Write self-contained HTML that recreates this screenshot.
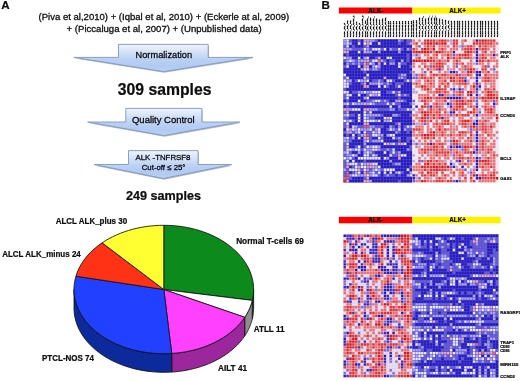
<!DOCTYPE html><html><head><meta charset="utf-8"><title>Figure</title>
<style>html,body{margin:0;padding:0;background:#fff}svg{display:block}text{font-family:"Liberation Sans",Arial,sans-serif;fill:#0a0a0a;stroke:#0a0a0a;stroke-width:0.28px;stroke-linejoin:round}.b{font-weight:bold;stroke-width:0.2px}</style></head><body>
<svg width="520" height="381" viewBox="0 0 520 381">
<defs>
<linearGradient id="ag" x1="0" y1="0" x2="0" y2="1"><stop offset="0" stop-color="#eef4fc"/><stop offset="0.3" stop-color="#d3e1f7"/><stop offset="0.55" stop-color="#bbd1f4"/><stop offset="0.8" stop-color="#b1caf2"/><stop offset="1" stop-color="#bcd2f4"/></linearGradient>
<filter id="bl" x="-2%" y="-2%" width="104%" height="104%"><feGaussianBlur stdDeviation="0.5"/></filter>
<filter id="bl2" x="-5%" y="-5%" width="110%" height="110%"><feGaussianBlur stdDeviation="0.3"/></filter>
<filter id="soft" x="0" y="0" width="100%" height="100%" filterUnits="objectBoundingBox"><feGaussianBlur stdDeviation="0.32"/></filter>
</defs>
<rect width="520" height="381" fill="#fff"/>
<g filter="url(#soft)">
<text class="b" x="1.3" y="8.5" font-size="11.6">A</text>
<text class="b" x="321.5" y="8.5" font-size="11.6">B</text>
<text x="38.6" y="20.2" font-size="9.45" text-anchor="start" textLength="250.6" lengthAdjust="spacingAndGlyphs">(Piva et al,2010) + (Iqbal et al, 2010) + (Eckerle at al, 2009)</text>
<text x="66.6" y="31.6" font-size="9.45" text-anchor="start" textLength="195" lengthAdjust="spacingAndGlyphs">+ (Piccaluga et al, 2007) + (Unpublished data)</text>
<path d="M118.5 44.4H208.2V57.4L253.0 57.4L163.5 71.6L73.8 57.4L118.5 57.4Z" transform="translate(0.7 1.2)" fill="#7d879b" opacity="0.6" filter="url(#bl2)"/>
<path d="M118.5 44.4H208.2V57.4L253.0 57.4L163.5 71.6L73.8 57.4L118.5 57.4Z" fill="url(#ag)" stroke="#7f97c3" stroke-width="0.9" stroke-linejoin="miter"/>
<text x="163.8" y="58.2" font-size="9.6" text-anchor="middle" textLength="56.5" lengthAdjust="spacingAndGlyphs">Normalization</text>
<text class="b" x="164.6" y="95.0" font-size="15.6" text-anchor="middle" textLength="93.8" lengthAdjust="spacingAndGlyphs">309 samples</text>
<path d="M125.8 108.4H201.9V122.0L239.8 122.0L163.8 135.6L87.7 122.0L125.8 122.0Z" transform="translate(0.7 1.2)" fill="#7d879b" opacity="0.6" filter="url(#bl2)"/>
<path d="M125.8 108.4H201.9V122.0L239.8 122.0L163.8 135.6L87.7 122.0L125.8 122.0Z" fill="url(#ag)" stroke="#7f97c3" stroke-width="0.9" stroke-linejoin="miter"/>
<text x="163.3" y="122.6" font-size="9.6" text-anchor="middle" textLength="62.6" lengthAdjust="spacingAndGlyphs">Quality Control</text>
<path d="M128.5 150.6H198.1V164.5L231.7 164.5L163.3 178.5L94.2 164.5L128.5 164.5Z" transform="translate(0.7 1.2)" fill="#7d879b" opacity="0.6" filter="url(#bl2)"/>
<path d="M128.5 150.6H198.1V164.5L231.7 164.5L163.3 178.5L94.2 164.5L128.5 164.5Z" fill="url(#ag)" stroke="#7f97c3" stroke-width="0.9" stroke-linejoin="miter"/>
<text x="163.0" y="159.6" font-size="8.1" text-anchor="middle" textLength="55" lengthAdjust="spacingAndGlyphs">ALK -TNFRSF8</text>
<text x="163.6" y="169.8" font-size="8.1" text-anchor="middle" textLength="43.75" lengthAdjust="spacingAndGlyphs">Cut-off ≤ 25°</text>
<text class="b" x="163.5" y="199.8" font-size="12.6" text-anchor="middle" textLength="75" lengthAdjust="spacingAndGlyphs">249 samples</text>
<g stroke="#111" stroke-width="0.85" stroke-linejoin="round">
<path d="M253.60 289.50 L253.60 289.96 L253.59 290.41 L253.58 290.87 L253.56 291.32 L253.54 291.78 L253.52 292.23 L253.49 292.69 L253.46 293.14 L253.42 293.60 L253.37 294.05 L253.33 294.51 L253.27 294.96 L253.22 295.41 L253.16 295.87 L253.09 296.32 L253.02 296.77 L252.95 297.23 L252.87 297.68 L252.78 298.13 L252.70 298.58 L252.60 299.03 L252.51 299.48 L252.41 299.93 L252.30 300.38 L252.30 318.98 L252.41 318.53 L252.51 318.08 L252.60 317.63 L252.70 317.18 L252.78 316.73 L252.87 316.28 L252.95 315.83 L253.02 315.37 L253.09 314.92 L253.16 314.47 L253.22 314.01 L253.27 313.56 L253.33 313.11 L253.37 312.65 L253.42 312.20 L253.46 311.74 L253.49 311.29 L253.52 310.83 L253.54 310.38 L253.56 309.92 L253.58 309.47 L253.59 309.01 L253.60 308.56 L253.60 308.10Z" fill="#0a5c12"/>
<path d="M252.30 300.38 L252.12 301.11 L251.92 301.84 L251.72 302.57 L251.50 303.30 L251.27 304.02 L251.03 304.74 L250.78 305.46 L250.52 306.18 L250.24 306.90 L249.95 307.61 L249.65 308.32 L249.34 309.03 L249.02 309.74 L248.69 310.44 L248.34 311.14 L247.99 311.84 L247.62 312.53 L247.24 313.22 L246.85 313.91 L246.45 314.60 L246.04 315.28 L245.62 315.96 L245.19 316.63 L244.74 317.30 L244.74 335.90 L245.19 335.23 L245.62 334.56 L246.04 333.88 L246.45 333.20 L246.85 332.51 L247.24 331.82 L247.62 331.13 L247.99 330.44 L248.34 329.74 L248.69 329.04 L249.02 328.34 L249.34 327.63 L249.65 326.92 L249.95 326.21 L250.24 325.50 L250.52 324.78 L250.78 324.06 L251.03 323.34 L251.27 322.62 L251.50 321.90 L251.72 321.17 L251.92 320.44 L252.12 319.71 L252.30 318.98Z" fill="#8e8e8e"/>
<path d="M244.74 317.30 L242.99 319.77 L241.09 322.18 L239.05 324.53 L236.87 326.82 L234.55 329.04 L232.10 331.18 L229.53 333.24 L226.83 335.23 L224.01 337.13 L221.09 338.94 L218.05 340.66 L214.92 342.28 L211.69 343.81 L208.37 345.23 L204.97 346.55 L201.49 347.77 L197.95 348.88 L194.34 349.87 L190.67 350.76 L186.95 351.53 L183.19 352.19 L179.39 352.72 L175.57 353.15 L171.72 353.45 L171.72 372.05 L175.57 371.75 L179.39 371.32 L183.19 370.79 L186.95 370.13 L190.67 369.36 L194.34 368.47 L197.95 367.48 L201.49 366.37 L204.97 365.15 L208.37 363.83 L211.69 362.41 L214.92 360.88 L218.05 359.26 L221.09 357.54 L224.01 355.73 L226.83 353.83 L229.53 351.84 L232.10 349.78 L234.55 347.64 L236.87 345.42 L239.05 343.13 L241.09 340.78 L242.99 338.37 L244.74 335.90Z" fill="#9c289c"/>
<path d="M171.72 353.45 L165.52 353.69 L159.32 353.62 L153.13 353.25 L147.00 352.57 L140.95 351.59 L135.00 350.31 L129.20 348.74 L123.55 346.89 L118.11 344.77 L112.87 342.38 L107.89 339.74 L103.17 336.86 L98.74 333.75 L94.62 330.43 L90.83 326.92 L87.39 323.22 L84.31 319.37 L81.61 315.37 L79.31 311.25 L77.41 307.03 L75.92 302.72 L74.86 298.35 L74.21 293.93 L74.00 289.50 L74.00 308.10 L74.21 312.53 L74.86 316.95 L75.92 321.32 L77.41 325.63 L79.31 329.85 L81.61 333.97 L84.31 337.97 L87.39 341.82 L90.83 345.52 L94.62 349.03 L98.74 352.35 L103.17 355.46 L107.89 358.34 L112.87 360.98 L118.11 363.37 L123.55 365.49 L129.20 367.34 L135.00 368.91 L140.95 370.19 L147.00 371.17 L153.13 371.85 L159.32 372.22 L165.52 372.29 L171.72 372.05Z" fill="#0c2a9c"/>
<path d="M163.8 289.5 L163.80 225.30 L168.40 225.38 L172.98 225.64 L177.54 226.06 L182.07 226.64 L186.54 227.39 L190.96 228.31 L195.31 229.38 L199.57 230.61 L203.74 232.00 L207.80 233.54 L211.75 235.22 L215.58 237.05 L219.26 239.01 L222.81 241.10 L226.19 243.33 L229.42 245.67 L232.47 248.13 L235.34 250.70 L238.03 253.37 L240.52 256.13 L242.80 258.98 L244.89 261.91 L246.75 264.92 L248.41 267.98 L249.84 271.11 L251.04 274.28 L252.02 277.49 L252.76 280.74 L253.27 284.00 L253.55 287.28 L253.59 290.57 L253.39 293.86 L252.96 297.13 L252.30 300.38Z" fill="#0f8a1e"/>
<path d="M163.8 289.5 L252.30 300.38 L251.32 303.88 L250.07 307.33 L248.55 310.72 L246.78 314.05 L244.74 317.30Z" fill="#ffffff"/>
<path d="M163.8 289.5 L244.74 317.30 L242.62 320.26 L240.29 323.13 L237.76 325.91 L235.03 328.60 L232.10 331.18 L229.00 333.65 L225.72 336.00 L222.27 338.23 L218.67 340.32 L214.92 342.28 L211.03 344.10 L207.02 345.77 L202.89 347.30 L198.66 348.66 L194.34 349.87 L189.93 350.92 L185.45 351.81 L180.92 352.52 L176.34 353.07 L171.72 353.45Z" fill="#ff40ff"/>
<path d="M163.8 289.5 L171.72 353.45 L167.20 353.65 L162.67 353.69 L158.14 353.57 L153.62 353.29 L149.14 352.84 L144.69 352.23 L140.28 351.46 L135.94 350.53 L131.67 349.45 L127.48 348.22 L123.39 346.83 L119.39 345.30 L115.51 343.63 L111.75 341.82 L108.13 339.87 L104.64 337.80 L101.31 335.61 L98.14 333.29 L95.13 330.87 L92.30 328.34 L89.65 325.71 L87.19 322.99 L84.92 320.19 L82.86 317.30 L81.00 314.35 L79.35 311.33 L77.92 308.26 L76.70 305.14 L75.71 301.98 L74.94 298.78 L74.40 295.57 L74.09 292.33 L74.00 289.10 L74.14 285.86 L74.52 282.63 L75.11 279.42 L75.94 276.23Z" fill="#2040ff"/>
<path d="M163.8 289.5 L75.94 276.23 L76.99 273.08 L78.26 269.97 L79.74 266.91 L81.44 263.91 L83.36 260.97 L85.47 258.10 L87.79 255.32 L90.29 252.62 L92.99 250.02 L95.87 247.51 L98.92 245.12 L102.13 242.83Z" fill="#ff3018"/>
<path d="M163.8 289.5 L102.13 242.83 L105.50 240.67 L109.02 238.63 L112.68 236.72 L116.47 234.94 L120.38 233.30 L124.40 231.81 L128.52 230.46 L132.73 229.26 L137.02 228.22 L141.38 227.33 L145.79 226.60 L150.26 226.03 L154.75 225.63 L159.27 225.38 L163.80 225.30Z" fill="#ffff30"/>
</g>
<text class="b" x="55.7" y="224.4" font-size="8.7" textLength="71.4" lengthAdjust="spacingAndGlyphs">ALCL ALK_plus 30</text>
<text class="b" x="2.2" y="257.2" font-size="8.7" textLength="78.6" lengthAdjust="spacingAndGlyphs">ALCL ALK_minus 24</text>
<text class="b" x="236.2" y="243.7" font-size="8.7" textLength="67.6" lengthAdjust="spacingAndGlyphs">Normal T-cells 69</text>
<text class="b" x="253.7" y="332" font-size="8.7" textLength="30.8" lengthAdjust="spacingAndGlyphs">ATLL 11</text>
<text class="b" x="218" y="371" font-size="8.7" textLength="29.0" lengthAdjust="spacingAndGlyphs">AILT 41</text>
<text class="b" x="42" y="360.7" font-size="8.7" textLength="52.0" lengthAdjust="spacingAndGlyphs">PTCL-NOS 74</text>
<g filter="url(#bl)">
<rect x="343.3" y="39.2" width="68.98" height="143.40" fill="#564bd0"/>
<rect x="412.28" y="39.2" width="86.22" height="143.40" fill="#f7d6dc"/>
<path d="M352.17 39.45h2.37v2.37h-2.37zM355.05 39.45h2.37v2.37h-2.37zM360.79 39.45h2.37v2.37h-2.37zM378.04 39.45h2.37v2.37h-2.37zM380.91 39.45h2.37v2.37h-2.37zM383.79 39.45h2.37v2.37h-2.37zM386.66 39.45h2.37v2.37h-2.37zM389.54 39.45h2.37v2.37h-2.37zM392.41 39.45h2.37v2.37h-2.37zM395.28 39.45h2.37v2.37h-2.37zM403.91 39.45h2.37v2.37h-2.37zM475.76 39.45h2.37v2.37h-2.37zM352.17 42.32h2.37v2.37h-2.37zM355.05 42.32h2.37v2.37h-2.37zM360.79 42.32h2.37v2.37h-2.37zM372.29 42.32h2.37v2.37h-2.37zM375.16 42.32h2.37v2.37h-2.37zM380.91 42.32h2.37v2.37h-2.37zM383.79 42.32h2.37v2.37h-2.37zM386.66 42.32h2.37v2.37h-2.37zM389.54 42.32h2.37v2.37h-2.37zM392.41 42.32h2.37v2.37h-2.37zM395.28 42.32h2.37v2.37h-2.37zM401.03 42.32h2.37v2.37h-2.37zM403.91 42.32h2.37v2.37h-2.37zM349.30 45.19h2.37v2.37h-2.37zM355.05 45.19h2.37v2.37h-2.37zM357.92 45.19h2.37v2.37h-2.37zM360.79 45.19h2.37v2.37h-2.37zM369.42 45.19h2.37v2.37h-2.37zM372.29 45.19h2.37v2.37h-2.37zM375.16 45.19h2.37v2.37h-2.37zM378.04 45.19h2.37v2.37h-2.37zM380.91 45.19h2.37v2.37h-2.37zM383.79 45.19h2.37v2.37h-2.37zM386.66 45.19h2.37v2.37h-2.37zM389.54 45.19h2.37v2.37h-2.37zM392.41 45.19h2.37v2.37h-2.37zM395.28 45.19h2.37v2.37h-2.37zM398.16 45.19h2.37v2.37h-2.37zM401.03 45.19h2.37v2.37h-2.37zM403.91 45.19h2.37v2.37h-2.37zM406.78 45.19h2.37v2.37h-2.37zM409.65 45.19h2.37v2.37h-2.37zM386.66 48.05h2.37v2.37h-2.37zM403.91 48.05h2.37v2.37h-2.37zM475.76 48.05h2.37v2.37h-2.37zM349.30 50.92h2.37v2.37h-2.37zM352.17 50.92h2.37v2.37h-2.37zM355.05 50.92h2.37v2.37h-2.37zM360.79 50.92h2.37v2.37h-2.37zM372.29 50.92h2.37v2.37h-2.37zM375.16 50.92h2.37v2.37h-2.37zM380.91 50.92h2.37v2.37h-2.37zM383.79 50.92h2.37v2.37h-2.37zM386.66 50.92h2.37v2.37h-2.37zM389.54 50.92h2.37v2.37h-2.37zM392.41 50.92h2.37v2.37h-2.37zM395.28 50.92h2.37v2.37h-2.37zM401.03 50.92h2.37v2.37h-2.37zM403.91 50.92h2.37v2.37h-2.37zM406.78 50.92h2.37v2.37h-2.37zM409.65 50.92h2.37v2.37h-2.37zM452.76 50.92h2.37v2.37h-2.37zM475.76 50.92h2.37v2.37h-2.37zM343.55 53.79h2.37v2.37h-2.37zM349.30 53.79h2.37v2.37h-2.37zM352.17 53.79h2.37v2.37h-2.37zM355.05 53.79h2.37v2.37h-2.37zM357.92 53.79h2.37v2.37h-2.37zM360.79 53.79h2.37v2.37h-2.37zM363.67 53.79h2.37v2.37h-2.37zM366.54 53.79h2.37v2.37h-2.37zM369.42 53.79h2.37v2.37h-2.37zM372.29 53.79h2.37v2.37h-2.37zM375.16 53.79h2.37v2.37h-2.37zM378.04 53.79h2.37v2.37h-2.37zM380.91 53.79h2.37v2.37h-2.37zM383.79 53.79h2.37v2.37h-2.37zM386.66 53.79h2.37v2.37h-2.37zM389.54 53.79h2.37v2.37h-2.37zM392.41 53.79h2.37v2.37h-2.37zM395.28 53.79h2.37v2.37h-2.37zM398.16 53.79h2.37v2.37h-2.37zM401.03 53.79h2.37v2.37h-2.37zM403.91 53.79h2.37v2.37h-2.37zM409.65 53.79h2.37v2.37h-2.37zM475.76 53.79h2.37v2.37h-2.37zM493.00 53.79h2.37v2.37h-2.37zM352.17 56.66h2.37v2.37h-2.37zM355.05 56.66h2.37v2.37h-2.37zM360.79 56.66h2.37v2.37h-2.37zM369.42 56.66h2.37v2.37h-2.37zM372.29 56.66h2.37v2.37h-2.37zM380.91 56.66h2.37v2.37h-2.37zM383.79 56.66h2.37v2.37h-2.37zM392.41 56.66h2.37v2.37h-2.37zM395.28 56.66h2.37v2.37h-2.37zM398.16 56.66h2.37v2.37h-2.37zM401.03 56.66h2.37v2.37h-2.37zM403.91 56.66h2.37v2.37h-2.37zM409.65 56.66h2.37v2.37h-2.37zM475.76 56.66h2.37v2.37h-2.37zM386.66 59.53h2.37v2.37h-2.37zM395.28 59.53h2.37v2.37h-2.37zM398.16 59.53h2.37v2.37h-2.37zM403.91 59.53h2.37v2.37h-2.37zM409.65 59.53h2.37v2.37h-2.37zM475.76 59.53h2.37v2.37h-2.37zM343.55 62.39h2.37v2.37h-2.37zM375.16 62.39h2.37v2.37h-2.37zM380.91 62.39h2.37v2.37h-2.37zM386.66 62.39h2.37v2.37h-2.37zM395.28 62.39h2.37v2.37h-2.37zM406.78 62.39h2.37v2.37h-2.37zM409.65 62.39h2.37v2.37h-2.37zM349.30 65.26h2.37v2.37h-2.37zM352.17 65.26h2.37v2.37h-2.37zM355.05 65.26h2.37v2.37h-2.37zM360.79 65.26h2.37v2.37h-2.37zM369.42 65.26h2.37v2.37h-2.37zM380.91 65.26h2.37v2.37h-2.37zM383.79 65.26h2.37v2.37h-2.37zM386.66 65.26h2.37v2.37h-2.37zM389.54 65.26h2.37v2.37h-2.37zM392.41 65.26h2.37v2.37h-2.37zM395.28 65.26h2.37v2.37h-2.37zM401.03 65.26h2.37v2.37h-2.37zM403.91 65.26h2.37v2.37h-2.37zM406.78 65.26h2.37v2.37h-2.37zM343.55 68.13h2.37v2.37h-2.37zM346.42 68.13h2.37v2.37h-2.37zM349.30 68.13h2.37v2.37h-2.37zM352.17 68.13h2.37v2.37h-2.37zM355.05 68.13h2.37v2.37h-2.37zM357.92 68.13h2.37v2.37h-2.37zM380.91 68.13h2.37v2.37h-2.37zM383.79 68.13h2.37v2.37h-2.37zM386.66 68.13h2.37v2.37h-2.37zM389.54 68.13h2.37v2.37h-2.37zM392.41 68.13h2.37v2.37h-2.37zM395.28 68.13h2.37v2.37h-2.37zM398.16 68.13h2.37v2.37h-2.37zM401.03 68.13h2.37v2.37h-2.37zM403.91 68.13h2.37v2.37h-2.37zM406.78 68.13h2.37v2.37h-2.37zM409.65 68.13h2.37v2.37h-2.37zM438.39 68.13h2.37v2.37h-2.37zM343.55 71.00h2.37v2.37h-2.37zM346.42 71.00h2.37v2.37h-2.37zM349.30 71.00h2.37v2.37h-2.37zM352.17 71.00h2.37v2.37h-2.37zM355.05 71.00h2.37v2.37h-2.37zM357.92 71.00h2.37v2.37h-2.37zM360.79 71.00h2.37v2.37h-2.37zM366.54 71.00h2.37v2.37h-2.37zM369.42 71.00h2.37v2.37h-2.37zM372.29 71.00h2.37v2.37h-2.37zM375.16 71.00h2.37v2.37h-2.37zM378.04 71.00h2.37v2.37h-2.37zM380.91 71.00h2.37v2.37h-2.37zM383.79 71.00h2.37v2.37h-2.37zM386.66 71.00h2.37v2.37h-2.37zM389.54 71.00h2.37v2.37h-2.37zM392.41 71.00h2.37v2.37h-2.37zM395.28 71.00h2.37v2.37h-2.37zM398.16 71.00h2.37v2.37h-2.37zM401.03 71.00h2.37v2.37h-2.37zM403.91 71.00h2.37v2.37h-2.37zM406.78 71.00h2.37v2.37h-2.37zM449.89 71.00h2.37v2.37h-2.37zM452.76 71.00h2.37v2.37h-2.37zM475.76 71.00h2.37v2.37h-2.37zM478.63 71.00h2.37v2.37h-2.37zM346.42 73.87h2.37v2.37h-2.37zM349.30 73.87h2.37v2.37h-2.37zM352.17 73.87h2.37v2.37h-2.37zM355.05 73.87h2.37v2.37h-2.37zM357.92 73.87h2.37v2.37h-2.37zM360.79 73.87h2.37v2.37h-2.37zM363.67 73.87h2.37v2.37h-2.37zM369.42 73.87h2.37v2.37h-2.37zM372.29 73.87h2.37v2.37h-2.37zM375.16 73.87h2.37v2.37h-2.37zM378.04 73.87h2.37v2.37h-2.37zM380.91 73.87h2.37v2.37h-2.37zM383.79 73.87h2.37v2.37h-2.37zM386.66 73.87h2.37v2.37h-2.37zM389.54 73.87h2.37v2.37h-2.37zM392.41 73.87h2.37v2.37h-2.37zM395.28 73.87h2.37v2.37h-2.37zM406.78 73.87h2.37v2.37h-2.37zM409.65 73.87h2.37v2.37h-2.37zM475.76 73.87h2.37v2.37h-2.37zM478.63 73.87h2.37v2.37h-2.37zM349.30 76.73h2.37v2.37h-2.37zM352.17 76.73h2.37v2.37h-2.37zM355.05 76.73h2.37v2.37h-2.37zM357.92 76.73h2.37v2.37h-2.37zM360.79 76.73h2.37v2.37h-2.37zM369.42 76.73h2.37v2.37h-2.37zM372.29 76.73h2.37v2.37h-2.37zM375.16 76.73h2.37v2.37h-2.37zM378.04 76.73h2.37v2.37h-2.37zM380.91 76.73h2.37v2.37h-2.37zM386.66 76.73h2.37v2.37h-2.37zM389.54 76.73h2.37v2.37h-2.37zM392.41 76.73h2.37v2.37h-2.37zM395.28 76.73h2.37v2.37h-2.37zM406.78 76.73h2.37v2.37h-2.37zM409.65 76.73h2.37v2.37h-2.37zM475.76 76.73h2.37v2.37h-2.37zM352.17 79.60h2.37v2.37h-2.37zM369.42 79.60h2.37v2.37h-2.37zM383.79 79.60h2.37v2.37h-2.37zM395.28 79.60h2.37v2.37h-2.37zM398.16 79.60h2.37v2.37h-2.37zM401.03 79.60h2.37v2.37h-2.37zM464.26 79.60h2.37v2.37h-2.37zM475.76 79.60h2.37v2.37h-2.37zM352.17 82.47h2.37v2.37h-2.37zM355.05 82.47h2.37v2.37h-2.37zM357.92 82.47h2.37v2.37h-2.37zM366.54 82.47h2.37v2.37h-2.37zM392.41 82.47h2.37v2.37h-2.37zM403.91 82.47h2.37v2.37h-2.37zM406.78 82.47h2.37v2.37h-2.37zM409.65 82.47h2.37v2.37h-2.37zM475.76 82.47h2.37v2.37h-2.37zM349.30 85.34h2.37v2.37h-2.37zM352.17 85.34h2.37v2.37h-2.37zM355.05 85.34h2.37v2.37h-2.37zM357.92 85.34h2.37v2.37h-2.37zM360.79 85.34h2.37v2.37h-2.37zM369.42 85.34h2.37v2.37h-2.37zM372.29 85.34h2.37v2.37h-2.37zM375.16 85.34h2.37v2.37h-2.37zM380.91 85.34h2.37v2.37h-2.37zM389.54 85.34h2.37v2.37h-2.37zM392.41 85.34h2.37v2.37h-2.37zM401.03 85.34h2.37v2.37h-2.37zM403.91 85.34h2.37v2.37h-2.37zM406.78 85.34h2.37v2.37h-2.37zM409.65 85.34h2.37v2.37h-2.37zM478.63 85.34h2.37v2.37h-2.37zM346.42 88.21h2.37v2.37h-2.37zM349.30 88.21h2.37v2.37h-2.37zM352.17 88.21h2.37v2.37h-2.37zM355.05 88.21h2.37v2.37h-2.37zM357.92 88.21h2.37v2.37h-2.37zM360.79 88.21h2.37v2.37h-2.37zM363.67 88.21h2.37v2.37h-2.37zM366.54 88.21h2.37v2.37h-2.37zM369.42 88.21h2.37v2.37h-2.37zM372.29 88.21h2.37v2.37h-2.37zM375.16 88.21h2.37v2.37h-2.37zM378.04 88.21h2.37v2.37h-2.37zM380.91 88.21h2.37v2.37h-2.37zM383.79 88.21h2.37v2.37h-2.37zM386.66 88.21h2.37v2.37h-2.37zM389.54 88.21h2.37v2.37h-2.37zM392.41 88.21h2.37v2.37h-2.37zM395.28 88.21h2.37v2.37h-2.37zM398.16 88.21h2.37v2.37h-2.37zM401.03 88.21h2.37v2.37h-2.37zM403.91 88.21h2.37v2.37h-2.37zM406.78 88.21h2.37v2.37h-2.37zM409.65 88.21h2.37v2.37h-2.37zM452.76 88.21h2.37v2.37h-2.37zM458.51 88.21h2.37v2.37h-2.37zM475.76 88.21h2.37v2.37h-2.37zM349.30 91.07h2.37v2.37h-2.37zM380.91 91.07h2.37v2.37h-2.37zM383.79 91.07h2.37v2.37h-2.37zM401.03 91.07h2.37v2.37h-2.37zM403.91 91.07h2.37v2.37h-2.37zM406.78 91.07h2.37v2.37h-2.37zM409.65 91.07h2.37v2.37h-2.37zM352.17 93.94h2.37v2.37h-2.37zM355.05 93.94h2.37v2.37h-2.37zM360.79 93.94h2.37v2.37h-2.37zM363.67 93.94h2.37v2.37h-2.37zM380.91 93.94h2.37v2.37h-2.37zM383.79 93.94h2.37v2.37h-2.37zM386.66 93.94h2.37v2.37h-2.37zM389.54 93.94h2.37v2.37h-2.37zM392.41 93.94h2.37v2.37h-2.37zM409.65 93.94h2.37v2.37h-2.37zM438.39 93.94h2.37v2.37h-2.37zM441.27 93.94h2.37v2.37h-2.37zM470.01 93.94h2.37v2.37h-2.37zM475.76 93.94h2.37v2.37h-2.37zM349.30 96.81h2.37v2.37h-2.37zM352.17 96.81h2.37v2.37h-2.37zM355.05 96.81h2.37v2.37h-2.37zM357.92 96.81h2.37v2.37h-2.37zM360.79 96.81h2.37v2.37h-2.37zM369.42 96.81h2.37v2.37h-2.37zM372.29 96.81h2.37v2.37h-2.37zM375.16 96.81h2.37v2.37h-2.37zM378.04 96.81h2.37v2.37h-2.37zM380.91 96.81h2.37v2.37h-2.37zM383.79 96.81h2.37v2.37h-2.37zM386.66 96.81h2.37v2.37h-2.37zM389.54 96.81h2.37v2.37h-2.37zM392.41 96.81h2.37v2.37h-2.37zM395.28 96.81h2.37v2.37h-2.37zM401.03 96.81h2.37v2.37h-2.37zM403.91 96.81h2.37v2.37h-2.37zM406.78 96.81h2.37v2.37h-2.37zM409.65 96.81h2.37v2.37h-2.37zM447.02 96.81h2.37v2.37h-2.37zM449.89 96.81h2.37v2.37h-2.37zM452.76 96.81h2.37v2.37h-2.37zM455.64 96.81h2.37v2.37h-2.37zM458.51 96.81h2.37v2.37h-2.37zM343.55 99.68h2.37v2.37h-2.37zM349.30 99.68h2.37v2.37h-2.37zM352.17 99.68h2.37v2.37h-2.37zM355.05 99.68h2.37v2.37h-2.37zM360.79 99.68h2.37v2.37h-2.37zM363.67 99.68h2.37v2.37h-2.37zM389.54 99.68h2.37v2.37h-2.37zM392.41 99.68h2.37v2.37h-2.37zM406.78 99.68h2.37v2.37h-2.37zM409.65 99.68h2.37v2.37h-2.37zM401.03 102.55h2.37v2.37h-2.37zM403.91 102.55h2.37v2.37h-2.37zM406.78 102.55h2.37v2.37h-2.37zM447.02 102.55h2.37v2.37h-2.37zM493.00 102.55h2.37v2.37h-2.37zM343.55 105.41h2.37v2.37h-2.37zM349.30 105.41h2.37v2.37h-2.37zM352.17 105.41h2.37v2.37h-2.37zM355.05 105.41h2.37v2.37h-2.37zM357.92 105.41h2.37v2.37h-2.37zM360.79 105.41h2.37v2.37h-2.37zM363.67 105.41h2.37v2.37h-2.37zM366.54 105.41h2.37v2.37h-2.37zM369.42 105.41h2.37v2.37h-2.37zM372.29 105.41h2.37v2.37h-2.37zM375.16 105.41h2.37v2.37h-2.37zM378.04 105.41h2.37v2.37h-2.37zM380.91 105.41h2.37v2.37h-2.37zM383.79 105.41h2.37v2.37h-2.37zM386.66 105.41h2.37v2.37h-2.37zM392.41 105.41h2.37v2.37h-2.37zM395.28 105.41h2.37v2.37h-2.37zM401.03 105.41h2.37v2.37h-2.37zM403.91 105.41h2.37v2.37h-2.37zM406.78 105.41h2.37v2.37h-2.37zM409.65 105.41h2.37v2.37h-2.37zM415.40 105.41h2.37v2.37h-2.37zM429.77 105.41h2.37v2.37h-2.37zM449.89 105.41h2.37v2.37h-2.37zM475.76 105.41h2.37v2.37h-2.37zM360.79 108.28h2.37v2.37h-2.37zM395.28 108.28h2.37v2.37h-2.37zM349.30 111.15h2.37v2.37h-2.37zM352.17 111.15h2.37v2.37h-2.37zM355.05 111.15h2.37v2.37h-2.37zM357.92 111.15h2.37v2.37h-2.37zM360.79 111.15h2.37v2.37h-2.37zM372.29 111.15h2.37v2.37h-2.37zM375.16 111.15h2.37v2.37h-2.37zM378.04 111.15h2.37v2.37h-2.37zM380.91 111.15h2.37v2.37h-2.37zM383.79 111.15h2.37v2.37h-2.37zM386.66 111.15h2.37v2.37h-2.37zM389.54 111.15h2.37v2.37h-2.37zM392.41 111.15h2.37v2.37h-2.37zM395.28 111.15h2.37v2.37h-2.37zM398.16 111.15h2.37v2.37h-2.37zM401.03 111.15h2.37v2.37h-2.37zM403.91 111.15h2.37v2.37h-2.37zM406.78 111.15h2.37v2.37h-2.37zM409.65 111.15h2.37v2.37h-2.37zM449.89 111.15h2.37v2.37h-2.37zM452.76 111.15h2.37v2.37h-2.37zM355.05 114.02h2.37v2.37h-2.37zM360.79 114.02h2.37v2.37h-2.37zM383.79 114.02h2.37v2.37h-2.37zM386.66 114.02h2.37v2.37h-2.37zM389.54 114.02h2.37v2.37h-2.37zM401.03 114.02h2.37v2.37h-2.37zM403.91 114.02h2.37v2.37h-2.37zM406.78 114.02h2.37v2.37h-2.37zM475.76 114.02h2.37v2.37h-2.37zM349.30 116.89h2.37v2.37h-2.37zM352.17 116.89h2.37v2.37h-2.37zM355.05 116.89h2.37v2.37h-2.37zM360.79 116.89h2.37v2.37h-2.37zM375.16 116.89h2.37v2.37h-2.37zM378.04 116.89h2.37v2.37h-2.37zM380.91 116.89h2.37v2.37h-2.37zM392.41 116.89h2.37v2.37h-2.37zM395.28 116.89h2.37v2.37h-2.37zM398.16 116.89h2.37v2.37h-2.37zM401.03 116.89h2.37v2.37h-2.37zM403.91 116.89h2.37v2.37h-2.37zM406.78 116.89h2.37v2.37h-2.37zM409.65 116.89h2.37v2.37h-2.37zM441.27 116.89h2.37v2.37h-2.37zM355.05 119.75h2.37v2.37h-2.37zM360.79 119.75h2.37v2.37h-2.37zM380.91 119.75h2.37v2.37h-2.37zM392.41 119.75h2.37v2.37h-2.37zM395.28 119.75h2.37v2.37h-2.37zM398.16 119.75h2.37v2.37h-2.37zM401.03 119.75h2.37v2.37h-2.37zM403.91 119.75h2.37v2.37h-2.37zM406.78 119.75h2.37v2.37h-2.37zM409.65 119.75h2.37v2.37h-2.37zM475.76 119.75h2.37v2.37h-2.37zM349.30 122.62h2.37v2.37h-2.37zM352.17 122.62h2.37v2.37h-2.37zM355.05 122.62h2.37v2.37h-2.37zM357.92 122.62h2.37v2.37h-2.37zM360.79 122.62h2.37v2.37h-2.37zM369.42 122.62h2.37v2.37h-2.37zM372.29 122.62h2.37v2.37h-2.37zM375.16 122.62h2.37v2.37h-2.37zM378.04 122.62h2.37v2.37h-2.37zM380.91 122.62h2.37v2.37h-2.37zM383.79 122.62h2.37v2.37h-2.37zM386.66 122.62h2.37v2.37h-2.37zM389.54 122.62h2.37v2.37h-2.37zM392.41 122.62h2.37v2.37h-2.37zM401.03 122.62h2.37v2.37h-2.37zM403.91 122.62h2.37v2.37h-2.37zM406.78 122.62h2.37v2.37h-2.37zM409.65 122.62h2.37v2.37h-2.37zM472.88 122.62h2.37v2.37h-2.37zM475.76 122.62h2.37v2.37h-2.37zM349.30 125.49h2.37v2.37h-2.37zM383.79 125.49h2.37v2.37h-2.37zM386.66 125.49h2.37v2.37h-2.37zM395.28 125.49h2.37v2.37h-2.37zM401.03 125.49h2.37v2.37h-2.37zM343.55 128.36h2.37v2.37h-2.37zM380.91 128.36h2.37v2.37h-2.37zM383.79 128.36h2.37v2.37h-2.37zM401.03 128.36h2.37v2.37h-2.37zM360.79 131.23h2.37v2.37h-2.37zM380.91 131.23h2.37v2.37h-2.37zM383.79 131.23h2.37v2.37h-2.37zM386.66 131.23h2.37v2.37h-2.37zM389.54 131.23h2.37v2.37h-2.37zM392.41 131.23h2.37v2.37h-2.37zM401.03 131.23h2.37v2.37h-2.37zM403.91 131.23h2.37v2.37h-2.37zM409.65 131.23h2.37v2.37h-2.37zM475.76 131.23h2.37v2.37h-2.37zM343.55 134.09h2.37v2.37h-2.37zM349.30 134.09h2.37v2.37h-2.37zM355.05 134.09h2.37v2.37h-2.37zM383.79 134.09h2.37v2.37h-2.37zM395.28 134.09h2.37v2.37h-2.37zM398.16 134.09h2.37v2.37h-2.37zM401.03 134.09h2.37v2.37h-2.37zM403.91 134.09h2.37v2.37h-2.37zM406.78 134.09h2.37v2.37h-2.37zM409.65 134.09h2.37v2.37h-2.37zM475.76 134.09h2.37v2.37h-2.37zM355.05 136.96h2.37v2.37h-2.37zM360.79 136.96h2.37v2.37h-2.37zM372.29 136.96h2.37v2.37h-2.37zM375.16 136.96h2.37v2.37h-2.37zM383.79 136.96h2.37v2.37h-2.37zM386.66 136.96h2.37v2.37h-2.37zM389.54 136.96h2.37v2.37h-2.37zM401.03 136.96h2.37v2.37h-2.37zM403.91 136.96h2.37v2.37h-2.37zM475.76 136.96h2.37v2.37h-2.37zM352.17 139.83h2.37v2.37h-2.37zM355.05 139.83h2.37v2.37h-2.37zM357.92 139.83h2.37v2.37h-2.37zM360.79 139.83h2.37v2.37h-2.37zM383.79 139.83h2.37v2.37h-2.37zM386.66 139.83h2.37v2.37h-2.37zM389.54 139.83h2.37v2.37h-2.37zM392.41 139.83h2.37v2.37h-2.37zM395.28 139.83h2.37v2.37h-2.37zM401.03 139.83h2.37v2.37h-2.37zM403.91 139.83h2.37v2.37h-2.37zM409.65 139.83h2.37v2.37h-2.37zM475.76 139.83h2.37v2.37h-2.37zM349.30 142.70h2.37v2.37h-2.37zM352.17 142.70h2.37v2.37h-2.37zM355.05 142.70h2.37v2.37h-2.37zM357.92 142.70h2.37v2.37h-2.37zM360.79 142.70h2.37v2.37h-2.37zM366.54 142.70h2.37v2.37h-2.37zM369.42 142.70h2.37v2.37h-2.37zM372.29 142.70h2.37v2.37h-2.37zM375.16 142.70h2.37v2.37h-2.37zM378.04 142.70h2.37v2.37h-2.37zM380.91 142.70h2.37v2.37h-2.37zM406.78 142.70h2.37v2.37h-2.37zM409.65 142.70h2.37v2.37h-2.37zM429.77 142.70h2.37v2.37h-2.37zM349.30 145.57h2.37v2.37h-2.37zM352.17 145.57h2.37v2.37h-2.37zM360.79 145.57h2.37v2.37h-2.37zM380.91 145.57h2.37v2.37h-2.37zM383.79 145.57h2.37v2.37h-2.37zM386.66 145.57h2.37v2.37h-2.37zM389.54 145.57h2.37v2.37h-2.37zM392.41 145.57h2.37v2.37h-2.37zM395.28 145.57h2.37v2.37h-2.37zM398.16 145.57h2.37v2.37h-2.37zM401.03 145.57h2.37v2.37h-2.37zM403.91 145.57h2.37v2.37h-2.37zM406.78 145.57h2.37v2.37h-2.37zM449.89 145.57h2.37v2.37h-2.37zM455.64 145.57h2.37v2.37h-2.37zM458.51 145.57h2.37v2.37h-2.37zM475.76 145.57h2.37v2.37h-2.37zM395.28 148.43h2.37v2.37h-2.37zM398.16 148.43h2.37v2.37h-2.37zM401.03 148.43h2.37v2.37h-2.37zM403.91 148.43h2.37v2.37h-2.37zM475.76 148.43h2.37v2.37h-2.37zM352.17 151.30h2.37v2.37h-2.37zM355.05 151.30h2.37v2.37h-2.37zM360.79 151.30h2.37v2.37h-2.37zM375.16 151.30h2.37v2.37h-2.37zM378.04 151.30h2.37v2.37h-2.37zM380.91 151.30h2.37v2.37h-2.37zM386.66 151.30h2.37v2.37h-2.37zM401.03 151.30h2.37v2.37h-2.37zM403.91 151.30h2.37v2.37h-2.37zM406.78 151.30h2.37v2.37h-2.37zM409.65 151.30h2.37v2.37h-2.37zM472.88 151.30h2.37v2.37h-2.37zM357.92 154.17h2.37v2.37h-2.37zM360.79 154.17h2.37v2.37h-2.37zM378.04 154.17h2.37v2.37h-2.37zM380.91 154.17h2.37v2.37h-2.37zM383.79 154.17h2.37v2.37h-2.37zM386.66 154.17h2.37v2.37h-2.37zM406.78 154.17h2.37v2.37h-2.37zM409.65 154.17h2.37v2.37h-2.37zM355.05 157.04h2.37v2.37h-2.37zM380.91 157.04h2.37v2.37h-2.37zM389.54 157.04h2.37v2.37h-2.37zM392.41 157.04h2.37v2.37h-2.37zM395.28 157.04h2.37v2.37h-2.37zM401.03 157.04h2.37v2.37h-2.37zM403.91 157.04h2.37v2.37h-2.37zM406.78 157.04h2.37v2.37h-2.37zM409.65 157.04h2.37v2.37h-2.37zM475.76 157.04h2.37v2.37h-2.37zM349.30 159.91h2.37v2.37h-2.37zM355.05 159.91h2.37v2.37h-2.37zM357.92 159.91h2.37v2.37h-2.37zM360.79 159.91h2.37v2.37h-2.37zM366.54 159.91h2.37v2.37h-2.37zM369.42 159.91h2.37v2.37h-2.37zM372.29 159.91h2.37v2.37h-2.37zM375.16 159.91h2.37v2.37h-2.37zM378.04 159.91h2.37v2.37h-2.37zM380.91 159.91h2.37v2.37h-2.37zM383.79 159.91h2.37v2.37h-2.37zM386.66 159.91h2.37v2.37h-2.37zM392.41 159.91h2.37v2.37h-2.37zM395.28 159.91h2.37v2.37h-2.37zM398.16 159.91h2.37v2.37h-2.37zM401.03 159.91h2.37v2.37h-2.37zM403.91 159.91h2.37v2.37h-2.37zM406.78 159.91h2.37v2.37h-2.37zM409.65 159.91h2.37v2.37h-2.37zM458.51 159.91h2.37v2.37h-2.37zM475.76 159.91h2.37v2.37h-2.37zM378.04 162.77h2.37v2.37h-2.37zM380.91 162.77h2.37v2.37h-2.37zM383.79 162.77h2.37v2.37h-2.37zM386.66 162.77h2.37v2.37h-2.37zM389.54 162.77h2.37v2.37h-2.37zM401.03 162.77h2.37v2.37h-2.37zM403.91 162.77h2.37v2.37h-2.37zM406.78 162.77h2.37v2.37h-2.37zM409.65 162.77h2.37v2.37h-2.37zM449.89 162.77h2.37v2.37h-2.37zM475.76 162.77h2.37v2.37h-2.37zM349.30 165.64h2.37v2.37h-2.37zM380.91 165.64h2.37v2.37h-2.37zM383.79 165.64h2.37v2.37h-2.37zM386.66 165.64h2.37v2.37h-2.37zM389.54 165.64h2.37v2.37h-2.37zM392.41 165.64h2.37v2.37h-2.37zM395.28 165.64h2.37v2.37h-2.37zM398.16 165.64h2.37v2.37h-2.37zM401.03 165.64h2.37v2.37h-2.37zM403.91 165.64h2.37v2.37h-2.37zM406.78 165.64h2.37v2.37h-2.37zM452.76 165.64h2.37v2.37h-2.37zM461.39 165.64h2.37v2.37h-2.37zM475.76 165.64h2.37v2.37h-2.37zM395.28 168.51h2.37v2.37h-2.37zM398.16 168.51h2.37v2.37h-2.37zM401.03 168.51h2.37v2.37h-2.37zM403.91 168.51h2.37v2.37h-2.37zM409.65 168.51h2.37v2.37h-2.37zM475.76 168.51h2.37v2.37h-2.37zM349.30 171.38h2.37v2.37h-2.37zM360.79 171.38h2.37v2.37h-2.37zM380.91 171.38h2.37v2.37h-2.37zM386.66 171.38h2.37v2.37h-2.37zM392.41 171.38h2.37v2.37h-2.37zM403.91 171.38h2.37v2.37h-2.37zM406.78 171.38h2.37v2.37h-2.37zM380.91 174.25h2.37v2.37h-2.37zM395.28 174.25h2.37v2.37h-2.37zM401.03 174.25h2.37v2.37h-2.37zM403.91 174.25h2.37v2.37h-2.37zM412.53 174.25h2.37v2.37h-2.37zM475.76 174.25h2.37v2.37h-2.37zM352.17 177.11h2.37v2.37h-2.37zM355.05 177.11h2.37v2.37h-2.37zM357.92 177.11h2.37v2.37h-2.37zM360.79 177.11h2.37v2.37h-2.37zM369.42 177.11h2.37v2.37h-2.37zM372.29 177.11h2.37v2.37h-2.37zM375.16 177.11h2.37v2.37h-2.37zM378.04 177.11h2.37v2.37h-2.37zM380.91 177.11h2.37v2.37h-2.37zM383.79 177.11h2.37v2.37h-2.37zM386.66 177.11h2.37v2.37h-2.37zM389.54 177.11h2.37v2.37h-2.37zM392.41 177.11h2.37v2.37h-2.37zM395.28 177.11h2.37v2.37h-2.37zM398.16 177.11h2.37v2.37h-2.37zM401.03 177.11h2.37v2.37h-2.37zM403.91 177.11h2.37v2.37h-2.37zM406.78 177.11h2.37v2.37h-2.37zM409.65 177.11h2.37v2.37h-2.37zM412.53 177.11h2.37v2.37h-2.37zM475.76 177.11h2.37v2.37h-2.37zM478.63 177.11h2.37v2.37h-2.37zM349.30 179.98h2.37v2.37h-2.37zM352.17 179.98h2.37v2.37h-2.37zM355.05 179.98h2.37v2.37h-2.37zM357.92 179.98h2.37v2.37h-2.37zM360.79 179.98h2.37v2.37h-2.37zM372.29 179.98h2.37v2.37h-2.37zM375.16 179.98h2.37v2.37h-2.37zM378.04 179.98h2.37v2.37h-2.37zM380.91 179.98h2.37v2.37h-2.37zM383.79 179.98h2.37v2.37h-2.37zM386.66 179.98h2.37v2.37h-2.37zM389.54 179.98h2.37v2.37h-2.37zM392.41 179.98h2.37v2.37h-2.37zM395.28 179.98h2.37v2.37h-2.37zM401.03 179.98h2.37v2.37h-2.37zM403.91 179.98h2.37v2.37h-2.37zM406.78 179.98h2.37v2.37h-2.37zM409.65 179.98h2.37v2.37h-2.37zM455.64 179.98h2.37v2.37h-2.37z" fill="#261cbe"/>
<path d="M349.30 39.45h2.37v2.37h-2.37zM357.92 39.45h2.37v2.37h-2.37zM375.16 39.45h2.37v2.37h-2.37zM401.03 39.45h2.37v2.37h-2.37zM406.78 39.45h2.37v2.37h-2.37zM409.65 39.45h2.37v2.37h-2.37zM398.16 42.32h2.37v2.37h-2.37zM406.78 42.32h2.37v2.37h-2.37zM343.55 45.19h2.37v2.37h-2.37zM352.17 45.19h2.37v2.37h-2.37zM363.67 45.19h2.37v2.37h-2.37zM418.28 45.19h2.37v2.37h-2.37zM461.39 45.19h2.37v2.37h-2.37zM352.17 48.05h2.37v2.37h-2.37zM355.05 48.05h2.37v2.37h-2.37zM357.92 48.05h2.37v2.37h-2.37zM360.79 48.05h2.37v2.37h-2.37zM369.42 48.05h2.37v2.37h-2.37zM380.91 48.05h2.37v2.37h-2.37zM392.41 48.05h2.37v2.37h-2.37zM395.28 48.05h2.37v2.37h-2.37zM401.03 48.05h2.37v2.37h-2.37zM409.65 48.05h2.37v2.37h-2.37zM346.42 53.79h2.37v2.37h-2.37zM406.78 53.79h2.37v2.37h-2.37zM415.40 53.79h2.37v2.37h-2.37zM452.76 53.79h2.37v2.37h-2.37zM375.16 56.66h2.37v2.37h-2.37zM406.78 56.66h2.37v2.37h-2.37zM343.55 59.53h2.37v2.37h-2.37zM355.05 59.53h2.37v2.37h-2.37zM369.42 59.53h2.37v2.37h-2.37zM383.79 59.53h2.37v2.37h-2.37zM389.54 59.53h2.37v2.37h-2.37zM392.41 59.53h2.37v2.37h-2.37zM406.78 59.53h2.37v2.37h-2.37zM349.30 62.39h2.37v2.37h-2.37zM355.05 62.39h2.37v2.37h-2.37zM360.79 62.39h2.37v2.37h-2.37zM401.03 62.39h2.37v2.37h-2.37zM403.91 62.39h2.37v2.37h-2.37zM475.76 62.39h2.37v2.37h-2.37zM343.55 65.26h2.37v2.37h-2.37zM409.65 65.26h2.37v2.37h-2.37zM429.77 65.26h2.37v2.37h-2.37zM455.64 65.26h2.37v2.37h-2.37zM487.25 65.26h2.37v2.37h-2.37zM369.42 68.13h2.37v2.37h-2.37zM378.04 68.13h2.37v2.37h-2.37zM464.26 68.13h2.37v2.37h-2.37zM493.00 68.13h2.37v2.37h-2.37zM363.67 71.00h2.37v2.37h-2.37zM409.65 71.00h2.37v2.37h-2.37zM424.02 71.00h2.37v2.37h-2.37zM455.64 71.00h2.37v2.37h-2.37zM398.16 73.87h2.37v2.37h-2.37zM415.40 73.87h2.37v2.37h-2.37zM458.51 73.87h2.37v2.37h-2.37zM343.55 76.73h2.37v2.37h-2.37zM366.54 76.73h2.37v2.37h-2.37zM403.91 76.73h2.37v2.37h-2.37zM412.53 76.73h2.37v2.37h-2.37zM415.40 76.73h2.37v2.37h-2.37zM464.26 76.73h2.37v2.37h-2.37zM355.05 79.60h2.37v2.37h-2.37zM372.29 79.60h2.37v2.37h-2.37zM375.16 79.60h2.37v2.37h-2.37zM380.91 79.60h2.37v2.37h-2.37zM392.41 79.60h2.37v2.37h-2.37zM403.91 79.60h2.37v2.37h-2.37zM409.65 79.60h2.37v2.37h-2.37zM349.30 82.47h2.37v2.37h-2.37zM360.79 82.47h2.37v2.37h-2.37zM383.79 82.47h2.37v2.37h-2.37zM389.54 82.47h2.37v2.37h-2.37zM395.28 82.47h2.37v2.37h-2.37zM398.16 82.47h2.37v2.37h-2.37zM401.03 82.47h2.37v2.37h-2.37zM386.66 85.34h2.37v2.37h-2.37zM395.28 85.34h2.37v2.37h-2.37zM475.76 85.34h2.37v2.37h-2.37zM343.55 88.21h2.37v2.37h-2.37zM449.89 88.21h2.37v2.37h-2.37zM461.39 88.21h2.37v2.37h-2.37zM352.17 91.07h2.37v2.37h-2.37zM355.05 91.07h2.37v2.37h-2.37zM386.66 91.07h2.37v2.37h-2.37zM389.54 91.07h2.37v2.37h-2.37zM395.28 91.07h2.37v2.37h-2.37zM475.76 91.07h2.37v2.37h-2.37zM343.55 93.94h2.37v2.37h-2.37zM366.54 93.94h2.37v2.37h-2.37zM395.28 93.94h2.37v2.37h-2.37zM401.03 93.94h2.37v2.37h-2.37zM406.78 93.94h2.37v2.37h-2.37zM452.76 93.94h2.37v2.37h-2.37zM343.55 96.81h2.37v2.37h-2.37zM398.16 96.81h2.37v2.37h-2.37zM461.39 96.81h2.37v2.37h-2.37zM475.76 96.81h2.37v2.37h-2.37zM346.42 99.68h2.37v2.37h-2.37zM366.54 99.68h2.37v2.37h-2.37zM369.42 99.68h2.37v2.37h-2.37zM380.91 99.68h2.37v2.37h-2.37zM386.66 99.68h2.37v2.37h-2.37zM403.91 99.68h2.37v2.37h-2.37zM412.53 99.68h2.37v2.37h-2.37zM475.76 99.68h2.37v2.37h-2.37zM493.00 99.68h2.37v2.37h-2.37zM349.30 102.55h2.37v2.37h-2.37zM375.16 102.55h2.37v2.37h-2.37zM378.04 102.55h2.37v2.37h-2.37zM380.91 102.55h2.37v2.37h-2.37zM383.79 102.55h2.37v2.37h-2.37zM389.54 102.55h2.37v2.37h-2.37zM395.28 102.55h2.37v2.37h-2.37zM398.16 102.55h2.37v2.37h-2.37zM409.65 102.55h2.37v2.37h-2.37zM449.89 102.55h2.37v2.37h-2.37zM475.76 102.55h2.37v2.37h-2.37zM346.42 105.41h2.37v2.37h-2.37zM426.90 105.41h2.37v2.37h-2.37zM438.39 105.41h2.37v2.37h-2.37zM493.00 105.41h2.37v2.37h-2.37zM378.04 108.28h2.37v2.37h-2.37zM380.91 108.28h2.37v2.37h-2.37zM383.79 108.28h2.37v2.37h-2.37zM386.66 108.28h2.37v2.37h-2.37zM398.16 108.28h2.37v2.37h-2.37zM401.03 108.28h2.37v2.37h-2.37zM403.91 108.28h2.37v2.37h-2.37zM343.55 111.15h2.37v2.37h-2.37zM366.54 111.15h2.37v2.37h-2.37zM478.63 111.15h2.37v2.37h-2.37zM349.30 114.02h2.37v2.37h-2.37zM352.17 114.02h2.37v2.37h-2.37zM380.91 114.02h2.37v2.37h-2.37zM398.16 114.02h2.37v2.37h-2.37zM409.65 114.02h2.37v2.37h-2.37zM449.89 114.02h2.37v2.37h-2.37zM343.55 116.89h2.37v2.37h-2.37zM346.42 116.89h2.37v2.37h-2.37zM369.42 116.89h2.37v2.37h-2.37zM372.29 116.89h2.37v2.37h-2.37zM426.90 116.89h2.37v2.37h-2.37zM352.17 119.75h2.37v2.37h-2.37zM343.55 122.62h2.37v2.37h-2.37zM395.28 122.62h2.37v2.37h-2.37zM412.53 122.62h2.37v2.37h-2.37zM424.02 122.62h2.37v2.37h-2.37zM343.55 125.49h2.37v2.37h-2.37zM357.92 125.49h2.37v2.37h-2.37zM360.79 125.49h2.37v2.37h-2.37zM375.16 125.49h2.37v2.37h-2.37zM378.04 125.49h2.37v2.37h-2.37zM380.91 125.49h2.37v2.37h-2.37zM392.41 125.49h2.37v2.37h-2.37zM403.91 125.49h2.37v2.37h-2.37zM475.76 125.49h2.37v2.37h-2.37zM372.29 128.36h2.37v2.37h-2.37zM386.66 128.36h2.37v2.37h-2.37zM395.28 128.36h2.37v2.37h-2.37zM406.78 128.36h2.37v2.37h-2.37zM409.65 128.36h2.37v2.37h-2.37zM470.01 128.36h2.37v2.37h-2.37zM343.55 131.23h2.37v2.37h-2.37zM352.17 131.23h2.37v2.37h-2.37zM366.54 131.23h2.37v2.37h-2.37zM369.42 131.23h2.37v2.37h-2.37zM398.16 131.23h2.37v2.37h-2.37zM406.78 131.23h2.37v2.37h-2.37zM346.42 134.09h2.37v2.37h-2.37zM357.92 134.09h2.37v2.37h-2.37zM369.42 134.09h2.37v2.37h-2.37zM349.30 136.96h2.37v2.37h-2.37zM369.42 136.96h2.37v2.37h-2.37zM380.91 136.96h2.37v2.37h-2.37zM395.28 136.96h2.37v2.37h-2.37zM406.78 136.96h2.37v2.37h-2.37zM409.65 136.96h2.37v2.37h-2.37zM349.30 139.83h2.37v2.37h-2.37zM369.42 139.83h2.37v2.37h-2.37zM398.16 139.83h2.37v2.37h-2.37zM406.78 139.83h2.37v2.37h-2.37zM449.89 139.83h2.37v2.37h-2.37zM343.55 142.70h2.37v2.37h-2.37zM395.28 142.70h2.37v2.37h-2.37zM415.40 142.70h2.37v2.37h-2.37zM475.76 142.70h2.37v2.37h-2.37zM343.55 145.57h2.37v2.37h-2.37zM355.05 145.57h2.37v2.37h-2.37zM363.67 145.57h2.37v2.37h-2.37zM409.65 145.57h2.37v2.37h-2.37zM452.76 145.57h2.37v2.37h-2.37zM461.39 145.57h2.37v2.37h-2.37zM343.55 148.43h2.37v2.37h-2.37zM360.79 148.43h2.37v2.37h-2.37zM380.91 148.43h2.37v2.37h-2.37zM383.79 148.43h2.37v2.37h-2.37zM389.54 148.43h2.37v2.37h-2.37zM409.65 148.43h2.37v2.37h-2.37zM449.89 148.43h2.37v2.37h-2.37zM461.39 148.43h2.37v2.37h-2.37zM349.30 151.30h2.37v2.37h-2.37zM372.29 151.30h2.37v2.37h-2.37zM389.54 151.30h2.37v2.37h-2.37zM395.28 151.30h2.37v2.37h-2.37zM475.76 151.30h2.37v2.37h-2.37zM343.55 154.17h2.37v2.37h-2.37zM369.42 154.17h2.37v2.37h-2.37zM392.41 154.17h2.37v2.37h-2.37zM395.28 154.17h2.37v2.37h-2.37zM452.76 154.17h2.37v2.37h-2.37zM352.17 157.04h2.37v2.37h-2.37zM478.63 157.04h2.37v2.37h-2.37zM343.55 159.91h2.37v2.37h-2.37zM363.67 159.91h2.37v2.37h-2.37zM418.28 159.91h2.37v2.37h-2.37zM421.15 159.91h2.37v2.37h-2.37zM455.64 159.91h2.37v2.37h-2.37zM467.14 159.91h2.37v2.37h-2.37zM343.55 162.77h2.37v2.37h-2.37zM357.92 162.77h2.37v2.37h-2.37zM392.41 162.77h2.37v2.37h-2.37zM343.55 165.64h2.37v2.37h-2.37zM352.17 165.64h2.37v2.37h-2.37zM409.65 165.64h2.37v2.37h-2.37zM449.89 165.64h2.37v2.37h-2.37zM346.42 168.51h2.37v2.37h-2.37zM360.79 168.51h2.37v2.37h-2.37zM369.42 168.51h2.37v2.37h-2.37zM380.91 168.51h2.37v2.37h-2.37zM464.26 168.51h2.37v2.37h-2.37zM343.55 171.38h2.37v2.37h-2.37zM352.17 171.38h2.37v2.37h-2.37zM375.16 171.38h2.37v2.37h-2.37zM401.03 171.38h2.37v2.37h-2.37zM470.01 171.38h2.37v2.37h-2.37zM343.55 174.25h2.37v2.37h-2.37zM378.04 174.25h2.37v2.37h-2.37zM383.79 174.25h2.37v2.37h-2.37zM389.54 174.25h2.37v2.37h-2.37zM392.41 174.25h2.37v2.37h-2.37zM398.16 174.25h2.37v2.37h-2.37zM349.30 177.11h2.37v2.37h-2.37zM363.67 177.11h2.37v2.37h-2.37zM418.28 177.11h2.37v2.37h-2.37zM398.16 179.98h2.37v2.37h-2.37zM412.53 179.98h2.37v2.37h-2.37zM452.76 179.98h2.37v2.37h-2.37zM458.51 179.98h2.37v2.37h-2.37z" fill="#6760d2"/>
<path d="M343.55 39.45h2.37v2.37h-2.37zM369.42 39.45h2.37v2.37h-2.37zM372.29 39.45h2.37v2.37h-2.37zM398.16 39.45h2.37v2.37h-2.37zM449.89 39.45h2.37v2.37h-2.37zM343.55 42.32h2.37v2.37h-2.37zM349.30 42.32h2.37v2.37h-2.37zM409.65 42.32h2.37v2.37h-2.37zM449.89 42.32h2.37v2.37h-2.37zM366.54 45.19h2.37v2.37h-2.37zM458.51 45.19h2.37v2.37h-2.37zM343.55 48.05h2.37v2.37h-2.37zM346.42 48.05h2.37v2.37h-2.37zM349.30 48.05h2.37v2.37h-2.37zM366.54 48.05h2.37v2.37h-2.37zM389.54 48.05h2.37v2.37h-2.37zM406.78 48.05h2.37v2.37h-2.37zM366.54 50.92h2.37v2.37h-2.37zM369.42 50.92h2.37v2.37h-2.37zM378.04 50.92h2.37v2.37h-2.37zM398.16 50.92h2.37v2.37h-2.37zM412.53 53.79h2.37v2.37h-2.37zM418.28 53.79h2.37v2.37h-2.37zM346.42 56.66h2.37v2.37h-2.37zM349.30 56.66h2.37v2.37h-2.37zM363.67 56.66h2.37v2.37h-2.37zM472.88 56.66h2.37v2.37h-2.37zM346.42 59.53h2.37v2.37h-2.37zM352.17 59.53h2.37v2.37h-2.37zM357.92 59.53h2.37v2.37h-2.37zM360.79 59.53h2.37v2.37h-2.37zM363.67 59.53h2.37v2.37h-2.37zM380.91 59.53h2.37v2.37h-2.37zM401.03 59.53h2.37v2.37h-2.37zM346.42 62.39h2.37v2.37h-2.37zM352.17 62.39h2.37v2.37h-2.37zM357.92 62.39h2.37v2.37h-2.37zM372.29 62.39h2.37v2.37h-2.37zM389.54 62.39h2.37v2.37h-2.37zM392.41 62.39h2.37v2.37h-2.37zM472.88 62.39h2.37v2.37h-2.37zM372.29 65.26h2.37v2.37h-2.37zM378.04 65.26h2.37v2.37h-2.37zM447.02 65.26h2.37v2.37h-2.37zM360.79 68.13h2.37v2.37h-2.37zM372.29 68.13h2.37v2.37h-2.37zM375.16 68.13h2.37v2.37h-2.37zM449.89 68.13h2.37v2.37h-2.37zM475.76 68.13h2.37v2.37h-2.37zM421.15 71.00h2.37v2.37h-2.37zM447.02 71.00h2.37v2.37h-2.37zM464.26 71.00h2.37v2.37h-2.37zM493.00 71.00h2.37v2.37h-2.37zM401.03 73.87h2.37v2.37h-2.37zM403.91 73.87h2.37v2.37h-2.37zM412.53 73.87h2.37v2.37h-2.37zM398.16 76.73h2.37v2.37h-2.37zM401.03 76.73h2.37v2.37h-2.37zM472.88 76.73h2.37v2.37h-2.37zM478.63 76.73h2.37v2.37h-2.37zM346.42 79.60h2.37v2.37h-2.37zM349.30 79.60h2.37v2.37h-2.37zM360.79 79.60h2.37v2.37h-2.37zM363.67 79.60h2.37v2.37h-2.37zM378.04 79.60h2.37v2.37h-2.37zM415.40 79.60h2.37v2.37h-2.37zM467.14 79.60h2.37v2.37h-2.37zM369.42 82.47h2.37v2.37h-2.37zM372.29 82.47h2.37v2.37h-2.37zM375.16 82.47h2.37v2.37h-2.37zM380.91 82.47h2.37v2.37h-2.37zM386.66 82.47h2.37v2.37h-2.37zM487.25 82.47h2.37v2.37h-2.37zM452.76 85.34h2.37v2.37h-2.37zM412.53 88.21h2.37v2.37h-2.37zM455.64 88.21h2.37v2.37h-2.37zM464.26 88.21h2.37v2.37h-2.37zM478.63 88.21h2.37v2.37h-2.37zM357.92 91.07h2.37v2.37h-2.37zM360.79 91.07h2.37v2.37h-2.37zM366.54 91.07h2.37v2.37h-2.37zM369.42 91.07h2.37v2.37h-2.37zM412.53 91.07h2.37v2.37h-2.37zM415.40 91.07h2.37v2.37h-2.37zM375.16 93.94h2.37v2.37h-2.37zM403.91 93.94h2.37v2.37h-2.37zM449.89 93.94h2.37v2.37h-2.37zM478.63 93.94h2.37v2.37h-2.37zM363.67 96.81h2.37v2.37h-2.37zM372.29 99.68h2.37v2.37h-2.37zM383.79 99.68h2.37v2.37h-2.37zM395.28 99.68h2.37v2.37h-2.37zM401.03 99.68h2.37v2.37h-2.37zM418.28 99.68h2.37v2.37h-2.37zM343.55 102.55h2.37v2.37h-2.37zM355.05 102.55h2.37v2.37h-2.37zM357.92 102.55h2.37v2.37h-2.37zM360.79 102.55h2.37v2.37h-2.37zM366.54 102.55h2.37v2.37h-2.37zM372.29 102.55h2.37v2.37h-2.37zM412.53 102.55h2.37v2.37h-2.37zM444.14 102.55h2.37v2.37h-2.37zM398.16 105.41h2.37v2.37h-2.37zM447.02 105.41h2.37v2.37h-2.37zM349.30 108.28h2.37v2.37h-2.37zM369.42 108.28h2.37v2.37h-2.37zM372.29 108.28h2.37v2.37h-2.37zM375.16 108.28h2.37v2.37h-2.37zM389.54 108.28h2.37v2.37h-2.37zM392.41 108.28h2.37v2.37h-2.37zM409.65 108.28h2.37v2.37h-2.37zM412.53 108.28h2.37v2.37h-2.37zM478.63 108.28h2.37v2.37h-2.37zM415.40 111.15h2.37v2.37h-2.37zM447.02 111.15h2.37v2.37h-2.37zM343.55 114.02h2.37v2.37h-2.37zM366.54 114.02h2.37v2.37h-2.37zM369.42 114.02h2.37v2.37h-2.37zM372.29 114.02h2.37v2.37h-2.37zM375.16 114.02h2.37v2.37h-2.37zM378.04 114.02h2.37v2.37h-2.37zM392.41 114.02h2.37v2.37h-2.37zM395.28 114.02h2.37v2.37h-2.37zM478.63 114.02h2.37v2.37h-2.37zM366.54 116.89h2.37v2.37h-2.37zM452.76 116.89h2.37v2.37h-2.37zM475.76 116.89h2.37v2.37h-2.37zM484.38 116.89h2.37v2.37h-2.37zM346.42 119.75h2.37v2.37h-2.37zM375.16 119.75h2.37v2.37h-2.37zM383.79 119.75h2.37v2.37h-2.37zM386.66 119.75h2.37v2.37h-2.37zM472.88 119.75h2.37v2.37h-2.37zM415.40 122.62h2.37v2.37h-2.37zM418.28 122.62h2.37v2.37h-2.37zM487.25 122.62h2.37v2.37h-2.37zM355.05 125.49h2.37v2.37h-2.37zM369.42 125.49h2.37v2.37h-2.37zM372.29 125.49h2.37v2.37h-2.37zM389.54 125.49h2.37v2.37h-2.37zM398.16 125.49h2.37v2.37h-2.37zM409.65 125.49h2.37v2.37h-2.37zM452.76 125.49h2.37v2.37h-2.37zM349.30 128.36h2.37v2.37h-2.37zM355.05 128.36h2.37v2.37h-2.37zM360.79 128.36h2.37v2.37h-2.37zM363.67 128.36h2.37v2.37h-2.37zM366.54 128.36h2.37v2.37h-2.37zM392.41 128.36h2.37v2.37h-2.37zM403.91 128.36h2.37v2.37h-2.37zM467.14 128.36h2.37v2.37h-2.37zM355.05 131.23h2.37v2.37h-2.37zM375.16 131.23h2.37v2.37h-2.37zM395.28 131.23h2.37v2.37h-2.37zM360.79 134.09h2.37v2.37h-2.37zM378.04 134.09h2.37v2.37h-2.37zM380.91 134.09h2.37v2.37h-2.37zM386.66 134.09h2.37v2.37h-2.37zM472.88 134.09h2.37v2.37h-2.37zM343.55 136.96h2.37v2.37h-2.37zM352.17 136.96h2.37v2.37h-2.37zM398.16 136.96h2.37v2.37h-2.37zM449.89 136.96h2.37v2.37h-2.37zM472.88 136.96h2.37v2.37h-2.37zM478.63 136.96h2.37v2.37h-2.37zM495.88 136.96h2.37v2.37h-2.37zM343.55 139.83h2.37v2.37h-2.37zM346.42 139.83h2.37v2.37h-2.37zM363.67 139.83h2.37v2.37h-2.37zM372.29 139.83h2.37v2.37h-2.37zM375.16 139.83h2.37v2.37h-2.37zM378.04 139.83h2.37v2.37h-2.37zM412.53 139.83h2.37v2.37h-2.37zM447.02 139.83h2.37v2.37h-2.37zM472.88 139.83h2.37v2.37h-2.37zM363.67 142.70h2.37v2.37h-2.37zM389.54 142.70h2.37v2.37h-2.37zM412.53 142.70h2.37v2.37h-2.37zM418.28 142.70h2.37v2.37h-2.37zM369.42 145.57h2.37v2.37h-2.37zM378.04 145.57h2.37v2.37h-2.37zM418.28 145.57h2.37v2.37h-2.37zM447.02 145.57h2.37v2.37h-2.37zM352.17 148.43h2.37v2.37h-2.37zM366.54 148.43h2.37v2.37h-2.37zM369.42 148.43h2.37v2.37h-2.37zM378.04 148.43h2.37v2.37h-2.37zM386.66 148.43h2.37v2.37h-2.37zM406.78 148.43h2.37v2.37h-2.37zM458.51 148.43h2.37v2.37h-2.37zM343.55 151.30h2.37v2.37h-2.37zM357.92 151.30h2.37v2.37h-2.37zM363.67 151.30h2.37v2.37h-2.37zM369.42 151.30h2.37v2.37h-2.37zM398.16 151.30h2.37v2.37h-2.37zM429.77 151.30h2.37v2.37h-2.37zM481.51 151.30h2.37v2.37h-2.37zM346.42 154.17h2.37v2.37h-2.37zM349.30 154.17h2.37v2.37h-2.37zM355.05 154.17h2.37v2.37h-2.37zM375.16 154.17h2.37v2.37h-2.37zM412.53 154.17h2.37v2.37h-2.37zM449.89 154.17h2.37v2.37h-2.37zM475.76 154.17h2.37v2.37h-2.37zM346.42 157.04h2.37v2.37h-2.37zM386.66 157.04h2.37v2.37h-2.37zM424.02 157.04h2.37v2.37h-2.37zM481.51 157.04h2.37v2.37h-2.37zM389.54 159.91h2.37v2.37h-2.37zM412.53 159.91h2.37v2.37h-2.37zM444.14 159.91h2.37v2.37h-2.37zM449.89 159.91h2.37v2.37h-2.37zM363.67 162.77h2.37v2.37h-2.37zM395.28 162.77h2.37v2.37h-2.37zM398.16 162.77h2.37v2.37h-2.37zM452.76 162.77h2.37v2.37h-2.37zM357.92 165.64h2.37v2.37h-2.37zM366.54 165.64h2.37v2.37h-2.37zM375.16 165.64h2.37v2.37h-2.37zM455.64 165.64h2.37v2.37h-2.37zM472.88 165.64h2.37v2.37h-2.37zM343.55 168.51h2.37v2.37h-2.37zM366.54 168.51h2.37v2.37h-2.37zM372.29 168.51h2.37v2.37h-2.37zM378.04 168.51h2.37v2.37h-2.37zM470.01 168.51h2.37v2.37h-2.37zM355.05 171.38h2.37v2.37h-2.37zM369.42 171.38h2.37v2.37h-2.37zM395.28 171.38h2.37v2.37h-2.37zM409.65 171.38h2.37v2.37h-2.37zM467.14 171.38h2.37v2.37h-2.37zM349.30 174.25h2.37v2.37h-2.37zM357.92 174.25h2.37v2.37h-2.37zM360.79 174.25h2.37v2.37h-2.37zM369.42 174.25h2.37v2.37h-2.37zM386.66 174.25h2.37v2.37h-2.37zM406.78 174.25h2.37v2.37h-2.37zM415.40 177.11h2.37v2.37h-2.37zM429.77 177.11h2.37v2.37h-2.37zM369.42 179.98h2.37v2.37h-2.37z" fill="#aca8e6"/>
<path d="M346.42 39.45h2.37v2.37h-2.37zM415.40 39.45h2.37v2.37h-2.37zM421.15 39.45h2.37v2.37h-2.37zM458.51 39.45h2.37v2.37h-2.37zM467.14 39.45h2.37v2.37h-2.37zM470.01 39.45h2.37v2.37h-2.37zM495.88 39.45h2.37v2.37h-2.37zM346.42 42.32h2.37v2.37h-2.37zM357.92 42.32h2.37v2.37h-2.37zM363.67 42.32h2.37v2.37h-2.37zM369.42 42.32h2.37v2.37h-2.37zM378.04 42.32h2.37v2.37h-2.37zM418.28 42.32h2.37v2.37h-2.37zM447.02 42.32h2.37v2.37h-2.37zM458.51 42.32h2.37v2.37h-2.37zM464.26 42.32h2.37v2.37h-2.37zM467.14 42.32h2.37v2.37h-2.37zM470.01 42.32h2.37v2.37h-2.37zM346.42 45.19h2.37v2.37h-2.37zM412.53 45.19h2.37v2.37h-2.37zM421.15 45.19h2.37v2.37h-2.37zM435.52 45.19h2.37v2.37h-2.37zM449.89 45.19h2.37v2.37h-2.37zM475.76 45.19h2.37v2.37h-2.37zM495.88 45.19h2.37v2.37h-2.37zM363.67 48.05h2.37v2.37h-2.37zM372.29 48.05h2.37v2.37h-2.37zM375.16 48.05h2.37v2.37h-2.37zM378.04 48.05h2.37v2.37h-2.37zM383.79 48.05h2.37v2.37h-2.37zM398.16 48.05h2.37v2.37h-2.37zM418.28 48.05h2.37v2.37h-2.37zM435.52 48.05h2.37v2.37h-2.37zM447.02 48.05h2.37v2.37h-2.37zM458.51 48.05h2.37v2.37h-2.37zM490.13 48.05h2.37v2.37h-2.37zM495.88 48.05h2.37v2.37h-2.37zM357.92 50.92h2.37v2.37h-2.37zM455.64 50.92h2.37v2.37h-2.37zM458.51 50.92h2.37v2.37h-2.37zM461.39 50.92h2.37v2.37h-2.37zM478.63 50.92h2.37v2.37h-2.37zM487.25 50.92h2.37v2.37h-2.37zM495.88 50.92h2.37v2.37h-2.37zM421.15 53.79h2.37v2.37h-2.37zM429.77 53.79h2.37v2.37h-2.37zM438.39 53.79h2.37v2.37h-2.37zM472.88 53.79h2.37v2.37h-2.37zM343.55 56.66h2.37v2.37h-2.37zM357.92 56.66h2.37v2.37h-2.37zM366.54 56.66h2.37v2.37h-2.37zM386.66 56.66h2.37v2.37h-2.37zM389.54 56.66h2.37v2.37h-2.37zM412.53 56.66h2.37v2.37h-2.37zM421.15 56.66h2.37v2.37h-2.37zM424.02 56.66h2.37v2.37h-2.37zM438.39 56.66h2.37v2.37h-2.37zM444.14 56.66h2.37v2.37h-2.37zM487.25 56.66h2.37v2.37h-2.37zM495.88 56.66h2.37v2.37h-2.37zM349.30 59.53h2.37v2.37h-2.37zM372.29 59.53h2.37v2.37h-2.37zM375.16 59.53h2.37v2.37h-2.37zM449.89 59.53h2.37v2.37h-2.37zM461.39 59.53h2.37v2.37h-2.37zM464.26 59.53h2.37v2.37h-2.37zM467.14 59.53h2.37v2.37h-2.37zM472.88 59.53h2.37v2.37h-2.37zM369.42 62.39h2.37v2.37h-2.37zM383.79 62.39h2.37v2.37h-2.37zM398.16 62.39h2.37v2.37h-2.37zM415.40 62.39h2.37v2.37h-2.37zM418.28 62.39h2.37v2.37h-2.37zM426.90 62.39h2.37v2.37h-2.37zM447.02 62.39h2.37v2.37h-2.37zM449.89 62.39h2.37v2.37h-2.37zM464.26 62.39h2.37v2.37h-2.37zM484.38 62.39h2.37v2.37h-2.37zM490.13 62.39h2.37v2.37h-2.37zM493.00 62.39h2.37v2.37h-2.37zM346.42 65.26h2.37v2.37h-2.37zM357.92 65.26h2.37v2.37h-2.37zM375.16 65.26h2.37v2.37h-2.37zM398.16 65.26h2.37v2.37h-2.37zM415.40 65.26h2.37v2.37h-2.37zM421.15 65.26h2.37v2.37h-2.37zM444.14 65.26h2.37v2.37h-2.37zM449.89 65.26h2.37v2.37h-2.37zM458.51 65.26h2.37v2.37h-2.37zM472.88 65.26h2.37v2.37h-2.37zM475.76 65.26h2.37v2.37h-2.37zM478.63 65.26h2.37v2.37h-2.37zM490.13 65.26h2.37v2.37h-2.37zM363.67 68.13h2.37v2.37h-2.37zM366.54 68.13h2.37v2.37h-2.37zM412.53 68.13h2.37v2.37h-2.37zM415.40 68.13h2.37v2.37h-2.37zM418.28 68.13h2.37v2.37h-2.37zM424.02 68.13h2.37v2.37h-2.37zM444.14 68.13h2.37v2.37h-2.37zM455.64 68.13h2.37v2.37h-2.37zM478.63 68.13h2.37v2.37h-2.37zM487.25 68.13h2.37v2.37h-2.37zM495.88 68.13h2.37v2.37h-2.37zM415.40 71.00h2.37v2.37h-2.37zM418.28 71.00h2.37v2.37h-2.37zM426.90 71.00h2.37v2.37h-2.37zM432.65 71.00h2.37v2.37h-2.37zM435.52 71.00h2.37v2.37h-2.37zM441.27 71.00h2.37v2.37h-2.37zM458.51 71.00h2.37v2.37h-2.37zM490.13 71.00h2.37v2.37h-2.37zM343.55 73.87h2.37v2.37h-2.37zM366.54 73.87h2.37v2.37h-2.37zM426.90 73.87h2.37v2.37h-2.37zM472.88 73.87h2.37v2.37h-2.37zM481.51 73.87h2.37v2.37h-2.37zM346.42 76.73h2.37v2.37h-2.37zM435.52 76.73h2.37v2.37h-2.37zM467.14 76.73h2.37v2.37h-2.37zM343.55 79.60h2.37v2.37h-2.37zM357.92 79.60h2.37v2.37h-2.37zM366.54 79.60h2.37v2.37h-2.37zM386.66 79.60h2.37v2.37h-2.37zM389.54 79.60h2.37v2.37h-2.37zM406.78 79.60h2.37v2.37h-2.37zM412.53 79.60h2.37v2.37h-2.37zM421.15 79.60h2.37v2.37h-2.37zM435.52 79.60h2.37v2.37h-2.37zM447.02 79.60h2.37v2.37h-2.37zM470.01 79.60h2.37v2.37h-2.37zM472.88 79.60h2.37v2.37h-2.37zM478.63 79.60h2.37v2.37h-2.37zM495.88 79.60h2.37v2.37h-2.37zM343.55 82.47h2.37v2.37h-2.37zM346.42 82.47h2.37v2.37h-2.37zM378.04 82.47h2.37v2.37h-2.37zM421.15 82.47h2.37v2.37h-2.37zM435.52 82.47h2.37v2.37h-2.37zM449.89 82.47h2.37v2.37h-2.37zM470.01 82.47h2.37v2.37h-2.37zM481.51 82.47h2.37v2.37h-2.37zM495.88 82.47h2.37v2.37h-2.37zM343.55 85.34h2.37v2.37h-2.37zM346.42 85.34h2.37v2.37h-2.37zM378.04 85.34h2.37v2.37h-2.37zM383.79 85.34h2.37v2.37h-2.37zM398.16 85.34h2.37v2.37h-2.37zM412.53 85.34h2.37v2.37h-2.37zM435.52 85.34h2.37v2.37h-2.37zM441.27 85.34h2.37v2.37h-2.37zM449.89 85.34h2.37v2.37h-2.37zM455.64 85.34h2.37v2.37h-2.37zM461.39 85.34h2.37v2.37h-2.37zM467.14 85.34h2.37v2.37h-2.37zM481.51 85.34h2.37v2.37h-2.37zM487.25 85.34h2.37v2.37h-2.37zM495.88 85.34h2.37v2.37h-2.37zM415.40 88.21h2.37v2.37h-2.37zM418.28 88.21h2.37v2.37h-2.37zM432.65 88.21h2.37v2.37h-2.37zM447.02 88.21h2.37v2.37h-2.37zM467.14 88.21h2.37v2.37h-2.37zM481.51 88.21h2.37v2.37h-2.37zM495.88 88.21h2.37v2.37h-2.37zM343.55 91.07h2.37v2.37h-2.37zM346.42 91.07h2.37v2.37h-2.37zM363.67 91.07h2.37v2.37h-2.37zM372.29 91.07h2.37v2.37h-2.37zM375.16 91.07h2.37v2.37h-2.37zM378.04 91.07h2.37v2.37h-2.37zM392.41 91.07h2.37v2.37h-2.37zM418.28 91.07h2.37v2.37h-2.37zM421.15 91.07h2.37v2.37h-2.37zM424.02 91.07h2.37v2.37h-2.37zM449.89 91.07h2.37v2.37h-2.37zM464.26 91.07h2.37v2.37h-2.37zM478.63 91.07h2.37v2.37h-2.37zM346.42 93.94h2.37v2.37h-2.37zM349.30 93.94h2.37v2.37h-2.37zM357.92 93.94h2.37v2.37h-2.37zM369.42 93.94h2.37v2.37h-2.37zM378.04 93.94h2.37v2.37h-2.37zM398.16 93.94h2.37v2.37h-2.37zM412.53 93.94h2.37v2.37h-2.37zM415.40 93.94h2.37v2.37h-2.37zM429.77 93.94h2.37v2.37h-2.37zM435.52 93.94h2.37v2.37h-2.37zM464.26 93.94h2.37v2.37h-2.37zM472.88 93.94h2.37v2.37h-2.37zM481.51 93.94h2.37v2.37h-2.37zM346.42 96.81h2.37v2.37h-2.37zM366.54 96.81h2.37v2.37h-2.37zM412.53 96.81h2.37v2.37h-2.37zM415.40 96.81h2.37v2.37h-2.37zM467.14 96.81h2.37v2.37h-2.37zM357.92 99.68h2.37v2.37h-2.37zM375.16 99.68h2.37v2.37h-2.37zM378.04 99.68h2.37v2.37h-2.37zM415.40 99.68h2.37v2.37h-2.37zM432.65 99.68h2.37v2.37h-2.37zM447.02 99.68h2.37v2.37h-2.37zM478.63 99.68h2.37v2.37h-2.37zM346.42 102.55h2.37v2.37h-2.37zM352.17 102.55h2.37v2.37h-2.37zM369.42 102.55h2.37v2.37h-2.37zM386.66 102.55h2.37v2.37h-2.37zM392.41 102.55h2.37v2.37h-2.37zM415.40 102.55h2.37v2.37h-2.37zM418.28 102.55h2.37v2.37h-2.37zM421.15 102.55h2.37v2.37h-2.37zM429.77 102.55h2.37v2.37h-2.37zM472.88 102.55h2.37v2.37h-2.37zM478.63 102.55h2.37v2.37h-2.37zM481.51 102.55h2.37v2.37h-2.37zM490.13 102.55h2.37v2.37h-2.37zM389.54 105.41h2.37v2.37h-2.37zM412.53 105.41h2.37v2.37h-2.37zM418.28 105.41h2.37v2.37h-2.37zM444.14 105.41h2.37v2.37h-2.37zM464.26 105.41h2.37v2.37h-2.37zM478.63 105.41h2.37v2.37h-2.37zM495.88 105.41h2.37v2.37h-2.37zM352.17 108.28h2.37v2.37h-2.37zM355.05 108.28h2.37v2.37h-2.37zM357.92 108.28h2.37v2.37h-2.37zM406.78 108.28h2.37v2.37h-2.37zM415.40 108.28h2.37v2.37h-2.37zM424.02 108.28h2.37v2.37h-2.37zM447.02 108.28h2.37v2.37h-2.37zM467.14 108.28h2.37v2.37h-2.37zM470.01 108.28h2.37v2.37h-2.37zM481.51 108.28h2.37v2.37h-2.37zM495.88 108.28h2.37v2.37h-2.37zM363.67 111.15h2.37v2.37h-2.37zM369.42 111.15h2.37v2.37h-2.37zM412.53 111.15h2.37v2.37h-2.37zM441.27 111.15h2.37v2.37h-2.37zM455.64 111.15h2.37v2.37h-2.37zM461.39 111.15h2.37v2.37h-2.37zM464.26 111.15h2.37v2.37h-2.37zM481.51 111.15h2.37v2.37h-2.37zM495.88 111.15h2.37v2.37h-2.37zM346.42 114.02h2.37v2.37h-2.37zM357.92 114.02h2.37v2.37h-2.37zM363.67 114.02h2.37v2.37h-2.37zM418.28 114.02h2.37v2.37h-2.37zM470.01 114.02h2.37v2.37h-2.37zM357.92 116.89h2.37v2.37h-2.37zM363.67 116.89h2.37v2.37h-2.37zM383.79 116.89h2.37v2.37h-2.37zM389.54 116.89h2.37v2.37h-2.37zM412.53 116.89h2.37v2.37h-2.37zM449.89 116.89h2.37v2.37h-2.37zM455.64 116.89h2.37v2.37h-2.37zM464.26 116.89h2.37v2.37h-2.37zM467.14 116.89h2.37v2.37h-2.37zM472.88 116.89h2.37v2.37h-2.37zM478.63 116.89h2.37v2.37h-2.37zM493.00 116.89h2.37v2.37h-2.37zM343.55 119.75h2.37v2.37h-2.37zM349.30 119.75h2.37v2.37h-2.37zM357.92 119.75h2.37v2.37h-2.37zM363.67 119.75h2.37v2.37h-2.37zM366.54 119.75h2.37v2.37h-2.37zM369.42 119.75h2.37v2.37h-2.37zM372.29 119.75h2.37v2.37h-2.37zM378.04 119.75h2.37v2.37h-2.37zM389.54 119.75h2.37v2.37h-2.37zM415.40 119.75h2.37v2.37h-2.37zM432.65 119.75h2.37v2.37h-2.37zM438.39 119.75h2.37v2.37h-2.37zM449.89 119.75h2.37v2.37h-2.37zM455.64 119.75h2.37v2.37h-2.37zM490.13 119.75h2.37v2.37h-2.37zM493.00 119.75h2.37v2.37h-2.37zM346.42 122.62h2.37v2.37h-2.37zM429.77 122.62h2.37v2.37h-2.37zM455.64 122.62h2.37v2.37h-2.37zM495.88 122.62h2.37v2.37h-2.37zM352.17 125.49h2.37v2.37h-2.37zM406.78 125.49h2.37v2.37h-2.37zM412.53 125.49h2.37v2.37h-2.37zM424.02 125.49h2.37v2.37h-2.37zM429.77 125.49h2.37v2.37h-2.37zM444.14 125.49h2.37v2.37h-2.37zM447.02 125.49h2.37v2.37h-2.37zM458.51 125.49h2.37v2.37h-2.37zM495.88 125.49h2.37v2.37h-2.37zM346.42 128.36h2.37v2.37h-2.37zM352.17 128.36h2.37v2.37h-2.37zM357.92 128.36h2.37v2.37h-2.37zM369.42 128.36h2.37v2.37h-2.37zM378.04 128.36h2.37v2.37h-2.37zM389.54 128.36h2.37v2.37h-2.37zM398.16 128.36h2.37v2.37h-2.37zM424.02 128.36h2.37v2.37h-2.37zM432.65 128.36h2.37v2.37h-2.37zM458.51 128.36h2.37v2.37h-2.37zM461.39 128.36h2.37v2.37h-2.37zM464.26 128.36h2.37v2.37h-2.37zM493.00 128.36h2.37v2.37h-2.37zM495.88 128.36h2.37v2.37h-2.37zM357.92 131.23h2.37v2.37h-2.37zM363.67 131.23h2.37v2.37h-2.37zM372.29 131.23h2.37v2.37h-2.37zM378.04 131.23h2.37v2.37h-2.37zM415.40 131.23h2.37v2.37h-2.37zM424.02 131.23h2.37v2.37h-2.37zM447.02 131.23h2.37v2.37h-2.37zM455.64 131.23h2.37v2.37h-2.37zM472.88 131.23h2.37v2.37h-2.37zM478.63 131.23h2.37v2.37h-2.37zM493.00 131.23h2.37v2.37h-2.37zM352.17 134.09h2.37v2.37h-2.37zM372.29 134.09h2.37v2.37h-2.37zM375.16 134.09h2.37v2.37h-2.37zM389.54 134.09h2.37v2.37h-2.37zM392.41 134.09h2.37v2.37h-2.37zM467.14 134.09h2.37v2.37h-2.37zM484.38 134.09h2.37v2.37h-2.37zM495.88 134.09h2.37v2.37h-2.37zM346.42 136.96h2.37v2.37h-2.37zM357.92 136.96h2.37v2.37h-2.37zM378.04 136.96h2.37v2.37h-2.37zM392.41 136.96h2.37v2.37h-2.37zM412.53 136.96h2.37v2.37h-2.37zM418.28 136.96h2.37v2.37h-2.37zM435.52 136.96h2.37v2.37h-2.37zM441.27 136.96h2.37v2.37h-2.37zM447.02 136.96h2.37v2.37h-2.37zM455.64 136.96h2.37v2.37h-2.37zM464.26 136.96h2.37v2.37h-2.37zM487.25 136.96h2.37v2.37h-2.37zM493.00 136.96h2.37v2.37h-2.37zM366.54 139.83h2.37v2.37h-2.37zM380.91 139.83h2.37v2.37h-2.37zM415.40 139.83h2.37v2.37h-2.37zM421.15 139.83h2.37v2.37h-2.37zM426.90 139.83h2.37v2.37h-2.37zM432.65 139.83h2.37v2.37h-2.37zM441.27 139.83h2.37v2.37h-2.37zM461.39 139.83h2.37v2.37h-2.37zM490.13 139.83h2.37v2.37h-2.37zM495.88 139.83h2.37v2.37h-2.37zM346.42 142.70h2.37v2.37h-2.37zM383.79 142.70h2.37v2.37h-2.37zM392.41 142.70h2.37v2.37h-2.37zM403.91 142.70h2.37v2.37h-2.37zM447.02 142.70h2.37v2.37h-2.37zM472.88 142.70h2.37v2.37h-2.37zM487.25 142.70h2.37v2.37h-2.37zM495.88 142.70h2.37v2.37h-2.37zM357.92 145.57h2.37v2.37h-2.37zM366.54 145.57h2.37v2.37h-2.37zM372.29 145.57h2.37v2.37h-2.37zM375.16 145.57h2.37v2.37h-2.37zM412.53 145.57h2.37v2.37h-2.37zM421.15 145.57h2.37v2.37h-2.37zM444.14 145.57h2.37v2.37h-2.37zM495.88 145.57h2.37v2.37h-2.37zM346.42 148.43h2.37v2.37h-2.37zM349.30 148.43h2.37v2.37h-2.37zM355.05 148.43h2.37v2.37h-2.37zM357.92 148.43h2.37v2.37h-2.37zM363.67 148.43h2.37v2.37h-2.37zM372.29 148.43h2.37v2.37h-2.37zM375.16 148.43h2.37v2.37h-2.37zM392.41 148.43h2.37v2.37h-2.37zM412.53 148.43h2.37v2.37h-2.37zM415.40 148.43h2.37v2.37h-2.37zM470.01 148.43h2.37v2.37h-2.37zM493.00 148.43h2.37v2.37h-2.37zM495.88 148.43h2.37v2.37h-2.37zM346.42 151.30h2.37v2.37h-2.37zM366.54 151.30h2.37v2.37h-2.37zM383.79 151.30h2.37v2.37h-2.37zM392.41 151.30h2.37v2.37h-2.37zM412.53 151.30h2.37v2.37h-2.37zM415.40 151.30h2.37v2.37h-2.37zM495.88 151.30h2.37v2.37h-2.37zM352.17 154.17h2.37v2.37h-2.37zM363.67 154.17h2.37v2.37h-2.37zM366.54 154.17h2.37v2.37h-2.37zM372.29 154.17h2.37v2.37h-2.37zM389.54 154.17h2.37v2.37h-2.37zM401.03 154.17h2.37v2.37h-2.37zM403.91 154.17h2.37v2.37h-2.37zM415.40 154.17h2.37v2.37h-2.37zM418.28 154.17h2.37v2.37h-2.37zM424.02 154.17h2.37v2.37h-2.37zM464.26 154.17h2.37v2.37h-2.37zM467.14 154.17h2.37v2.37h-2.37zM472.88 154.17h2.37v2.37h-2.37zM478.63 154.17h2.37v2.37h-2.37zM487.25 154.17h2.37v2.37h-2.37zM343.55 157.04h2.37v2.37h-2.37zM349.30 157.04h2.37v2.37h-2.37zM357.92 157.04h2.37v2.37h-2.37zM360.79 157.04h2.37v2.37h-2.37zM363.67 157.04h2.37v2.37h-2.37zM366.54 157.04h2.37v2.37h-2.37zM369.42 157.04h2.37v2.37h-2.37zM372.29 157.04h2.37v2.37h-2.37zM375.16 157.04h2.37v2.37h-2.37zM378.04 157.04h2.37v2.37h-2.37zM383.79 157.04h2.37v2.37h-2.37zM412.53 157.04h2.37v2.37h-2.37zM415.40 157.04h2.37v2.37h-2.37zM421.15 157.04h2.37v2.37h-2.37zM426.90 157.04h2.37v2.37h-2.37zM435.52 157.04h2.37v2.37h-2.37zM441.27 157.04h2.37v2.37h-2.37zM449.89 157.04h2.37v2.37h-2.37zM495.88 157.04h2.37v2.37h-2.37zM346.42 159.91h2.37v2.37h-2.37zM352.17 159.91h2.37v2.37h-2.37zM415.40 159.91h2.37v2.37h-2.37zM447.02 159.91h2.37v2.37h-2.37zM452.76 159.91h2.37v2.37h-2.37zM464.26 159.91h2.37v2.37h-2.37zM495.88 159.91h2.37v2.37h-2.37zM349.30 162.77h2.37v2.37h-2.37zM352.17 162.77h2.37v2.37h-2.37zM355.05 162.77h2.37v2.37h-2.37zM360.79 162.77h2.37v2.37h-2.37zM372.29 162.77h2.37v2.37h-2.37zM375.16 162.77h2.37v2.37h-2.37zM412.53 162.77h2.37v2.37h-2.37zM421.15 162.77h2.37v2.37h-2.37zM447.02 162.77h2.37v2.37h-2.37zM455.64 162.77h2.37v2.37h-2.37zM472.88 162.77h2.37v2.37h-2.37zM495.88 162.77h2.37v2.37h-2.37zM355.05 165.64h2.37v2.37h-2.37zM360.79 165.64h2.37v2.37h-2.37zM363.67 165.64h2.37v2.37h-2.37zM378.04 165.64h2.37v2.37h-2.37zM458.51 165.64h2.37v2.37h-2.37zM464.26 165.64h2.37v2.37h-2.37zM470.01 165.64h2.37v2.37h-2.37zM495.88 165.64h2.37v2.37h-2.37zM349.30 168.51h2.37v2.37h-2.37zM352.17 168.51h2.37v2.37h-2.37zM355.05 168.51h2.37v2.37h-2.37zM363.67 168.51h2.37v2.37h-2.37zM375.16 168.51h2.37v2.37h-2.37zM383.79 168.51h2.37v2.37h-2.37zM386.66 168.51h2.37v2.37h-2.37zM389.54 168.51h2.37v2.37h-2.37zM392.41 168.51h2.37v2.37h-2.37zM406.78 168.51h2.37v2.37h-2.37zM452.76 168.51h2.37v2.37h-2.37zM467.14 168.51h2.37v2.37h-2.37zM478.63 168.51h2.37v2.37h-2.37zM490.13 168.51h2.37v2.37h-2.37zM495.88 168.51h2.37v2.37h-2.37zM357.92 171.38h2.37v2.37h-2.37zM372.29 171.38h2.37v2.37h-2.37zM378.04 171.38h2.37v2.37h-2.37zM383.79 171.38h2.37v2.37h-2.37zM389.54 171.38h2.37v2.37h-2.37zM398.16 171.38h2.37v2.37h-2.37zM412.53 171.38h2.37v2.37h-2.37zM415.40 171.38h2.37v2.37h-2.37zM424.02 171.38h2.37v2.37h-2.37zM438.39 171.38h2.37v2.37h-2.37zM444.14 171.38h2.37v2.37h-2.37zM447.02 171.38h2.37v2.37h-2.37zM455.64 171.38h2.37v2.37h-2.37zM464.26 171.38h2.37v2.37h-2.37zM475.76 171.38h2.37v2.37h-2.37zM478.63 171.38h2.37v2.37h-2.37zM484.38 171.38h2.37v2.37h-2.37zM352.17 174.25h2.37v2.37h-2.37zM355.05 174.25h2.37v2.37h-2.37zM366.54 174.25h2.37v2.37h-2.37zM372.29 174.25h2.37v2.37h-2.37zM375.16 174.25h2.37v2.37h-2.37zM409.65 174.25h2.37v2.37h-2.37zM418.28 174.25h2.37v2.37h-2.37zM438.39 174.25h2.37v2.37h-2.37zM449.89 174.25h2.37v2.37h-2.37zM455.64 174.25h2.37v2.37h-2.37zM467.14 174.25h2.37v2.37h-2.37zM495.88 174.25h2.37v2.37h-2.37zM421.15 177.11h2.37v2.37h-2.37zM432.65 177.11h2.37v2.37h-2.37zM447.02 177.11h2.37v2.37h-2.37zM452.76 177.11h2.37v2.37h-2.37zM455.64 177.11h2.37v2.37h-2.37zM461.39 177.11h2.37v2.37h-2.37zM467.14 177.11h2.37v2.37h-2.37zM472.88 177.11h2.37v2.37h-2.37zM467.14 179.98h2.37v2.37h-2.37zM475.76 179.98h2.37v2.37h-2.37zM495.88 179.98h2.37v2.37h-2.37z" fill="#eeeefa"/>
<path d="M363.67 39.45h2.37v2.37h-2.37zM366.54 39.45h2.37v2.37h-2.37zM366.54 42.32h2.37v2.37h-2.37zM343.55 50.92h2.37v2.37h-2.37zM346.42 50.92h2.37v2.37h-2.37zM363.67 50.92h2.37v2.37h-2.37zM378.04 56.66h2.37v2.37h-2.37zM366.54 59.53h2.37v2.37h-2.37zM363.67 62.39h2.37v2.37h-2.37zM378.04 62.39h2.37v2.37h-2.37zM363.67 65.26h2.37v2.37h-2.37zM366.54 65.26h2.37v2.37h-2.37zM363.67 76.73h2.37v2.37h-2.37zM383.79 76.73h2.37v2.37h-2.37zM363.67 82.47h2.37v2.37h-2.37zM363.67 85.34h2.37v2.37h-2.37zM366.54 85.34h2.37v2.37h-2.37zM398.16 91.07h2.37v2.37h-2.37zM372.29 93.94h2.37v2.37h-2.37zM398.16 99.68h2.37v2.37h-2.37zM363.67 102.55h2.37v2.37h-2.37zM343.55 108.28h2.37v2.37h-2.37zM346.42 108.28h2.37v2.37h-2.37zM363.67 108.28h2.37v2.37h-2.37zM366.54 108.28h2.37v2.37h-2.37zM346.42 111.15h2.37v2.37h-2.37zM386.66 116.89h2.37v2.37h-2.37zM363.67 122.62h2.37v2.37h-2.37zM366.54 122.62h2.37v2.37h-2.37zM398.16 122.62h2.37v2.37h-2.37zM346.42 125.49h2.37v2.37h-2.37zM375.16 128.36h2.37v2.37h-2.37zM346.42 131.23h2.37v2.37h-2.37zM349.30 131.23h2.37v2.37h-2.37zM363.67 134.09h2.37v2.37h-2.37zM363.67 136.96h2.37v2.37h-2.37zM366.54 136.96h2.37v2.37h-2.37zM386.66 142.70h2.37v2.37h-2.37zM398.16 142.70h2.37v2.37h-2.37zM401.03 142.70h2.37v2.37h-2.37zM346.42 145.57h2.37v2.37h-2.37zM398.16 154.17h2.37v2.37h-2.37zM398.16 157.04h2.37v2.37h-2.37zM346.42 162.77h2.37v2.37h-2.37zM366.54 162.77h2.37v2.37h-2.37zM369.42 162.77h2.37v2.37h-2.37zM346.42 165.64h2.37v2.37h-2.37zM369.42 165.64h2.37v2.37h-2.37zM372.29 165.64h2.37v2.37h-2.37zM357.92 168.51h2.37v2.37h-2.37zM363.67 171.38h2.37v2.37h-2.37zM363.67 174.25h2.37v2.37h-2.37zM366.54 177.11h2.37v2.37h-2.37zM346.42 179.98h2.37v2.37h-2.37zM363.67 179.98h2.37v2.37h-2.37zM366.54 179.98h2.37v2.37h-2.37z" fill="#f0a8aa"/>
<path d="M412.53 39.45h2.37v2.37h-2.37zM418.28 39.45h2.37v2.37h-2.37zM435.52 39.45h2.37v2.37h-2.37zM447.02 39.45h2.37v2.37h-2.37zM461.39 39.45h2.37v2.37h-2.37zM472.88 39.45h2.37v2.37h-2.37zM412.53 42.32h2.37v2.37h-2.37zM421.15 42.32h2.37v2.37h-2.37zM461.39 42.32h2.37v2.37h-2.37zM493.00 42.32h2.37v2.37h-2.37zM495.88 42.32h2.37v2.37h-2.37zM415.40 45.19h2.37v2.37h-2.37zM424.02 45.19h2.37v2.37h-2.37zM429.77 45.19h2.37v2.37h-2.37zM438.39 45.19h2.37v2.37h-2.37zM441.27 45.19h2.37v2.37h-2.37zM444.14 45.19h2.37v2.37h-2.37zM447.02 45.19h2.37v2.37h-2.37zM455.64 45.19h2.37v2.37h-2.37zM464.26 45.19h2.37v2.37h-2.37zM472.88 45.19h2.37v2.37h-2.37zM481.51 45.19h2.37v2.37h-2.37zM487.25 45.19h2.37v2.37h-2.37zM490.13 45.19h2.37v2.37h-2.37zM493.00 45.19h2.37v2.37h-2.37zM415.40 48.05h2.37v2.37h-2.37zM429.77 48.05h2.37v2.37h-2.37zM438.39 48.05h2.37v2.37h-2.37zM444.14 48.05h2.37v2.37h-2.37zM449.89 48.05h2.37v2.37h-2.37zM452.76 48.05h2.37v2.37h-2.37zM455.64 48.05h2.37v2.37h-2.37zM461.39 48.05h2.37v2.37h-2.37zM472.88 48.05h2.37v2.37h-2.37zM478.63 48.05h2.37v2.37h-2.37zM487.25 48.05h2.37v2.37h-2.37zM493.00 48.05h2.37v2.37h-2.37zM432.65 50.92h2.37v2.37h-2.37zM444.14 50.92h2.37v2.37h-2.37zM447.02 50.92h2.37v2.37h-2.37zM449.89 50.92h2.37v2.37h-2.37zM472.88 50.92h2.37v2.37h-2.37zM481.51 50.92h2.37v2.37h-2.37zM490.13 50.92h2.37v2.37h-2.37zM493.00 50.92h2.37v2.37h-2.37zM424.02 53.79h2.37v2.37h-2.37zM426.90 53.79h2.37v2.37h-2.37zM432.65 53.79h2.37v2.37h-2.37zM441.27 53.79h2.37v2.37h-2.37zM444.14 53.79h2.37v2.37h-2.37zM449.89 53.79h2.37v2.37h-2.37zM455.64 53.79h2.37v2.37h-2.37zM470.01 53.79h2.37v2.37h-2.37zM478.63 53.79h2.37v2.37h-2.37zM484.38 53.79h2.37v2.37h-2.37zM487.25 53.79h2.37v2.37h-2.37zM490.13 53.79h2.37v2.37h-2.37zM495.88 53.79h2.37v2.37h-2.37zM415.40 56.66h2.37v2.37h-2.37zM426.90 56.66h2.37v2.37h-2.37zM432.65 56.66h2.37v2.37h-2.37zM435.52 56.66h2.37v2.37h-2.37zM441.27 56.66h2.37v2.37h-2.37zM449.89 56.66h2.37v2.37h-2.37zM455.64 56.66h2.37v2.37h-2.37zM461.39 56.66h2.37v2.37h-2.37zM470.01 56.66h2.37v2.37h-2.37zM478.63 56.66h2.37v2.37h-2.37zM490.13 56.66h2.37v2.37h-2.37zM493.00 56.66h2.37v2.37h-2.37zM435.52 59.53h2.37v2.37h-2.37zM441.27 59.53h2.37v2.37h-2.37zM444.14 59.53h2.37v2.37h-2.37zM452.76 59.53h2.37v2.37h-2.37zM458.51 59.53h2.37v2.37h-2.37zM470.01 59.53h2.37v2.37h-2.37zM484.38 59.53h2.37v2.37h-2.37zM490.13 59.53h2.37v2.37h-2.37zM493.00 59.53h2.37v2.37h-2.37zM495.88 59.53h2.37v2.37h-2.37zM412.53 62.39h2.37v2.37h-2.37zM421.15 62.39h2.37v2.37h-2.37zM424.02 62.39h2.37v2.37h-2.37zM429.77 62.39h2.37v2.37h-2.37zM432.65 62.39h2.37v2.37h-2.37zM444.14 62.39h2.37v2.37h-2.37zM452.76 62.39h2.37v2.37h-2.37zM458.51 62.39h2.37v2.37h-2.37zM467.14 62.39h2.37v2.37h-2.37zM470.01 62.39h2.37v2.37h-2.37zM478.63 62.39h2.37v2.37h-2.37zM481.51 62.39h2.37v2.37h-2.37zM487.25 62.39h2.37v2.37h-2.37zM495.88 62.39h2.37v2.37h-2.37zM412.53 65.26h2.37v2.37h-2.37zM418.28 65.26h2.37v2.37h-2.37zM426.90 65.26h2.37v2.37h-2.37zM452.76 65.26h2.37v2.37h-2.37zM461.39 65.26h2.37v2.37h-2.37zM467.14 65.26h2.37v2.37h-2.37zM470.01 65.26h2.37v2.37h-2.37zM481.51 65.26h2.37v2.37h-2.37zM493.00 65.26h2.37v2.37h-2.37zM495.88 65.26h2.37v2.37h-2.37zM421.15 68.13h2.37v2.37h-2.37zM429.77 68.13h2.37v2.37h-2.37zM432.65 68.13h2.37v2.37h-2.37zM441.27 68.13h2.37v2.37h-2.37zM447.02 68.13h2.37v2.37h-2.37zM452.76 68.13h2.37v2.37h-2.37zM458.51 68.13h2.37v2.37h-2.37zM461.39 68.13h2.37v2.37h-2.37zM490.13 68.13h2.37v2.37h-2.37zM412.53 71.00h2.37v2.37h-2.37zM438.39 71.00h2.37v2.37h-2.37zM444.14 71.00h2.37v2.37h-2.37zM461.39 71.00h2.37v2.37h-2.37zM472.88 71.00h2.37v2.37h-2.37zM481.51 71.00h2.37v2.37h-2.37zM484.38 71.00h2.37v2.37h-2.37zM495.88 71.00h2.37v2.37h-2.37zM418.28 73.87h2.37v2.37h-2.37zM424.02 73.87h2.37v2.37h-2.37zM429.77 73.87h2.37v2.37h-2.37zM438.39 73.87h2.37v2.37h-2.37zM447.02 73.87h2.37v2.37h-2.37zM449.89 73.87h2.37v2.37h-2.37zM452.76 73.87h2.37v2.37h-2.37zM461.39 73.87h2.37v2.37h-2.37zM464.26 73.87h2.37v2.37h-2.37zM470.01 73.87h2.37v2.37h-2.37zM487.25 73.87h2.37v2.37h-2.37zM490.13 73.87h2.37v2.37h-2.37zM493.00 73.87h2.37v2.37h-2.37zM495.88 73.87h2.37v2.37h-2.37zM418.28 76.73h2.37v2.37h-2.37zM426.90 76.73h2.37v2.37h-2.37zM432.65 76.73h2.37v2.37h-2.37zM441.27 76.73h2.37v2.37h-2.37zM444.14 76.73h2.37v2.37h-2.37zM447.02 76.73h2.37v2.37h-2.37zM455.64 76.73h2.37v2.37h-2.37zM470.01 76.73h2.37v2.37h-2.37zM481.51 76.73h2.37v2.37h-2.37zM490.13 76.73h2.37v2.37h-2.37zM493.00 76.73h2.37v2.37h-2.37zM495.88 76.73h2.37v2.37h-2.37zM418.28 79.60h2.37v2.37h-2.37zM424.02 79.60h2.37v2.37h-2.37zM429.77 79.60h2.37v2.37h-2.37zM432.65 79.60h2.37v2.37h-2.37zM438.39 79.60h2.37v2.37h-2.37zM441.27 79.60h2.37v2.37h-2.37zM455.64 79.60h2.37v2.37h-2.37zM481.51 79.60h2.37v2.37h-2.37zM490.13 79.60h2.37v2.37h-2.37zM493.00 79.60h2.37v2.37h-2.37zM412.53 82.47h2.37v2.37h-2.37zM418.28 82.47h2.37v2.37h-2.37zM424.02 82.47h2.37v2.37h-2.37zM426.90 82.47h2.37v2.37h-2.37zM432.65 82.47h2.37v2.37h-2.37zM438.39 82.47h2.37v2.37h-2.37zM444.14 82.47h2.37v2.37h-2.37zM452.76 82.47h2.37v2.37h-2.37zM455.64 82.47h2.37v2.37h-2.37zM467.14 82.47h2.37v2.37h-2.37zM472.88 82.47h2.37v2.37h-2.37zM478.63 82.47h2.37v2.37h-2.37zM484.38 82.47h2.37v2.37h-2.37zM490.13 82.47h2.37v2.37h-2.37zM493.00 82.47h2.37v2.37h-2.37zM415.40 85.34h2.37v2.37h-2.37zM418.28 85.34h2.37v2.37h-2.37zM426.90 85.34h2.37v2.37h-2.37zM429.77 85.34h2.37v2.37h-2.37zM432.65 85.34h2.37v2.37h-2.37zM447.02 85.34h2.37v2.37h-2.37zM458.51 85.34h2.37v2.37h-2.37zM464.26 85.34h2.37v2.37h-2.37zM470.01 85.34h2.37v2.37h-2.37zM484.38 85.34h2.37v2.37h-2.37zM490.13 85.34h2.37v2.37h-2.37zM493.00 85.34h2.37v2.37h-2.37zM421.15 88.21h2.37v2.37h-2.37zM429.77 88.21h2.37v2.37h-2.37zM470.01 88.21h2.37v2.37h-2.37zM472.88 88.21h2.37v2.37h-2.37zM490.13 88.21h2.37v2.37h-2.37zM426.90 91.07h2.37v2.37h-2.37zM429.77 91.07h2.37v2.37h-2.37zM432.65 91.07h2.37v2.37h-2.37zM441.27 91.07h2.37v2.37h-2.37zM447.02 91.07h2.37v2.37h-2.37zM452.76 91.07h2.37v2.37h-2.37zM455.64 91.07h2.37v2.37h-2.37zM472.88 91.07h2.37v2.37h-2.37zM481.51 91.07h2.37v2.37h-2.37zM484.38 91.07h2.37v2.37h-2.37zM493.00 91.07h2.37v2.37h-2.37zM495.88 91.07h2.37v2.37h-2.37zM418.28 93.94h2.37v2.37h-2.37zM421.15 93.94h2.37v2.37h-2.37zM424.02 93.94h2.37v2.37h-2.37zM426.90 93.94h2.37v2.37h-2.37zM432.65 93.94h2.37v2.37h-2.37zM444.14 93.94h2.37v2.37h-2.37zM447.02 93.94h2.37v2.37h-2.37zM455.64 93.94h2.37v2.37h-2.37zM461.39 93.94h2.37v2.37h-2.37zM484.38 93.94h2.37v2.37h-2.37zM495.88 93.94h2.37v2.37h-2.37zM418.28 96.81h2.37v2.37h-2.37zM421.15 96.81h2.37v2.37h-2.37zM432.65 96.81h2.37v2.37h-2.37zM464.26 96.81h2.37v2.37h-2.37zM470.01 96.81h2.37v2.37h-2.37zM472.88 96.81h2.37v2.37h-2.37zM478.63 96.81h2.37v2.37h-2.37zM426.90 99.68h2.37v2.37h-2.37zM429.77 99.68h2.37v2.37h-2.37zM435.52 99.68h2.37v2.37h-2.37zM438.39 99.68h2.37v2.37h-2.37zM441.27 99.68h2.37v2.37h-2.37zM449.89 99.68h2.37v2.37h-2.37zM452.76 99.68h2.37v2.37h-2.37zM464.26 99.68h2.37v2.37h-2.37zM472.88 99.68h2.37v2.37h-2.37zM481.51 99.68h2.37v2.37h-2.37zM487.25 99.68h2.37v2.37h-2.37zM490.13 99.68h2.37v2.37h-2.37zM495.88 99.68h2.37v2.37h-2.37zM426.90 102.55h2.37v2.37h-2.37zM432.65 102.55h2.37v2.37h-2.37zM438.39 102.55h2.37v2.37h-2.37zM441.27 102.55h2.37v2.37h-2.37zM452.76 102.55h2.37v2.37h-2.37zM467.14 102.55h2.37v2.37h-2.37zM470.01 102.55h2.37v2.37h-2.37zM484.38 102.55h2.37v2.37h-2.37zM487.25 102.55h2.37v2.37h-2.37zM495.88 102.55h2.37v2.37h-2.37zM432.65 105.41h2.37v2.37h-2.37zM441.27 105.41h2.37v2.37h-2.37zM452.76 105.41h2.37v2.37h-2.37zM467.14 105.41h2.37v2.37h-2.37zM472.88 105.41h2.37v2.37h-2.37zM481.51 105.41h2.37v2.37h-2.37zM487.25 105.41h2.37v2.37h-2.37zM490.13 105.41h2.37v2.37h-2.37zM418.28 108.28h2.37v2.37h-2.37zM421.15 108.28h2.37v2.37h-2.37zM426.90 108.28h2.37v2.37h-2.37zM432.65 108.28h2.37v2.37h-2.37zM435.52 108.28h2.37v2.37h-2.37zM441.27 108.28h2.37v2.37h-2.37zM444.14 108.28h2.37v2.37h-2.37zM449.89 108.28h2.37v2.37h-2.37zM458.51 108.28h2.37v2.37h-2.37zM464.26 108.28h2.37v2.37h-2.37zM475.76 108.28h2.37v2.37h-2.37zM493.00 108.28h2.37v2.37h-2.37zM418.28 111.15h2.37v2.37h-2.37zM432.65 111.15h2.37v2.37h-2.37zM458.51 111.15h2.37v2.37h-2.37zM475.76 111.15h2.37v2.37h-2.37zM484.38 111.15h2.37v2.37h-2.37zM493.00 111.15h2.37v2.37h-2.37zM412.53 114.02h2.37v2.37h-2.37zM415.40 114.02h2.37v2.37h-2.37zM421.15 114.02h2.37v2.37h-2.37zM429.77 114.02h2.37v2.37h-2.37zM435.52 114.02h2.37v2.37h-2.37zM441.27 114.02h2.37v2.37h-2.37zM444.14 114.02h2.37v2.37h-2.37zM447.02 114.02h2.37v2.37h-2.37zM452.76 114.02h2.37v2.37h-2.37zM458.51 114.02h2.37v2.37h-2.37zM472.88 114.02h2.37v2.37h-2.37zM481.51 114.02h2.37v2.37h-2.37zM484.38 114.02h2.37v2.37h-2.37zM487.25 114.02h2.37v2.37h-2.37zM490.13 114.02h2.37v2.37h-2.37zM493.00 114.02h2.37v2.37h-2.37zM415.40 116.89h2.37v2.37h-2.37zM418.28 116.89h2.37v2.37h-2.37zM429.77 116.89h2.37v2.37h-2.37zM435.52 116.89h2.37v2.37h-2.37zM444.14 116.89h2.37v2.37h-2.37zM447.02 116.89h2.37v2.37h-2.37zM458.51 116.89h2.37v2.37h-2.37zM461.39 116.89h2.37v2.37h-2.37zM470.01 116.89h2.37v2.37h-2.37zM481.51 116.89h2.37v2.37h-2.37zM487.25 116.89h2.37v2.37h-2.37zM490.13 116.89h2.37v2.37h-2.37zM412.53 119.75h2.37v2.37h-2.37zM418.28 119.75h2.37v2.37h-2.37zM426.90 119.75h2.37v2.37h-2.37zM435.52 119.75h2.37v2.37h-2.37zM441.27 119.75h2.37v2.37h-2.37zM452.76 119.75h2.37v2.37h-2.37zM458.51 119.75h2.37v2.37h-2.37zM470.01 119.75h2.37v2.37h-2.37zM478.63 119.75h2.37v2.37h-2.37zM481.51 119.75h2.37v2.37h-2.37zM487.25 119.75h2.37v2.37h-2.37zM495.88 119.75h2.37v2.37h-2.37zM421.15 122.62h2.37v2.37h-2.37zM426.90 122.62h2.37v2.37h-2.37zM432.65 122.62h2.37v2.37h-2.37zM438.39 122.62h2.37v2.37h-2.37zM449.89 122.62h2.37v2.37h-2.37zM452.76 122.62h2.37v2.37h-2.37zM458.51 122.62h2.37v2.37h-2.37zM467.14 122.62h2.37v2.37h-2.37zM470.01 122.62h2.37v2.37h-2.37zM478.63 122.62h2.37v2.37h-2.37zM484.38 122.62h2.37v2.37h-2.37zM490.13 122.62h2.37v2.37h-2.37zM493.00 122.62h2.37v2.37h-2.37zM415.40 125.49h2.37v2.37h-2.37zM418.28 125.49h2.37v2.37h-2.37zM421.15 125.49h2.37v2.37h-2.37zM426.90 125.49h2.37v2.37h-2.37zM432.65 125.49h2.37v2.37h-2.37zM435.52 125.49h2.37v2.37h-2.37zM441.27 125.49h2.37v2.37h-2.37zM449.89 125.49h2.37v2.37h-2.37zM455.64 125.49h2.37v2.37h-2.37zM461.39 125.49h2.37v2.37h-2.37zM467.14 125.49h2.37v2.37h-2.37zM478.63 125.49h2.37v2.37h-2.37zM487.25 125.49h2.37v2.37h-2.37zM493.00 125.49h2.37v2.37h-2.37zM421.15 128.36h2.37v2.37h-2.37zM426.90 128.36h2.37v2.37h-2.37zM429.77 128.36h2.37v2.37h-2.37zM435.52 128.36h2.37v2.37h-2.37zM441.27 128.36h2.37v2.37h-2.37zM447.02 128.36h2.37v2.37h-2.37zM449.89 128.36h2.37v2.37h-2.37zM452.76 128.36h2.37v2.37h-2.37zM455.64 128.36h2.37v2.37h-2.37zM472.88 128.36h2.37v2.37h-2.37zM478.63 128.36h2.37v2.37h-2.37zM487.25 128.36h2.37v2.37h-2.37zM490.13 128.36h2.37v2.37h-2.37zM412.53 131.23h2.37v2.37h-2.37zM418.28 131.23h2.37v2.37h-2.37zM421.15 131.23h2.37v2.37h-2.37zM426.90 131.23h2.37v2.37h-2.37zM435.52 131.23h2.37v2.37h-2.37zM438.39 131.23h2.37v2.37h-2.37zM444.14 131.23h2.37v2.37h-2.37zM449.89 131.23h2.37v2.37h-2.37zM452.76 131.23h2.37v2.37h-2.37zM467.14 131.23h2.37v2.37h-2.37zM481.51 131.23h2.37v2.37h-2.37zM487.25 131.23h2.37v2.37h-2.37zM490.13 131.23h2.37v2.37h-2.37zM495.88 131.23h2.37v2.37h-2.37zM412.53 134.09h2.37v2.37h-2.37zM415.40 134.09h2.37v2.37h-2.37zM418.28 134.09h2.37v2.37h-2.37zM435.52 134.09h2.37v2.37h-2.37zM438.39 134.09h2.37v2.37h-2.37zM444.14 134.09h2.37v2.37h-2.37zM447.02 134.09h2.37v2.37h-2.37zM452.76 134.09h2.37v2.37h-2.37zM455.64 134.09h2.37v2.37h-2.37zM461.39 134.09h2.37v2.37h-2.37zM464.26 134.09h2.37v2.37h-2.37zM478.63 134.09h2.37v2.37h-2.37zM481.51 134.09h2.37v2.37h-2.37zM490.13 134.09h2.37v2.37h-2.37zM493.00 134.09h2.37v2.37h-2.37zM415.40 136.96h2.37v2.37h-2.37zM421.15 136.96h2.37v2.37h-2.37zM429.77 136.96h2.37v2.37h-2.37zM438.39 136.96h2.37v2.37h-2.37zM444.14 136.96h2.37v2.37h-2.37zM452.76 136.96h2.37v2.37h-2.37zM458.51 136.96h2.37v2.37h-2.37zM461.39 136.96h2.37v2.37h-2.37zM470.01 136.96h2.37v2.37h-2.37zM481.51 136.96h2.37v2.37h-2.37zM484.38 136.96h2.37v2.37h-2.37zM490.13 136.96h2.37v2.37h-2.37zM418.28 139.83h2.37v2.37h-2.37zM424.02 139.83h2.37v2.37h-2.37zM429.77 139.83h2.37v2.37h-2.37zM435.52 139.83h2.37v2.37h-2.37zM438.39 139.83h2.37v2.37h-2.37zM444.14 139.83h2.37v2.37h-2.37zM458.51 139.83h2.37v2.37h-2.37zM464.26 139.83h2.37v2.37h-2.37zM467.14 139.83h2.37v2.37h-2.37zM478.63 139.83h2.37v2.37h-2.37zM484.38 139.83h2.37v2.37h-2.37zM487.25 139.83h2.37v2.37h-2.37zM493.00 139.83h2.37v2.37h-2.37zM421.15 142.70h2.37v2.37h-2.37zM424.02 142.70h2.37v2.37h-2.37zM435.52 142.70h2.37v2.37h-2.37zM444.14 142.70h2.37v2.37h-2.37zM449.89 142.70h2.37v2.37h-2.37zM458.51 142.70h2.37v2.37h-2.37zM461.39 142.70h2.37v2.37h-2.37zM464.26 142.70h2.37v2.37h-2.37zM467.14 142.70h2.37v2.37h-2.37zM470.01 142.70h2.37v2.37h-2.37zM478.63 142.70h2.37v2.37h-2.37zM484.38 142.70h2.37v2.37h-2.37zM490.13 142.70h2.37v2.37h-2.37zM493.00 142.70h2.37v2.37h-2.37zM415.40 145.57h2.37v2.37h-2.37zM424.02 145.57h2.37v2.37h-2.37zM426.90 145.57h2.37v2.37h-2.37zM429.77 145.57h2.37v2.37h-2.37zM438.39 145.57h2.37v2.37h-2.37zM472.88 145.57h2.37v2.37h-2.37zM478.63 145.57h2.37v2.37h-2.37zM484.38 145.57h2.37v2.37h-2.37zM487.25 145.57h2.37v2.37h-2.37zM490.13 145.57h2.37v2.37h-2.37zM493.00 145.57h2.37v2.37h-2.37zM418.28 148.43h2.37v2.37h-2.37zM438.39 148.43h2.37v2.37h-2.37zM444.14 148.43h2.37v2.37h-2.37zM447.02 148.43h2.37v2.37h-2.37zM452.76 148.43h2.37v2.37h-2.37zM455.64 148.43h2.37v2.37h-2.37zM467.14 148.43h2.37v2.37h-2.37zM472.88 148.43h2.37v2.37h-2.37zM478.63 148.43h2.37v2.37h-2.37zM484.38 148.43h2.37v2.37h-2.37zM418.28 151.30h2.37v2.37h-2.37zM421.15 151.30h2.37v2.37h-2.37zM426.90 151.30h2.37v2.37h-2.37zM432.65 151.30h2.37v2.37h-2.37zM449.89 151.30h2.37v2.37h-2.37zM452.76 151.30h2.37v2.37h-2.37zM458.51 151.30h2.37v2.37h-2.37zM461.39 151.30h2.37v2.37h-2.37zM478.63 151.30h2.37v2.37h-2.37zM484.38 151.30h2.37v2.37h-2.37zM490.13 151.30h2.37v2.37h-2.37zM493.00 151.30h2.37v2.37h-2.37zM421.15 154.17h2.37v2.37h-2.37zM426.90 154.17h2.37v2.37h-2.37zM429.77 154.17h2.37v2.37h-2.37zM432.65 154.17h2.37v2.37h-2.37zM438.39 154.17h2.37v2.37h-2.37zM441.27 154.17h2.37v2.37h-2.37zM447.02 154.17h2.37v2.37h-2.37zM455.64 154.17h2.37v2.37h-2.37zM461.39 154.17h2.37v2.37h-2.37zM470.01 154.17h2.37v2.37h-2.37zM481.51 154.17h2.37v2.37h-2.37zM484.38 154.17h2.37v2.37h-2.37zM490.13 154.17h2.37v2.37h-2.37zM495.88 154.17h2.37v2.37h-2.37zM418.28 157.04h2.37v2.37h-2.37zM429.77 157.04h2.37v2.37h-2.37zM432.65 157.04h2.37v2.37h-2.37zM438.39 157.04h2.37v2.37h-2.37zM444.14 157.04h2.37v2.37h-2.37zM447.02 157.04h2.37v2.37h-2.37zM452.76 157.04h2.37v2.37h-2.37zM455.64 157.04h2.37v2.37h-2.37zM464.26 157.04h2.37v2.37h-2.37zM470.01 157.04h2.37v2.37h-2.37zM472.88 157.04h2.37v2.37h-2.37zM484.38 157.04h2.37v2.37h-2.37zM490.13 157.04h2.37v2.37h-2.37zM493.00 157.04h2.37v2.37h-2.37zM424.02 159.91h2.37v2.37h-2.37zM432.65 159.91h2.37v2.37h-2.37zM438.39 159.91h2.37v2.37h-2.37zM441.27 159.91h2.37v2.37h-2.37zM461.39 159.91h2.37v2.37h-2.37zM470.01 159.91h2.37v2.37h-2.37zM472.88 159.91h2.37v2.37h-2.37zM490.13 159.91h2.37v2.37h-2.37zM493.00 159.91h2.37v2.37h-2.37zM415.40 162.77h2.37v2.37h-2.37zM418.28 162.77h2.37v2.37h-2.37zM429.77 162.77h2.37v2.37h-2.37zM435.52 162.77h2.37v2.37h-2.37zM441.27 162.77h2.37v2.37h-2.37zM458.51 162.77h2.37v2.37h-2.37zM461.39 162.77h2.37v2.37h-2.37zM467.14 162.77h2.37v2.37h-2.37zM470.01 162.77h2.37v2.37h-2.37zM478.63 162.77h2.37v2.37h-2.37zM481.51 162.77h2.37v2.37h-2.37zM490.13 162.77h2.37v2.37h-2.37zM493.00 162.77h2.37v2.37h-2.37zM412.53 165.64h2.37v2.37h-2.37zM415.40 165.64h2.37v2.37h-2.37zM418.28 165.64h2.37v2.37h-2.37zM467.14 165.64h2.37v2.37h-2.37zM478.63 165.64h2.37v2.37h-2.37zM484.38 165.64h2.37v2.37h-2.37zM487.25 165.64h2.37v2.37h-2.37zM493.00 165.64h2.37v2.37h-2.37zM412.53 168.51h2.37v2.37h-2.37zM415.40 168.51h2.37v2.37h-2.37zM418.28 168.51h2.37v2.37h-2.37zM421.15 168.51h2.37v2.37h-2.37zM426.90 168.51h2.37v2.37h-2.37zM447.02 168.51h2.37v2.37h-2.37zM449.89 168.51h2.37v2.37h-2.37zM455.64 168.51h2.37v2.37h-2.37zM458.51 168.51h2.37v2.37h-2.37zM461.39 168.51h2.37v2.37h-2.37zM472.88 168.51h2.37v2.37h-2.37zM481.51 168.51h2.37v2.37h-2.37zM484.38 168.51h2.37v2.37h-2.37zM487.25 168.51h2.37v2.37h-2.37zM493.00 168.51h2.37v2.37h-2.37zM418.28 171.38h2.37v2.37h-2.37zM432.65 171.38h2.37v2.37h-2.37zM449.89 171.38h2.37v2.37h-2.37zM458.51 171.38h2.37v2.37h-2.37zM472.88 171.38h2.37v2.37h-2.37zM481.51 171.38h2.37v2.37h-2.37zM487.25 171.38h2.37v2.37h-2.37zM490.13 171.38h2.37v2.37h-2.37zM495.88 171.38h2.37v2.37h-2.37zM415.40 174.25h2.37v2.37h-2.37zM426.90 174.25h2.37v2.37h-2.37zM435.52 174.25h2.37v2.37h-2.37zM441.27 174.25h2.37v2.37h-2.37zM447.02 174.25h2.37v2.37h-2.37zM452.76 174.25h2.37v2.37h-2.37zM458.51 174.25h2.37v2.37h-2.37zM464.26 174.25h2.37v2.37h-2.37zM470.01 174.25h2.37v2.37h-2.37zM478.63 174.25h2.37v2.37h-2.37zM487.25 174.25h2.37v2.37h-2.37zM424.02 177.11h2.37v2.37h-2.37zM426.90 177.11h2.37v2.37h-2.37zM435.52 177.11h2.37v2.37h-2.37zM441.27 177.11h2.37v2.37h-2.37zM444.14 177.11h2.37v2.37h-2.37zM449.89 177.11h2.37v2.37h-2.37zM458.51 177.11h2.37v2.37h-2.37zM415.40 179.98h2.37v2.37h-2.37zM418.28 179.98h2.37v2.37h-2.37zM426.90 179.98h2.37v2.37h-2.37zM429.77 179.98h2.37v2.37h-2.37zM432.65 179.98h2.37v2.37h-2.37zM444.14 179.98h2.37v2.37h-2.37zM461.39 179.98h2.37v2.37h-2.37zM464.26 179.98h2.37v2.37h-2.37zM470.01 179.98h2.37v2.37h-2.37zM478.63 179.98h2.37v2.37h-2.37zM481.51 179.98h2.37v2.37h-2.37zM484.38 179.98h2.37v2.37h-2.37zM487.25 179.98h2.37v2.37h-2.37zM490.13 179.98h2.37v2.37h-2.37zM493.00 179.98h2.37v2.37h-2.37z" fill="#e67274"/>
<path d="M378.04 59.53h2.37v2.37h-2.37zM366.54 62.39h2.37v2.37h-2.37zM363.67 125.49h2.37v2.37h-2.37zM366.54 125.49h2.37v2.37h-2.37zM366.54 134.09h2.37v2.37h-2.37zM346.42 171.38h2.37v2.37h-2.37zM366.54 171.38h2.37v2.37h-2.37zM346.42 174.25h2.37v2.37h-2.37zM343.55 177.11h2.37v2.37h-2.37zM346.42 177.11h2.37v2.37h-2.37z" fill="#e46669"/>
<path d="M424.02 39.45h2.37v2.37h-2.37zM429.77 39.45h2.37v2.37h-2.37zM432.65 39.45h2.37v2.37h-2.37zM438.39 39.45h2.37v2.37h-2.37zM444.14 39.45h2.37v2.37h-2.37zM452.76 39.45h2.37v2.37h-2.37zM455.64 39.45h2.37v2.37h-2.37zM464.26 39.45h2.37v2.37h-2.37zM478.63 39.45h2.37v2.37h-2.37zM487.25 39.45h2.37v2.37h-2.37zM490.13 39.45h2.37v2.37h-2.37zM493.00 39.45h2.37v2.37h-2.37zM415.40 42.32h2.37v2.37h-2.37zM424.02 42.32h2.37v2.37h-2.37zM432.65 42.32h2.37v2.37h-2.37zM438.39 42.32h2.37v2.37h-2.37zM452.76 42.32h2.37v2.37h-2.37zM455.64 42.32h2.37v2.37h-2.37zM472.88 42.32h2.37v2.37h-2.37zM475.76 42.32h2.37v2.37h-2.37zM478.63 42.32h2.37v2.37h-2.37zM481.51 42.32h2.37v2.37h-2.37zM484.38 42.32h2.37v2.37h-2.37zM487.25 42.32h2.37v2.37h-2.37zM490.13 42.32h2.37v2.37h-2.37zM426.90 45.19h2.37v2.37h-2.37zM432.65 45.19h2.37v2.37h-2.37zM452.76 45.19h2.37v2.37h-2.37zM467.14 45.19h2.37v2.37h-2.37zM470.01 45.19h2.37v2.37h-2.37zM478.63 45.19h2.37v2.37h-2.37zM484.38 45.19h2.37v2.37h-2.37zM412.53 48.05h2.37v2.37h-2.37zM421.15 48.05h2.37v2.37h-2.37zM426.90 48.05h2.37v2.37h-2.37zM441.27 48.05h2.37v2.37h-2.37zM464.26 48.05h2.37v2.37h-2.37zM467.14 48.05h2.37v2.37h-2.37zM470.01 48.05h2.37v2.37h-2.37zM481.51 48.05h2.37v2.37h-2.37zM484.38 48.05h2.37v2.37h-2.37zM412.53 50.92h2.37v2.37h-2.37zM429.77 50.92h2.37v2.37h-2.37zM441.27 50.92h2.37v2.37h-2.37zM464.26 50.92h2.37v2.37h-2.37zM470.01 50.92h2.37v2.37h-2.37zM484.38 50.92h2.37v2.37h-2.37zM435.52 53.79h2.37v2.37h-2.37zM447.02 53.79h2.37v2.37h-2.37zM458.51 53.79h2.37v2.37h-2.37zM461.39 53.79h2.37v2.37h-2.37zM467.14 53.79h2.37v2.37h-2.37zM481.51 53.79h2.37v2.37h-2.37zM418.28 56.66h2.37v2.37h-2.37zM429.77 56.66h2.37v2.37h-2.37zM452.76 56.66h2.37v2.37h-2.37zM458.51 56.66h2.37v2.37h-2.37zM464.26 56.66h2.37v2.37h-2.37zM467.14 56.66h2.37v2.37h-2.37zM481.51 56.66h2.37v2.37h-2.37zM484.38 56.66h2.37v2.37h-2.37zM421.15 59.53h2.37v2.37h-2.37zM429.77 59.53h2.37v2.37h-2.37zM432.65 59.53h2.37v2.37h-2.37zM438.39 59.53h2.37v2.37h-2.37zM447.02 59.53h2.37v2.37h-2.37zM455.64 59.53h2.37v2.37h-2.37zM478.63 59.53h2.37v2.37h-2.37zM481.51 59.53h2.37v2.37h-2.37zM487.25 59.53h2.37v2.37h-2.37zM435.52 62.39h2.37v2.37h-2.37zM441.27 62.39h2.37v2.37h-2.37zM455.64 62.39h2.37v2.37h-2.37zM461.39 62.39h2.37v2.37h-2.37zM424.02 65.26h2.37v2.37h-2.37zM432.65 65.26h2.37v2.37h-2.37zM435.52 65.26h2.37v2.37h-2.37zM441.27 65.26h2.37v2.37h-2.37zM464.26 65.26h2.37v2.37h-2.37zM484.38 65.26h2.37v2.37h-2.37zM426.90 68.13h2.37v2.37h-2.37zM435.52 68.13h2.37v2.37h-2.37zM467.14 68.13h2.37v2.37h-2.37zM472.88 68.13h2.37v2.37h-2.37zM481.51 68.13h2.37v2.37h-2.37zM484.38 68.13h2.37v2.37h-2.37zM429.77 71.00h2.37v2.37h-2.37zM487.25 71.00h2.37v2.37h-2.37zM421.15 73.87h2.37v2.37h-2.37zM432.65 73.87h2.37v2.37h-2.37zM435.52 73.87h2.37v2.37h-2.37zM441.27 73.87h2.37v2.37h-2.37zM444.14 73.87h2.37v2.37h-2.37zM455.64 73.87h2.37v2.37h-2.37zM467.14 73.87h2.37v2.37h-2.37zM484.38 73.87h2.37v2.37h-2.37zM421.15 76.73h2.37v2.37h-2.37zM424.02 76.73h2.37v2.37h-2.37zM429.77 76.73h2.37v2.37h-2.37zM438.39 76.73h2.37v2.37h-2.37zM452.76 76.73h2.37v2.37h-2.37zM458.51 76.73h2.37v2.37h-2.37zM461.39 76.73h2.37v2.37h-2.37zM484.38 76.73h2.37v2.37h-2.37zM487.25 76.73h2.37v2.37h-2.37zM426.90 79.60h2.37v2.37h-2.37zM444.14 79.60h2.37v2.37h-2.37zM449.89 79.60h2.37v2.37h-2.37zM452.76 79.60h2.37v2.37h-2.37zM458.51 79.60h2.37v2.37h-2.37zM461.39 79.60h2.37v2.37h-2.37zM484.38 79.60h2.37v2.37h-2.37zM487.25 79.60h2.37v2.37h-2.37zM415.40 82.47h2.37v2.37h-2.37zM429.77 82.47h2.37v2.37h-2.37zM441.27 82.47h2.37v2.37h-2.37zM447.02 82.47h2.37v2.37h-2.37zM458.51 82.47h2.37v2.37h-2.37zM461.39 82.47h2.37v2.37h-2.37zM424.02 85.34h2.37v2.37h-2.37zM438.39 85.34h2.37v2.37h-2.37zM444.14 85.34h2.37v2.37h-2.37zM424.02 88.21h2.37v2.37h-2.37zM435.52 88.21h2.37v2.37h-2.37zM441.27 88.21h2.37v2.37h-2.37zM444.14 88.21h2.37v2.37h-2.37zM484.38 88.21h2.37v2.37h-2.37zM487.25 88.21h2.37v2.37h-2.37zM493.00 88.21h2.37v2.37h-2.37zM435.52 91.07h2.37v2.37h-2.37zM438.39 91.07h2.37v2.37h-2.37zM444.14 91.07h2.37v2.37h-2.37zM458.51 91.07h2.37v2.37h-2.37zM461.39 91.07h2.37v2.37h-2.37zM490.13 91.07h2.37v2.37h-2.37zM458.51 93.94h2.37v2.37h-2.37zM467.14 93.94h2.37v2.37h-2.37zM493.00 93.94h2.37v2.37h-2.37zM424.02 96.81h2.37v2.37h-2.37zM429.77 96.81h2.37v2.37h-2.37zM435.52 96.81h2.37v2.37h-2.37zM438.39 96.81h2.37v2.37h-2.37zM441.27 96.81h2.37v2.37h-2.37zM484.38 96.81h2.37v2.37h-2.37zM493.00 96.81h2.37v2.37h-2.37zM421.15 99.68h2.37v2.37h-2.37zM424.02 99.68h2.37v2.37h-2.37zM444.14 99.68h2.37v2.37h-2.37zM455.64 99.68h2.37v2.37h-2.37zM458.51 99.68h2.37v2.37h-2.37zM467.14 99.68h2.37v2.37h-2.37zM470.01 99.68h2.37v2.37h-2.37zM484.38 99.68h2.37v2.37h-2.37zM424.02 102.55h2.37v2.37h-2.37zM435.52 102.55h2.37v2.37h-2.37zM455.64 102.55h2.37v2.37h-2.37zM458.51 102.55h2.37v2.37h-2.37zM464.26 102.55h2.37v2.37h-2.37zM424.02 105.41h2.37v2.37h-2.37zM435.52 105.41h2.37v2.37h-2.37zM455.64 105.41h2.37v2.37h-2.37zM461.39 105.41h2.37v2.37h-2.37zM470.01 105.41h2.37v2.37h-2.37zM484.38 105.41h2.37v2.37h-2.37zM429.77 108.28h2.37v2.37h-2.37zM438.39 108.28h2.37v2.37h-2.37zM452.76 108.28h2.37v2.37h-2.37zM455.64 108.28h2.37v2.37h-2.37zM461.39 108.28h2.37v2.37h-2.37zM472.88 108.28h2.37v2.37h-2.37zM484.38 108.28h2.37v2.37h-2.37zM487.25 108.28h2.37v2.37h-2.37zM426.90 111.15h2.37v2.37h-2.37zM429.77 111.15h2.37v2.37h-2.37zM435.52 111.15h2.37v2.37h-2.37zM438.39 111.15h2.37v2.37h-2.37zM444.14 111.15h2.37v2.37h-2.37zM467.14 111.15h2.37v2.37h-2.37zM472.88 111.15h2.37v2.37h-2.37zM487.25 111.15h2.37v2.37h-2.37zM426.90 114.02h2.37v2.37h-2.37zM432.65 114.02h2.37v2.37h-2.37zM438.39 114.02h2.37v2.37h-2.37zM455.64 114.02h2.37v2.37h-2.37zM461.39 114.02h2.37v2.37h-2.37zM464.26 114.02h2.37v2.37h-2.37zM467.14 114.02h2.37v2.37h-2.37zM495.88 114.02h2.37v2.37h-2.37zM424.02 116.89h2.37v2.37h-2.37zM432.65 116.89h2.37v2.37h-2.37zM438.39 116.89h2.37v2.37h-2.37zM421.15 119.75h2.37v2.37h-2.37zM424.02 119.75h2.37v2.37h-2.37zM429.77 119.75h2.37v2.37h-2.37zM444.14 119.75h2.37v2.37h-2.37zM447.02 119.75h2.37v2.37h-2.37zM461.39 119.75h2.37v2.37h-2.37zM484.38 119.75h2.37v2.37h-2.37zM435.52 122.62h2.37v2.37h-2.37zM441.27 122.62h2.37v2.37h-2.37zM444.14 122.62h2.37v2.37h-2.37zM447.02 122.62h2.37v2.37h-2.37zM461.39 122.62h2.37v2.37h-2.37zM464.26 122.62h2.37v2.37h-2.37zM481.51 122.62h2.37v2.37h-2.37zM438.39 125.49h2.37v2.37h-2.37zM464.26 125.49h2.37v2.37h-2.37zM470.01 125.49h2.37v2.37h-2.37zM481.51 125.49h2.37v2.37h-2.37zM484.38 125.49h2.37v2.37h-2.37zM412.53 128.36h2.37v2.37h-2.37zM415.40 128.36h2.37v2.37h-2.37zM418.28 128.36h2.37v2.37h-2.37zM444.14 128.36h2.37v2.37h-2.37zM475.76 128.36h2.37v2.37h-2.37zM481.51 128.36h2.37v2.37h-2.37zM484.38 128.36h2.37v2.37h-2.37zM429.77 131.23h2.37v2.37h-2.37zM441.27 131.23h2.37v2.37h-2.37zM458.51 131.23h2.37v2.37h-2.37zM464.26 131.23h2.37v2.37h-2.37zM470.01 131.23h2.37v2.37h-2.37zM484.38 131.23h2.37v2.37h-2.37zM421.15 134.09h2.37v2.37h-2.37zM429.77 134.09h2.37v2.37h-2.37zM432.65 134.09h2.37v2.37h-2.37zM441.27 134.09h2.37v2.37h-2.37zM449.89 134.09h2.37v2.37h-2.37zM458.51 134.09h2.37v2.37h-2.37zM470.01 134.09h2.37v2.37h-2.37zM487.25 134.09h2.37v2.37h-2.37zM424.02 136.96h2.37v2.37h-2.37zM426.90 136.96h2.37v2.37h-2.37zM432.65 136.96h2.37v2.37h-2.37zM467.14 136.96h2.37v2.37h-2.37zM455.64 139.83h2.37v2.37h-2.37zM470.01 139.83h2.37v2.37h-2.37zM481.51 139.83h2.37v2.37h-2.37zM426.90 142.70h2.37v2.37h-2.37zM432.65 142.70h2.37v2.37h-2.37zM438.39 142.70h2.37v2.37h-2.37zM441.27 142.70h2.37v2.37h-2.37zM452.76 142.70h2.37v2.37h-2.37zM455.64 142.70h2.37v2.37h-2.37zM481.51 142.70h2.37v2.37h-2.37zM432.65 145.57h2.37v2.37h-2.37zM435.52 145.57h2.37v2.37h-2.37zM441.27 145.57h2.37v2.37h-2.37zM467.14 145.57h2.37v2.37h-2.37zM470.01 145.57h2.37v2.37h-2.37zM481.51 145.57h2.37v2.37h-2.37zM421.15 148.43h2.37v2.37h-2.37zM424.02 148.43h2.37v2.37h-2.37zM426.90 148.43h2.37v2.37h-2.37zM429.77 148.43h2.37v2.37h-2.37zM432.65 148.43h2.37v2.37h-2.37zM435.52 148.43h2.37v2.37h-2.37zM441.27 148.43h2.37v2.37h-2.37zM464.26 148.43h2.37v2.37h-2.37zM481.51 148.43h2.37v2.37h-2.37zM487.25 148.43h2.37v2.37h-2.37zM490.13 148.43h2.37v2.37h-2.37zM424.02 151.30h2.37v2.37h-2.37zM435.52 151.30h2.37v2.37h-2.37zM438.39 151.30h2.37v2.37h-2.37zM441.27 151.30h2.37v2.37h-2.37zM444.14 151.30h2.37v2.37h-2.37zM447.02 151.30h2.37v2.37h-2.37zM455.64 151.30h2.37v2.37h-2.37zM464.26 151.30h2.37v2.37h-2.37zM467.14 151.30h2.37v2.37h-2.37zM470.01 151.30h2.37v2.37h-2.37zM487.25 151.30h2.37v2.37h-2.37zM435.52 154.17h2.37v2.37h-2.37zM444.14 154.17h2.37v2.37h-2.37zM458.51 154.17h2.37v2.37h-2.37zM493.00 154.17h2.37v2.37h-2.37zM458.51 157.04h2.37v2.37h-2.37zM461.39 157.04h2.37v2.37h-2.37zM467.14 157.04h2.37v2.37h-2.37zM487.25 157.04h2.37v2.37h-2.37zM426.90 159.91h2.37v2.37h-2.37zM429.77 159.91h2.37v2.37h-2.37zM435.52 159.91h2.37v2.37h-2.37zM478.63 159.91h2.37v2.37h-2.37zM487.25 159.91h2.37v2.37h-2.37zM424.02 162.77h2.37v2.37h-2.37zM432.65 162.77h2.37v2.37h-2.37zM438.39 162.77h2.37v2.37h-2.37zM444.14 162.77h2.37v2.37h-2.37zM464.26 162.77h2.37v2.37h-2.37zM484.38 162.77h2.37v2.37h-2.37zM487.25 162.77h2.37v2.37h-2.37zM424.02 165.64h2.37v2.37h-2.37zM426.90 165.64h2.37v2.37h-2.37zM429.77 165.64h2.37v2.37h-2.37zM438.39 165.64h2.37v2.37h-2.37zM444.14 165.64h2.37v2.37h-2.37zM481.51 165.64h2.37v2.37h-2.37zM490.13 165.64h2.37v2.37h-2.37zM424.02 168.51h2.37v2.37h-2.37zM429.77 168.51h2.37v2.37h-2.37zM432.65 168.51h2.37v2.37h-2.37zM438.39 168.51h2.37v2.37h-2.37zM441.27 168.51h2.37v2.37h-2.37zM444.14 168.51h2.37v2.37h-2.37zM421.15 171.38h2.37v2.37h-2.37zM429.77 171.38h2.37v2.37h-2.37zM435.52 171.38h2.37v2.37h-2.37zM441.27 171.38h2.37v2.37h-2.37zM452.76 171.38h2.37v2.37h-2.37zM461.39 171.38h2.37v2.37h-2.37zM493.00 171.38h2.37v2.37h-2.37zM421.15 174.25h2.37v2.37h-2.37zM424.02 174.25h2.37v2.37h-2.37zM429.77 174.25h2.37v2.37h-2.37zM432.65 174.25h2.37v2.37h-2.37zM444.14 174.25h2.37v2.37h-2.37zM461.39 174.25h2.37v2.37h-2.37zM481.51 174.25h2.37v2.37h-2.37zM484.38 174.25h2.37v2.37h-2.37zM493.00 174.25h2.37v2.37h-2.37zM438.39 177.11h2.37v2.37h-2.37zM464.26 177.11h2.37v2.37h-2.37zM470.01 177.11h2.37v2.37h-2.37zM481.51 177.11h2.37v2.37h-2.37zM484.38 177.11h2.37v2.37h-2.37zM487.25 177.11h2.37v2.37h-2.37zM490.13 177.11h2.37v2.37h-2.37zM493.00 177.11h2.37v2.37h-2.37zM424.02 179.98h2.37v2.37h-2.37zM435.52 179.98h2.37v2.37h-2.37zM438.39 179.98h2.37v2.37h-2.37zM441.27 179.98h2.37v2.37h-2.37zM447.02 179.98h2.37v2.37h-2.37zM449.89 179.98h2.37v2.37h-2.37zM472.88 179.98h2.37v2.37h-2.37z" fill="#dc3639"/>
<path d="M343.55 179.98h2.37v2.37h-2.37z" fill="#da2c30"/>
<path d="M426.90 39.45h2.37v2.37h-2.37zM441.27 39.45h2.37v2.37h-2.37zM481.51 39.45h2.37v2.37h-2.37zM484.38 39.45h2.37v2.37h-2.37zM426.90 42.32h2.37v2.37h-2.37zM429.77 42.32h2.37v2.37h-2.37zM435.52 42.32h2.37v2.37h-2.37zM441.27 42.32h2.37v2.37h-2.37zM444.14 42.32h2.37v2.37h-2.37zM424.02 48.05h2.37v2.37h-2.37zM432.65 48.05h2.37v2.37h-2.37zM415.40 50.92h2.37v2.37h-2.37zM418.28 50.92h2.37v2.37h-2.37zM421.15 50.92h2.37v2.37h-2.37zM424.02 50.92h2.37v2.37h-2.37zM426.90 50.92h2.37v2.37h-2.37zM435.52 50.92h2.37v2.37h-2.37zM438.39 50.92h2.37v2.37h-2.37zM467.14 50.92h2.37v2.37h-2.37zM464.26 53.79h2.37v2.37h-2.37zM447.02 56.66h2.37v2.37h-2.37zM412.53 59.53h2.37v2.37h-2.37zM415.40 59.53h2.37v2.37h-2.37zM418.28 59.53h2.37v2.37h-2.37zM424.02 59.53h2.37v2.37h-2.37zM426.90 59.53h2.37v2.37h-2.37zM438.39 62.39h2.37v2.37h-2.37zM438.39 65.26h2.37v2.37h-2.37zM470.01 68.13h2.37v2.37h-2.37zM467.14 71.00h2.37v2.37h-2.37zM470.01 71.00h2.37v2.37h-2.37zM449.89 76.73h2.37v2.37h-2.37zM464.26 82.47h2.37v2.37h-2.37zM421.15 85.34h2.37v2.37h-2.37zM472.88 85.34h2.37v2.37h-2.37zM426.90 88.21h2.37v2.37h-2.37zM438.39 88.21h2.37v2.37h-2.37zM467.14 91.07h2.37v2.37h-2.37zM470.01 91.07h2.37v2.37h-2.37zM487.25 91.07h2.37v2.37h-2.37zM487.25 93.94h2.37v2.37h-2.37zM490.13 93.94h2.37v2.37h-2.37zM426.90 96.81h2.37v2.37h-2.37zM444.14 96.81h2.37v2.37h-2.37zM481.51 96.81h2.37v2.37h-2.37zM487.25 96.81h2.37v2.37h-2.37zM490.13 96.81h2.37v2.37h-2.37zM495.88 96.81h2.37v2.37h-2.37zM461.39 99.68h2.37v2.37h-2.37zM461.39 102.55h2.37v2.37h-2.37zM421.15 105.41h2.37v2.37h-2.37zM458.51 105.41h2.37v2.37h-2.37zM490.13 108.28h2.37v2.37h-2.37zM421.15 111.15h2.37v2.37h-2.37zM424.02 111.15h2.37v2.37h-2.37zM470.01 111.15h2.37v2.37h-2.37zM490.13 111.15h2.37v2.37h-2.37zM424.02 114.02h2.37v2.37h-2.37zM421.15 116.89h2.37v2.37h-2.37zM495.88 116.89h2.37v2.37h-2.37zM464.26 119.75h2.37v2.37h-2.37zM467.14 119.75h2.37v2.37h-2.37zM472.88 125.49h2.37v2.37h-2.37zM490.13 125.49h2.37v2.37h-2.37zM438.39 128.36h2.37v2.37h-2.37zM432.65 131.23h2.37v2.37h-2.37zM461.39 131.23h2.37v2.37h-2.37zM424.02 134.09h2.37v2.37h-2.37zM426.90 134.09h2.37v2.37h-2.37zM452.76 139.83h2.37v2.37h-2.37zM464.26 145.57h2.37v2.37h-2.37zM481.51 159.91h2.37v2.37h-2.37zM484.38 159.91h2.37v2.37h-2.37zM426.90 162.77h2.37v2.37h-2.37zM421.15 165.64h2.37v2.37h-2.37zM432.65 165.64h2.37v2.37h-2.37zM435.52 165.64h2.37v2.37h-2.37zM441.27 165.64h2.37v2.37h-2.37zM447.02 165.64h2.37v2.37h-2.37zM435.52 168.51h2.37v2.37h-2.37zM426.90 171.38h2.37v2.37h-2.37zM472.88 174.25h2.37v2.37h-2.37zM490.13 174.25h2.37v2.37h-2.37zM495.88 177.11h2.37v2.37h-2.37zM421.15 179.98h2.37v2.37h-2.37z" fill="#d61418"/>
</g>
<g filter="url(#bl)">
<rect x="343.3" y="234.3" width="68.98" height="143.10" fill="#e8c8dc"/>
<rect x="412.28" y="234.3" width="86.22" height="143.10" fill="#564bd0"/>
<path d="M343.55 234.55h2.37v2.36h-2.37zM349.30 234.55h2.37v2.36h-2.37zM383.79 234.55h2.37v2.36h-2.37zM386.66 234.55h2.37v2.36h-2.37zM389.54 234.55h2.37v2.36h-2.37zM392.41 234.55h2.37v2.36h-2.37zM395.28 234.55h2.37v2.36h-2.37zM398.16 234.55h2.37v2.36h-2.37zM412.53 234.55h2.37v2.36h-2.37zM415.40 234.55h2.37v2.36h-2.37zM418.28 234.55h2.37v2.36h-2.37zM421.15 234.55h2.37v2.36h-2.37zM424.02 234.55h2.37v2.36h-2.37zM426.90 234.55h2.37v2.36h-2.37zM429.77 234.55h2.37v2.36h-2.37zM432.65 234.55h2.37v2.36h-2.37zM435.52 234.55h2.37v2.36h-2.37zM438.39 234.55h2.37v2.36h-2.37zM441.27 234.55h2.37v2.36h-2.37zM444.14 234.55h2.37v2.36h-2.37zM447.02 234.55h2.37v2.36h-2.37zM449.89 234.55h2.37v2.36h-2.37zM452.76 234.55h2.37v2.36h-2.37zM455.64 234.55h2.37v2.36h-2.37zM458.51 234.55h2.37v2.36h-2.37zM461.39 234.55h2.37v2.36h-2.37zM464.26 234.55h2.37v2.36h-2.37zM467.14 234.55h2.37v2.36h-2.37zM470.01 234.55h2.37v2.36h-2.37zM472.88 234.55h2.37v2.36h-2.37zM475.76 234.55h2.37v2.36h-2.37zM478.63 234.55h2.37v2.36h-2.37zM481.51 234.55h2.37v2.36h-2.37zM484.38 234.55h2.37v2.36h-2.37zM487.25 234.55h2.37v2.36h-2.37zM490.13 234.55h2.37v2.36h-2.37zM493.00 234.55h2.37v2.36h-2.37zM495.88 234.55h2.37v2.36h-2.37zM349.30 237.41h2.37v2.36h-2.37zM352.17 237.41h2.37v2.36h-2.37zM357.92 237.41h2.37v2.36h-2.37zM372.29 237.41h2.37v2.36h-2.37zM375.16 237.41h2.37v2.36h-2.37zM418.28 237.41h2.37v2.36h-2.37zM421.15 237.41h2.37v2.36h-2.37zM424.02 237.41h2.37v2.36h-2.37zM426.90 237.41h2.37v2.36h-2.37zM429.77 237.41h2.37v2.36h-2.37zM432.65 237.41h2.37v2.36h-2.37zM444.14 237.41h2.37v2.36h-2.37zM455.64 237.41h2.37v2.36h-2.37zM458.51 237.41h2.37v2.36h-2.37zM464.26 237.41h2.37v2.36h-2.37zM467.14 237.41h2.37v2.36h-2.37zM470.01 237.41h2.37v2.36h-2.37zM386.66 240.27h2.37v2.36h-2.37zM389.54 240.27h2.37v2.36h-2.37zM421.15 240.27h2.37v2.36h-2.37zM426.90 240.27h2.37v2.36h-2.37zM432.65 240.27h2.37v2.36h-2.37zM435.52 240.27h2.37v2.36h-2.37zM447.02 240.27h2.37v2.36h-2.37zM449.89 240.27h2.37v2.36h-2.37zM452.76 240.27h2.37v2.36h-2.37zM455.64 240.27h2.37v2.36h-2.37zM458.51 240.27h2.37v2.36h-2.37zM461.39 240.27h2.37v2.36h-2.37zM464.26 240.27h2.37v2.36h-2.37zM467.14 240.27h2.37v2.36h-2.37zM349.30 243.14h2.37v2.36h-2.37zM360.79 243.14h2.37v2.36h-2.37zM372.29 243.14h2.37v2.36h-2.37zM375.16 243.14h2.37v2.36h-2.37zM421.15 243.14h2.37v2.36h-2.37zM426.90 243.14h2.37v2.36h-2.37zM432.65 243.14h2.37v2.36h-2.37zM449.89 243.14h2.37v2.36h-2.37zM455.64 243.14h2.37v2.36h-2.37zM464.26 243.14h2.37v2.36h-2.37zM467.14 243.14h2.37v2.36h-2.37zM487.25 243.14h2.37v2.36h-2.37zM490.13 243.14h2.37v2.36h-2.37zM493.00 243.14h2.37v2.36h-2.37zM495.88 243.14h2.37v2.36h-2.37zM352.17 246.00h2.37v2.36h-2.37zM357.92 246.00h2.37v2.36h-2.37zM375.16 246.00h2.37v2.36h-2.37zM426.90 246.00h2.37v2.36h-2.37zM432.65 246.00h2.37v2.36h-2.37zM435.52 246.00h2.37v2.36h-2.37zM449.89 246.00h2.37v2.36h-2.37zM455.64 246.00h2.37v2.36h-2.37zM461.39 246.00h2.37v2.36h-2.37zM467.14 246.00h2.37v2.36h-2.37zM470.01 246.00h2.37v2.36h-2.37zM487.25 246.00h2.37v2.36h-2.37zM490.13 246.00h2.37v2.36h-2.37zM493.00 246.00h2.37v2.36h-2.37zM495.88 246.00h2.37v2.36h-2.37zM349.30 248.86h2.37v2.36h-2.37zM352.17 248.86h2.37v2.36h-2.37zM355.05 248.86h2.37v2.36h-2.37zM372.29 248.86h2.37v2.36h-2.37zM375.16 248.86h2.37v2.36h-2.37zM386.66 248.86h2.37v2.36h-2.37zM392.41 248.86h2.37v2.36h-2.37zM412.53 248.86h2.37v2.36h-2.37zM415.40 248.86h2.37v2.36h-2.37zM418.28 248.86h2.37v2.36h-2.37zM421.15 248.86h2.37v2.36h-2.37zM424.02 248.86h2.37v2.36h-2.37zM426.90 248.86h2.37v2.36h-2.37zM432.65 248.86h2.37v2.36h-2.37zM435.52 248.86h2.37v2.36h-2.37zM438.39 248.86h2.37v2.36h-2.37zM447.02 248.86h2.37v2.36h-2.37zM449.89 248.86h2.37v2.36h-2.37zM455.64 248.86h2.37v2.36h-2.37zM458.51 248.86h2.37v2.36h-2.37zM461.39 248.86h2.37v2.36h-2.37zM487.25 248.86h2.37v2.36h-2.37zM490.13 248.86h2.37v2.36h-2.37zM495.88 248.86h2.37v2.36h-2.37zM369.42 251.72h2.37v2.36h-2.37zM372.29 251.72h2.37v2.36h-2.37zM386.66 251.72h2.37v2.36h-2.37zM424.02 251.72h2.37v2.36h-2.37zM426.90 251.72h2.37v2.36h-2.37zM429.77 251.72h2.37v2.36h-2.37zM432.65 251.72h2.37v2.36h-2.37zM438.39 251.72h2.37v2.36h-2.37zM449.89 251.72h2.37v2.36h-2.37zM452.76 251.72h2.37v2.36h-2.37zM455.64 251.72h2.37v2.36h-2.37zM464.26 251.72h2.37v2.36h-2.37zM487.25 251.72h2.37v2.36h-2.37zM490.13 251.72h2.37v2.36h-2.37zM343.55 254.58h2.37v2.36h-2.37zM386.66 254.58h2.37v2.36h-2.37zM392.41 254.58h2.37v2.36h-2.37zM432.65 254.58h2.37v2.36h-2.37zM449.89 254.58h2.37v2.36h-2.37zM452.76 254.58h2.37v2.36h-2.37zM455.64 254.58h2.37v2.36h-2.37zM458.51 254.58h2.37v2.36h-2.37zM461.39 254.58h2.37v2.36h-2.37zM464.26 254.58h2.37v2.36h-2.37zM475.76 254.58h2.37v2.36h-2.37zM487.25 254.58h2.37v2.36h-2.37zM375.16 257.45h2.37v2.36h-2.37zM378.04 257.45h2.37v2.36h-2.37zM421.15 257.45h2.37v2.36h-2.37zM432.65 257.45h2.37v2.36h-2.37zM449.89 257.45h2.37v2.36h-2.37zM452.76 257.45h2.37v2.36h-2.37zM455.64 257.45h2.37v2.36h-2.37zM458.51 257.45h2.37v2.36h-2.37zM464.26 257.45h2.37v2.36h-2.37zM467.14 257.45h2.37v2.36h-2.37zM470.01 257.45h2.37v2.36h-2.37zM472.88 257.45h2.37v2.36h-2.37zM481.51 257.45h2.37v2.36h-2.37zM484.38 257.45h2.37v2.36h-2.37zM490.13 257.45h2.37v2.36h-2.37zM357.92 260.31h2.37v2.36h-2.37zM372.29 260.31h2.37v2.36h-2.37zM375.16 260.31h2.37v2.36h-2.37zM378.04 260.31h2.37v2.36h-2.37zM389.54 260.31h2.37v2.36h-2.37zM412.53 260.31h2.37v2.36h-2.37zM421.15 260.31h2.37v2.36h-2.37zM424.02 260.31h2.37v2.36h-2.37zM426.90 260.31h2.37v2.36h-2.37zM429.77 260.31h2.37v2.36h-2.37zM432.65 260.31h2.37v2.36h-2.37zM452.76 260.31h2.37v2.36h-2.37zM455.64 260.31h2.37v2.36h-2.37zM458.51 260.31h2.37v2.36h-2.37zM461.39 260.31h2.37v2.36h-2.37zM464.26 260.31h2.37v2.36h-2.37zM467.14 260.31h2.37v2.36h-2.37zM470.01 260.31h2.37v2.36h-2.37zM478.63 260.31h2.37v2.36h-2.37zM481.51 260.31h2.37v2.36h-2.37zM484.38 260.31h2.37v2.36h-2.37zM487.25 260.31h2.37v2.36h-2.37zM490.13 260.31h2.37v2.36h-2.37zM343.55 263.17h2.37v2.36h-2.37zM389.54 263.17h2.37v2.36h-2.37zM395.28 263.17h2.37v2.36h-2.37zM426.90 263.17h2.37v2.36h-2.37zM438.39 263.17h2.37v2.36h-2.37zM449.89 263.17h2.37v2.36h-2.37zM461.39 263.17h2.37v2.36h-2.37zM464.26 263.17h2.37v2.36h-2.37zM481.51 263.17h2.37v2.36h-2.37zM484.38 263.17h2.37v2.36h-2.37zM487.25 263.17h2.37v2.36h-2.37zM357.92 266.03h2.37v2.36h-2.37zM360.79 266.03h2.37v2.36h-2.37zM363.67 266.03h2.37v2.36h-2.37zM378.04 266.03h2.37v2.36h-2.37zM380.91 266.03h2.37v2.36h-2.37zM395.28 266.03h2.37v2.36h-2.37zM426.90 266.03h2.37v2.36h-2.37zM435.52 266.03h2.37v2.36h-2.37zM464.26 266.03h2.37v2.36h-2.37zM467.14 266.03h2.37v2.36h-2.37zM487.25 266.03h2.37v2.36h-2.37zM495.88 266.03h2.37v2.36h-2.37zM355.05 268.89h2.37v2.36h-2.37zM360.79 268.89h2.37v2.36h-2.37zM380.91 268.89h2.37v2.36h-2.37zM383.79 268.89h2.37v2.36h-2.37zM386.66 268.89h2.37v2.36h-2.37zM392.41 268.89h2.37v2.36h-2.37zM412.53 268.89h2.37v2.36h-2.37zM415.40 268.89h2.37v2.36h-2.37zM418.28 268.89h2.37v2.36h-2.37zM421.15 268.89h2.37v2.36h-2.37zM426.90 268.89h2.37v2.36h-2.37zM432.65 268.89h2.37v2.36h-2.37zM435.52 268.89h2.37v2.36h-2.37zM438.39 268.89h2.37v2.36h-2.37zM441.27 268.89h2.37v2.36h-2.37zM444.14 268.89h2.37v2.36h-2.37zM461.39 268.89h2.37v2.36h-2.37zM464.26 268.89h2.37v2.36h-2.37zM467.14 268.89h2.37v2.36h-2.37zM470.01 268.89h2.37v2.36h-2.37zM472.88 268.89h2.37v2.36h-2.37zM475.76 268.89h2.37v2.36h-2.37zM478.63 268.89h2.37v2.36h-2.37zM481.51 268.89h2.37v2.36h-2.37zM484.38 268.89h2.37v2.36h-2.37zM487.25 268.89h2.37v2.36h-2.37zM493.00 268.89h2.37v2.36h-2.37zM495.88 268.89h2.37v2.36h-2.37zM386.66 271.76h2.37v2.36h-2.37zM389.54 271.76h2.37v2.36h-2.37zM412.53 271.76h2.37v2.36h-2.37zM415.40 271.76h2.37v2.36h-2.37zM418.28 271.76h2.37v2.36h-2.37zM426.90 271.76h2.37v2.36h-2.37zM429.77 271.76h2.37v2.36h-2.37zM432.65 271.76h2.37v2.36h-2.37zM435.52 271.76h2.37v2.36h-2.37zM438.39 271.76h2.37v2.36h-2.37zM441.27 271.76h2.37v2.36h-2.37zM444.14 271.76h2.37v2.36h-2.37zM447.02 271.76h2.37v2.36h-2.37zM449.89 271.76h2.37v2.36h-2.37zM455.64 271.76h2.37v2.36h-2.37zM458.51 271.76h2.37v2.36h-2.37zM461.39 271.76h2.37v2.36h-2.37zM464.26 271.76h2.37v2.36h-2.37zM467.14 271.76h2.37v2.36h-2.37zM470.01 271.76h2.37v2.36h-2.37zM472.88 271.76h2.37v2.36h-2.37zM475.76 271.76h2.37v2.36h-2.37zM478.63 271.76h2.37v2.36h-2.37zM481.51 271.76h2.37v2.36h-2.37zM490.13 271.76h2.37v2.36h-2.37zM495.88 271.76h2.37v2.36h-2.37zM378.04 274.62h2.37v2.36h-2.37zM426.90 274.62h2.37v2.36h-2.37zM447.02 274.62h2.37v2.36h-2.37zM449.89 274.62h2.37v2.36h-2.37zM452.76 274.62h2.37v2.36h-2.37zM455.64 274.62h2.37v2.36h-2.37zM458.51 274.62h2.37v2.36h-2.37zM461.39 274.62h2.37v2.36h-2.37zM464.26 274.62h2.37v2.36h-2.37zM467.14 274.62h2.37v2.36h-2.37zM343.55 277.48h2.37v2.36h-2.37zM346.42 277.48h2.37v2.36h-2.37zM357.92 277.48h2.37v2.36h-2.37zM369.42 277.48h2.37v2.36h-2.37zM392.41 277.48h2.37v2.36h-2.37zM412.53 277.48h2.37v2.36h-2.37zM415.40 277.48h2.37v2.36h-2.37zM418.28 277.48h2.37v2.36h-2.37zM421.15 277.48h2.37v2.36h-2.37zM424.02 277.48h2.37v2.36h-2.37zM426.90 277.48h2.37v2.36h-2.37zM429.77 277.48h2.37v2.36h-2.37zM432.65 277.48h2.37v2.36h-2.37zM435.52 277.48h2.37v2.36h-2.37zM438.39 277.48h2.37v2.36h-2.37zM441.27 277.48h2.37v2.36h-2.37zM444.14 277.48h2.37v2.36h-2.37zM467.14 277.48h2.37v2.36h-2.37zM470.01 277.48h2.37v2.36h-2.37zM472.88 277.48h2.37v2.36h-2.37zM475.76 277.48h2.37v2.36h-2.37zM478.63 277.48h2.37v2.36h-2.37zM481.51 277.48h2.37v2.36h-2.37zM484.38 277.48h2.37v2.36h-2.37zM487.25 277.48h2.37v2.36h-2.37zM490.13 277.48h2.37v2.36h-2.37zM493.00 277.48h2.37v2.36h-2.37zM495.88 277.48h2.37v2.36h-2.37zM432.65 280.34h2.37v2.36h-2.37zM435.52 280.34h2.37v2.36h-2.37zM438.39 280.34h2.37v2.36h-2.37zM447.02 280.34h2.37v2.36h-2.37zM455.64 280.34h2.37v2.36h-2.37zM461.39 280.34h2.37v2.36h-2.37zM484.38 280.34h2.37v2.36h-2.37zM493.00 280.34h2.37v2.36h-2.37zM386.66 283.20h2.37v2.36h-2.37zM421.15 283.20h2.37v2.36h-2.37zM426.90 283.20h2.37v2.36h-2.37zM432.65 283.20h2.37v2.36h-2.37zM447.02 283.20h2.37v2.36h-2.37zM455.64 283.20h2.37v2.36h-2.37zM467.14 283.20h2.37v2.36h-2.37zM487.25 283.20h2.37v2.36h-2.37zM493.00 283.20h2.37v2.36h-2.37zM346.42 286.07h2.37v2.36h-2.37zM386.66 286.07h2.37v2.36h-2.37zM389.54 286.07h2.37v2.36h-2.37zM421.15 286.07h2.37v2.36h-2.37zM426.90 286.07h2.37v2.36h-2.37zM429.77 286.07h2.37v2.36h-2.37zM432.65 286.07h2.37v2.36h-2.37zM435.52 286.07h2.37v2.36h-2.37zM441.27 286.07h2.37v2.36h-2.37zM444.14 286.07h2.37v2.36h-2.37zM447.02 286.07h2.37v2.36h-2.37zM449.89 286.07h2.37v2.36h-2.37zM452.76 286.07h2.37v2.36h-2.37zM455.64 286.07h2.37v2.36h-2.37zM458.51 286.07h2.37v2.36h-2.37zM461.39 286.07h2.37v2.36h-2.37zM464.26 286.07h2.37v2.36h-2.37zM467.14 286.07h2.37v2.36h-2.37zM470.01 286.07h2.37v2.36h-2.37zM472.88 286.07h2.37v2.36h-2.37zM475.76 286.07h2.37v2.36h-2.37zM487.25 286.07h2.37v2.36h-2.37zM490.13 286.07h2.37v2.36h-2.37zM493.00 286.07h2.37v2.36h-2.37zM495.88 286.07h2.37v2.36h-2.37zM383.79 288.93h2.37v2.36h-2.37zM386.66 288.93h2.37v2.36h-2.37zM415.40 288.93h2.37v2.36h-2.37zM418.28 288.93h2.37v2.36h-2.37zM421.15 288.93h2.37v2.36h-2.37zM424.02 288.93h2.37v2.36h-2.37zM426.90 288.93h2.37v2.36h-2.37zM432.65 288.93h2.37v2.36h-2.37zM435.52 288.93h2.37v2.36h-2.37zM438.39 288.93h2.37v2.36h-2.37zM441.27 288.93h2.37v2.36h-2.37zM444.14 288.93h2.37v2.36h-2.37zM447.02 288.93h2.37v2.36h-2.37zM449.89 288.93h2.37v2.36h-2.37zM455.64 288.93h2.37v2.36h-2.37zM458.51 288.93h2.37v2.36h-2.37zM461.39 288.93h2.37v2.36h-2.37zM464.26 288.93h2.37v2.36h-2.37zM467.14 288.93h2.37v2.36h-2.37zM470.01 288.93h2.37v2.36h-2.37zM472.88 288.93h2.37v2.36h-2.37zM475.76 288.93h2.37v2.36h-2.37zM481.51 288.93h2.37v2.36h-2.37zM484.38 288.93h2.37v2.36h-2.37zM487.25 288.93h2.37v2.36h-2.37zM490.13 288.93h2.37v2.36h-2.37zM495.88 288.93h2.37v2.36h-2.37zM383.79 291.79h2.37v2.36h-2.37zM389.54 291.79h2.37v2.36h-2.37zM401.03 291.79h2.37v2.36h-2.37zM421.15 291.79h2.37v2.36h-2.37zM424.02 291.79h2.37v2.36h-2.37zM432.65 291.79h2.37v2.36h-2.37zM438.39 291.79h2.37v2.36h-2.37zM458.51 291.79h2.37v2.36h-2.37zM464.26 291.79h2.37v2.36h-2.37zM472.88 291.79h2.37v2.36h-2.37zM484.38 291.79h2.37v2.36h-2.37zM487.25 291.79h2.37v2.36h-2.37zM490.13 291.79h2.37v2.36h-2.37zM366.54 294.65h2.37v2.36h-2.37zM383.79 294.65h2.37v2.36h-2.37zM401.03 294.65h2.37v2.36h-2.37zM421.15 294.65h2.37v2.36h-2.37zM432.65 294.65h2.37v2.36h-2.37zM438.39 294.65h2.37v2.36h-2.37zM447.02 294.65h2.37v2.36h-2.37zM449.89 294.65h2.37v2.36h-2.37zM452.76 294.65h2.37v2.36h-2.37zM455.64 294.65h2.37v2.36h-2.37zM458.51 294.65h2.37v2.36h-2.37zM461.39 294.65h2.37v2.36h-2.37zM464.26 294.65h2.37v2.36h-2.37zM467.14 294.65h2.37v2.36h-2.37zM470.01 294.65h2.37v2.36h-2.37zM475.76 294.65h2.37v2.36h-2.37zM481.51 294.65h2.37v2.36h-2.37zM495.88 294.65h2.37v2.36h-2.37zM349.30 297.51h2.37v2.36h-2.37zM369.42 297.51h2.37v2.36h-2.37zM386.66 297.51h2.37v2.36h-2.37zM415.40 297.51h2.37v2.36h-2.37zM418.28 297.51h2.37v2.36h-2.37zM421.15 297.51h2.37v2.36h-2.37zM432.65 297.51h2.37v2.36h-2.37zM438.39 297.51h2.37v2.36h-2.37zM444.14 297.51h2.37v2.36h-2.37zM452.76 297.51h2.37v2.36h-2.37zM475.76 297.51h2.37v2.36h-2.37zM481.51 297.51h2.37v2.36h-2.37zM484.38 297.51h2.37v2.36h-2.37zM349.30 300.38h2.37v2.36h-2.37zM375.16 300.38h2.37v2.36h-2.37zM378.04 300.38h2.37v2.36h-2.37zM412.53 300.38h2.37v2.36h-2.37zM415.40 300.38h2.37v2.36h-2.37zM418.28 300.38h2.37v2.36h-2.37zM421.15 300.38h2.37v2.36h-2.37zM424.02 300.38h2.37v2.36h-2.37zM426.90 300.38h2.37v2.36h-2.37zM429.77 300.38h2.37v2.36h-2.37zM432.65 300.38h2.37v2.36h-2.37zM435.52 300.38h2.37v2.36h-2.37zM438.39 300.38h2.37v2.36h-2.37zM441.27 300.38h2.37v2.36h-2.37zM444.14 300.38h2.37v2.36h-2.37zM447.02 300.38h2.37v2.36h-2.37zM449.89 300.38h2.37v2.36h-2.37zM452.76 300.38h2.37v2.36h-2.37zM455.64 300.38h2.37v2.36h-2.37zM461.39 300.38h2.37v2.36h-2.37zM464.26 300.38h2.37v2.36h-2.37zM467.14 300.38h2.37v2.36h-2.37zM470.01 300.38h2.37v2.36h-2.37zM472.88 300.38h2.37v2.36h-2.37zM475.76 300.38h2.37v2.36h-2.37zM478.63 300.38h2.37v2.36h-2.37zM481.51 300.38h2.37v2.36h-2.37zM484.38 300.38h2.37v2.36h-2.37zM487.25 300.38h2.37v2.36h-2.37zM490.13 300.38h2.37v2.36h-2.37zM493.00 300.38h2.37v2.36h-2.37zM495.88 300.38h2.37v2.36h-2.37zM366.54 303.24h2.37v2.36h-2.37zM452.76 303.24h2.37v2.36h-2.37zM458.51 303.24h2.37v2.36h-2.37zM464.26 303.24h2.37v2.36h-2.37zM467.14 303.24h2.37v2.36h-2.37zM470.01 303.24h2.37v2.36h-2.37zM472.88 303.24h2.37v2.36h-2.37zM484.38 303.24h2.37v2.36h-2.37zM487.25 303.24h2.37v2.36h-2.37zM490.13 303.24h2.37v2.36h-2.37zM493.00 303.24h2.37v2.36h-2.37zM495.88 303.24h2.37v2.36h-2.37zM464.26 306.10h2.37v2.36h-2.37zM467.14 306.10h2.37v2.36h-2.37zM464.26 308.96h2.37v2.36h-2.37zM467.14 308.96h2.37v2.36h-2.37zM401.03 311.82h2.37v2.36h-2.37zM415.40 311.82h2.37v2.36h-2.37zM418.28 311.82h2.37v2.36h-2.37zM426.90 311.82h2.37v2.36h-2.37zM438.39 311.82h2.37v2.36h-2.37zM447.02 311.82h2.37v2.36h-2.37zM449.89 311.82h2.37v2.36h-2.37zM452.76 311.82h2.37v2.36h-2.37zM455.64 311.82h2.37v2.36h-2.37zM458.51 311.82h2.37v2.36h-2.37zM461.39 311.82h2.37v2.36h-2.37zM464.26 311.82h2.37v2.36h-2.37zM467.14 311.82h2.37v2.36h-2.37zM470.01 311.82h2.37v2.36h-2.37zM343.55 314.69h2.37v2.36h-2.37zM363.67 314.69h2.37v2.36h-2.37zM378.04 314.69h2.37v2.36h-2.37zM380.91 314.69h2.37v2.36h-2.37zM415.40 314.69h2.37v2.36h-2.37zM484.38 314.69h2.37v2.36h-2.37zM490.13 314.69h2.37v2.36h-2.37zM346.42 317.55h2.37v2.36h-2.37zM386.66 317.55h2.37v2.36h-2.37zM389.54 317.55h2.37v2.36h-2.37zM412.53 317.55h2.37v2.36h-2.37zM415.40 317.55h2.37v2.36h-2.37zM424.02 317.55h2.37v2.36h-2.37zM426.90 317.55h2.37v2.36h-2.37zM432.65 317.55h2.37v2.36h-2.37zM435.52 317.55h2.37v2.36h-2.37zM438.39 317.55h2.37v2.36h-2.37zM441.27 317.55h2.37v2.36h-2.37zM447.02 317.55h2.37v2.36h-2.37zM452.76 317.55h2.37v2.36h-2.37zM455.64 317.55h2.37v2.36h-2.37zM458.51 317.55h2.37v2.36h-2.37zM461.39 317.55h2.37v2.36h-2.37zM464.26 317.55h2.37v2.36h-2.37zM467.14 317.55h2.37v2.36h-2.37zM470.01 317.55h2.37v2.36h-2.37zM472.88 317.55h2.37v2.36h-2.37zM481.51 317.55h2.37v2.36h-2.37zM484.38 317.55h2.37v2.36h-2.37zM487.25 317.55h2.37v2.36h-2.37zM490.13 317.55h2.37v2.36h-2.37zM495.88 317.55h2.37v2.36h-2.37zM389.54 320.41h2.37v2.36h-2.37zM438.39 320.41h2.37v2.36h-2.37zM441.27 320.41h2.37v2.36h-2.37zM447.02 320.41h2.37v2.36h-2.37zM449.89 320.41h2.37v2.36h-2.37zM452.76 320.41h2.37v2.36h-2.37zM357.92 323.27h2.37v2.36h-2.37zM386.66 323.27h2.37v2.36h-2.37zM415.40 323.27h2.37v2.36h-2.37zM418.28 323.27h2.37v2.36h-2.37zM421.15 323.27h2.37v2.36h-2.37zM424.02 323.27h2.37v2.36h-2.37zM426.90 323.27h2.37v2.36h-2.37zM429.77 323.27h2.37v2.36h-2.37zM432.65 323.27h2.37v2.36h-2.37zM435.52 323.27h2.37v2.36h-2.37zM438.39 323.27h2.37v2.36h-2.37zM441.27 323.27h2.37v2.36h-2.37zM444.14 323.27h2.37v2.36h-2.37zM447.02 323.27h2.37v2.36h-2.37zM452.76 323.27h2.37v2.36h-2.37zM455.64 323.27h2.37v2.36h-2.37zM458.51 323.27h2.37v2.36h-2.37zM461.39 323.27h2.37v2.36h-2.37zM464.26 323.27h2.37v2.36h-2.37zM467.14 323.27h2.37v2.36h-2.37zM470.01 323.27h2.37v2.36h-2.37zM472.88 323.27h2.37v2.36h-2.37zM481.51 323.27h2.37v2.36h-2.37zM484.38 323.27h2.37v2.36h-2.37zM487.25 323.27h2.37v2.36h-2.37zM490.13 323.27h2.37v2.36h-2.37zM493.00 323.27h2.37v2.36h-2.37zM495.88 323.27h2.37v2.36h-2.37zM398.16 326.13h2.37v2.36h-2.37zM432.65 326.13h2.37v2.36h-2.37zM452.76 329.00h2.37v2.36h-2.37zM458.51 329.00h2.37v2.36h-2.37zM346.42 331.86h2.37v2.36h-2.37zM386.66 331.86h2.37v2.36h-2.37zM392.41 331.86h2.37v2.36h-2.37zM421.15 331.86h2.37v2.36h-2.37zM426.90 331.86h2.37v2.36h-2.37zM429.77 331.86h2.37v2.36h-2.37zM432.65 331.86h2.37v2.36h-2.37zM435.52 331.86h2.37v2.36h-2.37zM438.39 331.86h2.37v2.36h-2.37zM441.27 331.86h2.37v2.36h-2.37zM447.02 331.86h2.37v2.36h-2.37zM449.89 331.86h2.37v2.36h-2.37zM452.76 331.86h2.37v2.36h-2.37zM455.64 331.86h2.37v2.36h-2.37zM458.51 331.86h2.37v2.36h-2.37zM461.39 331.86h2.37v2.36h-2.37zM464.26 331.86h2.37v2.36h-2.37zM467.14 331.86h2.37v2.36h-2.37zM470.01 331.86h2.37v2.36h-2.37zM472.88 331.86h2.37v2.36h-2.37zM421.15 334.72h2.37v2.36h-2.37zM426.90 334.72h2.37v2.36h-2.37zM432.65 334.72h2.37v2.36h-2.37zM438.39 334.72h2.37v2.36h-2.37zM481.51 334.72h2.37v2.36h-2.37zM484.38 334.72h2.37v2.36h-2.37zM343.55 337.58h2.37v2.36h-2.37zM432.65 337.58h2.37v2.36h-2.37zM438.39 337.58h2.37v2.36h-2.37zM464.26 337.58h2.37v2.36h-2.37zM467.14 337.58h2.37v2.36h-2.37zM475.76 337.58h2.37v2.36h-2.37zM481.51 337.58h2.37v2.36h-2.37zM484.38 337.58h2.37v2.36h-2.37zM343.55 340.44h2.37v2.36h-2.37zM412.53 340.44h2.37v2.36h-2.37zM418.28 340.44h2.37v2.36h-2.37zM421.15 340.44h2.37v2.36h-2.37zM424.02 340.44h2.37v2.36h-2.37zM426.90 340.44h2.37v2.36h-2.37zM432.65 340.44h2.37v2.36h-2.37zM438.39 340.44h2.37v2.36h-2.37zM441.27 340.44h2.37v2.36h-2.37zM444.14 340.44h2.37v2.36h-2.37zM464.26 340.44h2.37v2.36h-2.37zM467.14 340.44h2.37v2.36h-2.37zM470.01 340.44h2.37v2.36h-2.37zM472.88 340.44h2.37v2.36h-2.37zM475.76 340.44h2.37v2.36h-2.37zM481.51 340.44h2.37v2.36h-2.37zM484.38 340.44h2.37v2.36h-2.37zM490.13 340.44h2.37v2.36h-2.37zM493.00 340.44h2.37v2.36h-2.37zM495.88 340.44h2.37v2.36h-2.37zM412.53 343.31h2.37v2.36h-2.37zM421.15 343.31h2.37v2.36h-2.37zM424.02 343.31h2.37v2.36h-2.37zM426.90 343.31h2.37v2.36h-2.37zM429.77 343.31h2.37v2.36h-2.37zM432.65 343.31h2.37v2.36h-2.37zM438.39 343.31h2.37v2.36h-2.37zM461.39 343.31h2.37v2.36h-2.37zM464.26 343.31h2.37v2.36h-2.37zM481.51 343.31h2.37v2.36h-2.37zM493.00 343.31h2.37v2.36h-2.37zM495.88 343.31h2.37v2.36h-2.37zM389.54 346.17h2.37v2.36h-2.37zM412.53 346.17h2.37v2.36h-2.37zM415.40 346.17h2.37v2.36h-2.37zM424.02 346.17h2.37v2.36h-2.37zM426.90 346.17h2.37v2.36h-2.37zM429.77 346.17h2.37v2.36h-2.37zM432.65 346.17h2.37v2.36h-2.37zM435.52 346.17h2.37v2.36h-2.37zM438.39 346.17h2.37v2.36h-2.37zM441.27 346.17h2.37v2.36h-2.37zM461.39 346.17h2.37v2.36h-2.37zM464.26 346.17h2.37v2.36h-2.37zM467.14 346.17h2.37v2.36h-2.37zM475.76 346.17h2.37v2.36h-2.37zM478.63 346.17h2.37v2.36h-2.37zM481.51 346.17h2.37v2.36h-2.37zM484.38 346.17h2.37v2.36h-2.37zM493.00 346.17h2.37v2.36h-2.37zM495.88 346.17h2.37v2.36h-2.37zM424.02 349.03h2.37v2.36h-2.37zM432.65 349.03h2.37v2.36h-2.37zM435.52 349.03h2.37v2.36h-2.37zM438.39 349.03h2.37v2.36h-2.37zM452.76 349.03h2.37v2.36h-2.37zM467.14 349.03h2.37v2.36h-2.37zM478.63 349.03h2.37v2.36h-2.37zM484.38 349.03h2.37v2.36h-2.37zM467.14 351.89h2.37v2.36h-2.37zM383.79 354.75h2.37v2.36h-2.37zM389.54 354.75h2.37v2.36h-2.37zM458.51 354.75h2.37v2.36h-2.37zM461.39 354.75h2.37v2.36h-2.37zM464.26 354.75h2.37v2.36h-2.37zM481.51 354.75h2.37v2.36h-2.37zM487.25 354.75h2.37v2.36h-2.37zM398.16 357.62h2.37v2.36h-2.37zM441.27 357.62h2.37v2.36h-2.37zM458.51 357.62h2.37v2.36h-2.37zM464.26 357.62h2.37v2.36h-2.37zM467.14 357.62h2.37v2.36h-2.37zM470.01 357.62h2.37v2.36h-2.37zM343.55 360.48h2.37v2.36h-2.37zM363.67 360.48h2.37v2.36h-2.37zM383.79 360.48h2.37v2.36h-2.37zM421.15 360.48h2.37v2.36h-2.37zM426.90 360.48h2.37v2.36h-2.37zM429.77 360.48h2.37v2.36h-2.37zM435.52 360.48h2.37v2.36h-2.37zM438.39 360.48h2.37v2.36h-2.37zM441.27 360.48h2.37v2.36h-2.37zM444.14 360.48h2.37v2.36h-2.37zM447.02 360.48h2.37v2.36h-2.37zM449.89 360.48h2.37v2.36h-2.37zM452.76 360.48h2.37v2.36h-2.37zM455.64 360.48h2.37v2.36h-2.37zM461.39 360.48h2.37v2.36h-2.37zM464.26 360.48h2.37v2.36h-2.37zM467.14 360.48h2.37v2.36h-2.37zM470.01 360.48h2.37v2.36h-2.37zM495.88 360.48h2.37v2.36h-2.37zM343.55 363.34h2.37v2.36h-2.37zM355.05 363.34h2.37v2.36h-2.37zM378.04 363.34h2.37v2.36h-2.37zM401.03 363.34h2.37v2.36h-2.37zM415.40 363.34h2.37v2.36h-2.37zM418.28 363.34h2.37v2.36h-2.37zM421.15 363.34h2.37v2.36h-2.37zM424.02 363.34h2.37v2.36h-2.37zM426.90 363.34h2.37v2.36h-2.37zM429.77 363.34h2.37v2.36h-2.37zM432.65 363.34h2.37v2.36h-2.37zM435.52 363.34h2.37v2.36h-2.37zM438.39 363.34h2.37v2.36h-2.37zM441.27 363.34h2.37v2.36h-2.37zM444.14 363.34h2.37v2.36h-2.37zM447.02 363.34h2.37v2.36h-2.37zM449.89 363.34h2.37v2.36h-2.37zM452.76 363.34h2.37v2.36h-2.37zM455.64 363.34h2.37v2.36h-2.37zM458.51 363.34h2.37v2.36h-2.37zM461.39 363.34h2.37v2.36h-2.37zM464.26 363.34h2.37v2.36h-2.37zM467.14 363.34h2.37v2.36h-2.37zM470.01 363.34h2.37v2.36h-2.37zM472.88 363.34h2.37v2.36h-2.37zM475.76 363.34h2.37v2.36h-2.37zM478.63 363.34h2.37v2.36h-2.37zM481.51 363.34h2.37v2.36h-2.37zM484.38 363.34h2.37v2.36h-2.37zM487.25 363.34h2.37v2.36h-2.37zM490.13 363.34h2.37v2.36h-2.37zM493.00 363.34h2.37v2.36h-2.37zM495.88 363.34h2.37v2.36h-2.37zM421.15 366.20h2.37v2.36h-2.37zM438.39 366.20h2.37v2.36h-2.37zM461.39 366.20h2.37v2.36h-2.37zM472.88 366.20h2.37v2.36h-2.37zM475.76 366.20h2.37v2.36h-2.37zM481.51 366.20h2.37v2.36h-2.37zM490.13 366.20h2.37v2.36h-2.37zM493.00 366.20h2.37v2.36h-2.37zM495.88 366.20h2.37v2.36h-2.37zM369.42 369.06h2.37v2.36h-2.37zM429.77 369.06h2.37v2.36h-2.37zM432.65 369.06h2.37v2.36h-2.37zM438.39 369.06h2.37v2.36h-2.37zM447.02 369.06h2.37v2.36h-2.37zM452.76 369.06h2.37v2.36h-2.37zM455.64 369.06h2.37v2.36h-2.37zM458.51 369.06h2.37v2.36h-2.37zM461.39 369.06h2.37v2.36h-2.37zM467.14 369.06h2.37v2.36h-2.37zM470.01 369.06h2.37v2.36h-2.37zM475.76 369.06h2.37v2.36h-2.37zM481.51 369.06h2.37v2.36h-2.37zM487.25 369.06h2.37v2.36h-2.37zM495.88 369.06h2.37v2.36h-2.37zM455.64 371.93h2.37v2.36h-2.37zM458.51 371.93h2.37v2.36h-2.37zM475.76 371.93h2.37v2.36h-2.37zM481.51 371.93h2.37v2.36h-2.37zM487.25 371.93h2.37v2.36h-2.37zM495.88 371.93h2.37v2.36h-2.37zM343.55 374.79h2.37v2.36h-2.37zM383.79 374.79h2.37v2.36h-2.37zM412.53 374.79h2.37v2.36h-2.37zM426.90 374.79h2.37v2.36h-2.37zM429.77 374.79h2.37v2.36h-2.37zM432.65 374.79h2.37v2.36h-2.37zM435.52 374.79h2.37v2.36h-2.37zM438.39 374.79h2.37v2.36h-2.37zM441.27 374.79h2.37v2.36h-2.37zM444.14 374.79h2.37v2.36h-2.37zM447.02 374.79h2.37v2.36h-2.37zM449.89 374.79h2.37v2.36h-2.37zM452.76 374.79h2.37v2.36h-2.37zM455.64 374.79h2.37v2.36h-2.37zM458.51 374.79h2.37v2.36h-2.37zM461.39 374.79h2.37v2.36h-2.37zM464.26 374.79h2.37v2.36h-2.37zM467.14 374.79h2.37v2.36h-2.37zM470.01 374.79h2.37v2.36h-2.37zM475.76 374.79h2.37v2.36h-2.37zM487.25 374.79h2.37v2.36h-2.37zM495.88 374.79h2.37v2.36h-2.37z" fill="#261cbe"/>
<path d="M346.42 234.55h2.37v2.36h-2.37zM366.54 234.55h2.37v2.36h-2.37zM380.91 234.55h2.37v2.36h-2.37zM346.42 237.41h2.37v2.36h-2.37zM360.79 237.41h2.37v2.36h-2.37zM355.05 240.27h2.37v2.36h-2.37zM372.29 240.27h2.37v2.36h-2.37zM383.79 240.27h2.37v2.36h-2.37zM392.41 240.27h2.37v2.36h-2.37zM355.05 243.14h2.37v2.36h-2.37zM363.67 243.14h2.37v2.36h-2.37zM366.54 246.00h2.37v2.36h-2.37zM372.29 246.00h2.37v2.36h-2.37zM386.66 246.00h2.37v2.36h-2.37zM392.41 246.00h2.37v2.36h-2.37zM343.55 248.86h2.37v2.36h-2.37zM369.42 248.86h2.37v2.36h-2.37zM355.05 251.72h2.37v2.36h-2.37zM360.79 251.72h2.37v2.36h-2.37zM375.16 251.72h2.37v2.36h-2.37zM392.41 251.72h2.37v2.36h-2.37zM375.16 254.58h2.37v2.36h-2.37zM401.03 254.58h2.37v2.36h-2.37zM372.29 257.45h2.37v2.36h-2.37zM386.66 257.45h2.37v2.36h-2.37zM392.41 257.45h2.37v2.36h-2.37zM343.55 260.31h2.37v2.36h-2.37zM363.67 260.31h2.37v2.36h-2.37zM360.79 263.17h2.37v2.36h-2.37zM386.66 263.17h2.37v2.36h-2.37zM392.41 263.17h2.37v2.36h-2.37zM343.55 266.03h2.37v2.36h-2.37zM383.79 266.03h2.37v2.36h-2.37zM392.41 266.03h2.37v2.36h-2.37zM363.67 268.89h2.37v2.36h-2.37zM395.28 268.89h2.37v2.36h-2.37zM401.03 268.89h2.37v2.36h-2.37zM346.42 271.76h2.37v2.36h-2.37zM383.79 271.76h2.37v2.36h-2.37zM392.41 271.76h2.37v2.36h-2.37zM395.28 271.76h2.37v2.36h-2.37zM401.03 271.76h2.37v2.36h-2.37zM375.16 274.62h2.37v2.36h-2.37zM363.67 277.48h2.37v2.36h-2.37zM403.91 277.48h2.37v2.36h-2.37zM363.67 280.34h2.37v2.36h-2.37zM366.54 280.34h2.37v2.36h-2.37zM349.30 283.20h2.37v2.36h-2.37zM389.54 283.20h2.37v2.36h-2.37zM343.55 286.07h2.37v2.36h-2.37zM357.92 286.07h2.37v2.36h-2.37zM383.79 286.07h2.37v2.36h-2.37zM357.92 288.93h2.37v2.36h-2.37zM366.54 288.93h2.37v2.36h-2.37zM389.54 288.93h2.37v2.36h-2.37zM392.41 288.93h2.37v2.36h-2.37zM392.41 291.79h2.37v2.36h-2.37zM386.66 294.65h2.37v2.36h-2.37zM357.92 297.51h2.37v2.36h-2.37zM366.54 297.51h2.37v2.36h-2.37zM383.79 297.51h2.37v2.36h-2.37zM401.03 297.51h2.37v2.36h-2.37zM346.42 300.38h2.37v2.36h-2.37zM357.92 300.38h2.37v2.36h-2.37zM366.54 300.38h2.37v2.36h-2.37zM401.03 300.38h2.37v2.36h-2.37zM363.67 303.24h2.37v2.36h-2.37zM352.17 311.82h2.37v2.36h-2.37zM363.67 311.82h2.37v2.36h-2.37zM343.55 317.55h2.37v2.36h-2.37zM366.54 317.55h2.37v2.36h-2.37zM386.66 320.41h2.37v2.36h-2.37zM383.79 323.27h2.37v2.36h-2.37zM398.16 323.27h2.37v2.36h-2.37zM343.55 326.13h2.37v2.36h-2.37zM401.03 326.13h2.37v2.36h-2.37zM383.79 331.86h2.37v2.36h-2.37zM386.66 334.72h2.37v2.36h-2.37zM386.66 337.58h2.37v2.36h-2.37zM363.67 340.44h2.37v2.36h-2.37zM386.66 340.44h2.37v2.36h-2.37zM401.03 340.44h2.37v2.36h-2.37zM343.55 343.31h2.37v2.36h-2.37zM357.92 346.17h2.37v2.36h-2.37zM386.66 346.17h2.37v2.36h-2.37zM398.16 346.17h2.37v2.36h-2.37zM406.78 346.17h2.37v2.36h-2.37zM409.65 346.17h2.37v2.36h-2.37zM389.54 351.89h2.37v2.36h-2.37zM398.16 354.75h2.37v2.36h-2.37zM346.42 357.62h2.37v2.36h-2.37zM363.67 357.62h2.37v2.36h-2.37zM383.79 357.62h2.37v2.36h-2.37zM401.03 360.48h2.37v2.36h-2.37zM357.92 363.34h2.37v2.36h-2.37zM363.67 363.34h2.37v2.36h-2.37zM401.03 366.20h2.37v2.36h-2.37zM366.54 369.06h2.37v2.36h-2.37zM346.42 374.79h2.37v2.36h-2.37zM386.66 374.79h2.37v2.36h-2.37z" fill="#382ec3"/>
<path d="M412.53 237.41h2.37v2.36h-2.37zM441.27 237.41h2.37v2.36h-2.37zM447.02 237.41h2.37v2.36h-2.37zM461.39 237.41h2.37v2.36h-2.37zM472.88 237.41h2.37v2.36h-2.37zM478.63 237.41h2.37v2.36h-2.37zM481.51 237.41h2.37v2.36h-2.37zM484.38 237.41h2.37v2.36h-2.37zM490.13 237.41h2.37v2.36h-2.37zM495.88 237.41h2.37v2.36h-2.37zM438.39 240.27h2.37v2.36h-2.37zM444.14 240.27h2.37v2.36h-2.37zM470.01 240.27h2.37v2.36h-2.37zM478.63 240.27h2.37v2.36h-2.37zM481.51 240.27h2.37v2.36h-2.37zM487.25 240.27h2.37v2.36h-2.37zM495.88 240.27h2.37v2.36h-2.37zM412.53 243.14h2.37v2.36h-2.37zM424.02 243.14h2.37v2.36h-2.37zM429.77 243.14h2.37v2.36h-2.37zM438.39 243.14h2.37v2.36h-2.37zM441.27 243.14h2.37v2.36h-2.37zM444.14 243.14h2.37v2.36h-2.37zM452.76 243.14h2.37v2.36h-2.37zM458.51 243.14h2.37v2.36h-2.37zM470.01 243.14h2.37v2.36h-2.37zM472.88 243.14h2.37v2.36h-2.37zM478.63 243.14h2.37v2.36h-2.37zM481.51 243.14h2.37v2.36h-2.37zM484.38 243.14h2.37v2.36h-2.37zM412.53 246.00h2.37v2.36h-2.37zM415.40 246.00h2.37v2.36h-2.37zM421.15 246.00h2.37v2.36h-2.37zM424.02 246.00h2.37v2.36h-2.37zM438.39 246.00h2.37v2.36h-2.37zM444.14 246.00h2.37v2.36h-2.37zM447.02 246.00h2.37v2.36h-2.37zM452.76 246.00h2.37v2.36h-2.37zM472.88 246.00h2.37v2.36h-2.37zM475.76 246.00h2.37v2.36h-2.37zM478.63 246.00h2.37v2.36h-2.37zM481.51 246.00h2.37v2.36h-2.37zM484.38 246.00h2.37v2.36h-2.37zM429.77 248.86h2.37v2.36h-2.37zM441.27 248.86h2.37v2.36h-2.37zM444.14 248.86h2.37v2.36h-2.37zM467.14 248.86h2.37v2.36h-2.37zM472.88 248.86h2.37v2.36h-2.37zM475.76 248.86h2.37v2.36h-2.37zM478.63 248.86h2.37v2.36h-2.37zM481.51 248.86h2.37v2.36h-2.37zM484.38 248.86h2.37v2.36h-2.37zM493.00 248.86h2.37v2.36h-2.37zM412.53 251.72h2.37v2.36h-2.37zM415.40 251.72h2.37v2.36h-2.37zM421.15 251.72h2.37v2.36h-2.37zM441.27 251.72h2.37v2.36h-2.37zM444.14 251.72h2.37v2.36h-2.37zM447.02 251.72h2.37v2.36h-2.37zM472.88 251.72h2.37v2.36h-2.37zM478.63 251.72h2.37v2.36h-2.37zM484.38 251.72h2.37v2.36h-2.37zM493.00 251.72h2.37v2.36h-2.37zM495.88 251.72h2.37v2.36h-2.37zM426.90 254.58h2.37v2.36h-2.37zM429.77 254.58h2.37v2.36h-2.37zM438.39 254.58h2.37v2.36h-2.37zM447.02 254.58h2.37v2.36h-2.37zM467.14 254.58h2.37v2.36h-2.37zM484.38 254.58h2.37v2.36h-2.37zM490.13 254.58h2.37v2.36h-2.37zM493.00 254.58h2.37v2.36h-2.37zM495.88 254.58h2.37v2.36h-2.37zM412.53 257.45h2.37v2.36h-2.37zM418.28 257.45h2.37v2.36h-2.37zM424.02 257.45h2.37v2.36h-2.37zM426.90 257.45h2.37v2.36h-2.37zM438.39 257.45h2.37v2.36h-2.37zM475.76 257.45h2.37v2.36h-2.37zM478.63 257.45h2.37v2.36h-2.37zM495.88 257.45h2.37v2.36h-2.37zM418.28 260.31h2.37v2.36h-2.37zM435.52 260.31h2.37v2.36h-2.37zM438.39 260.31h2.37v2.36h-2.37zM444.14 260.31h2.37v2.36h-2.37zM447.02 260.31h2.37v2.36h-2.37zM449.89 260.31h2.37v2.36h-2.37zM472.88 260.31h2.37v2.36h-2.37zM495.88 260.31h2.37v2.36h-2.37zM412.53 263.17h2.37v2.36h-2.37zM415.40 263.17h2.37v2.36h-2.37zM429.77 263.17h2.37v2.36h-2.37zM435.52 263.17h2.37v2.36h-2.37zM441.27 263.17h2.37v2.36h-2.37zM444.14 263.17h2.37v2.36h-2.37zM447.02 263.17h2.37v2.36h-2.37zM452.76 263.17h2.37v2.36h-2.37zM467.14 263.17h2.37v2.36h-2.37zM470.01 263.17h2.37v2.36h-2.37zM490.13 263.17h2.37v2.36h-2.37zM495.88 263.17h2.37v2.36h-2.37zM424.02 266.03h2.37v2.36h-2.37zM438.39 266.03h2.37v2.36h-2.37zM444.14 266.03h2.37v2.36h-2.37zM447.02 266.03h2.37v2.36h-2.37zM452.76 266.03h2.37v2.36h-2.37zM455.64 266.03h2.37v2.36h-2.37zM461.39 266.03h2.37v2.36h-2.37zM470.01 266.03h2.37v2.36h-2.37zM475.76 266.03h2.37v2.36h-2.37zM478.63 266.03h2.37v2.36h-2.37zM484.38 266.03h2.37v2.36h-2.37zM493.00 266.03h2.37v2.36h-2.37zM424.02 268.89h2.37v2.36h-2.37zM447.02 268.89h2.37v2.36h-2.37zM452.76 268.89h2.37v2.36h-2.37zM455.64 268.89h2.37v2.36h-2.37zM458.51 268.89h2.37v2.36h-2.37zM490.13 268.89h2.37v2.36h-2.37zM421.15 271.76h2.37v2.36h-2.37zM452.76 271.76h2.37v2.36h-2.37zM484.38 271.76h2.37v2.36h-2.37zM487.25 271.76h2.37v2.36h-2.37zM493.00 271.76h2.37v2.36h-2.37zM418.28 274.62h2.37v2.36h-2.37zM444.14 274.62h2.37v2.36h-2.37zM470.01 274.62h2.37v2.36h-2.37zM447.02 277.48h2.37v2.36h-2.37zM415.40 280.34h2.37v2.36h-2.37zM418.28 280.34h2.37v2.36h-2.37zM421.15 280.34h2.37v2.36h-2.37zM424.02 280.34h2.37v2.36h-2.37zM426.90 280.34h2.37v2.36h-2.37zM441.27 280.34h2.37v2.36h-2.37zM464.26 280.34h2.37v2.36h-2.37zM478.63 280.34h2.37v2.36h-2.37zM481.51 280.34h2.37v2.36h-2.37zM495.88 280.34h2.37v2.36h-2.37zM424.02 283.20h2.37v2.36h-2.37zM444.14 283.20h2.37v2.36h-2.37zM475.76 283.20h2.37v2.36h-2.37zM495.88 283.20h2.37v2.36h-2.37zM412.53 286.07h2.37v2.36h-2.37zM415.40 286.07h2.37v2.36h-2.37zM412.53 288.93h2.37v2.36h-2.37zM452.76 288.93h2.37v2.36h-2.37zM478.63 288.93h2.37v2.36h-2.37zM412.53 291.79h2.37v2.36h-2.37zM415.40 291.79h2.37v2.36h-2.37zM418.28 291.79h2.37v2.36h-2.37zM426.90 291.79h2.37v2.36h-2.37zM455.64 291.79h2.37v2.36h-2.37zM461.39 291.79h2.37v2.36h-2.37zM467.14 291.79h2.37v2.36h-2.37zM470.01 291.79h2.37v2.36h-2.37zM475.76 291.79h2.37v2.36h-2.37zM481.51 291.79h2.37v2.36h-2.37zM493.00 291.79h2.37v2.36h-2.37zM412.53 294.65h2.37v2.36h-2.37zM415.40 294.65h2.37v2.36h-2.37zM444.14 294.65h2.37v2.36h-2.37zM493.00 294.65h2.37v2.36h-2.37zM412.53 297.51h2.37v2.36h-2.37zM424.02 297.51h2.37v2.36h-2.37zM426.90 297.51h2.37v2.36h-2.37zM429.77 297.51h2.37v2.36h-2.37zM435.52 297.51h2.37v2.36h-2.37zM441.27 297.51h2.37v2.36h-2.37zM447.02 297.51h2.37v2.36h-2.37zM455.64 297.51h2.37v2.36h-2.37zM478.63 297.51h2.37v2.36h-2.37zM487.25 297.51h2.37v2.36h-2.37zM495.88 297.51h2.37v2.36h-2.37zM412.53 303.24h2.37v2.36h-2.37zM426.90 303.24h2.37v2.36h-2.37zM429.77 303.24h2.37v2.36h-2.37zM438.39 303.24h2.37v2.36h-2.37zM441.27 303.24h2.37v2.36h-2.37zM444.14 303.24h2.37v2.36h-2.37zM447.02 303.24h2.37v2.36h-2.37zM455.64 303.24h2.37v2.36h-2.37zM461.39 303.24h2.37v2.36h-2.37zM478.63 303.24h2.37v2.36h-2.37zM426.90 306.10h2.37v2.36h-2.37zM461.39 306.10h2.37v2.36h-2.37zM470.01 306.10h2.37v2.36h-2.37zM415.40 308.96h2.37v2.36h-2.37zM426.90 308.96h2.37v2.36h-2.37zM432.65 308.96h2.37v2.36h-2.37zM435.52 308.96h2.37v2.36h-2.37zM438.39 308.96h2.37v2.36h-2.37zM441.27 308.96h2.37v2.36h-2.37zM447.02 308.96h2.37v2.36h-2.37zM470.01 308.96h2.37v2.36h-2.37zM412.53 311.82h2.37v2.36h-2.37zM421.15 311.82h2.37v2.36h-2.37zM424.02 311.82h2.37v2.36h-2.37zM432.65 311.82h2.37v2.36h-2.37zM435.52 311.82h2.37v2.36h-2.37zM441.27 311.82h2.37v2.36h-2.37zM444.14 311.82h2.37v2.36h-2.37zM475.76 311.82h2.37v2.36h-2.37zM481.51 311.82h2.37v2.36h-2.37zM487.25 311.82h2.37v2.36h-2.37zM495.88 311.82h2.37v2.36h-2.37zM412.53 314.69h2.37v2.36h-2.37zM429.77 314.69h2.37v2.36h-2.37zM444.14 314.69h2.37v2.36h-2.37zM467.14 314.69h2.37v2.36h-2.37zM472.88 314.69h2.37v2.36h-2.37zM478.63 314.69h2.37v2.36h-2.37zM487.25 314.69h2.37v2.36h-2.37zM495.88 314.69h2.37v2.36h-2.37zM418.28 317.55h2.37v2.36h-2.37zM421.15 317.55h2.37v2.36h-2.37zM475.76 317.55h2.37v2.36h-2.37zM418.28 320.41h2.37v2.36h-2.37zM421.15 320.41h2.37v2.36h-2.37zM435.52 320.41h2.37v2.36h-2.37zM444.14 320.41h2.37v2.36h-2.37zM455.64 320.41h2.37v2.36h-2.37zM461.39 320.41h2.37v2.36h-2.37zM484.38 320.41h2.37v2.36h-2.37zM487.25 320.41h2.37v2.36h-2.37zM490.13 320.41h2.37v2.36h-2.37zM493.00 320.41h2.37v2.36h-2.37zM495.88 320.41h2.37v2.36h-2.37zM412.53 323.27h2.37v2.36h-2.37zM475.76 323.27h2.37v2.36h-2.37zM421.15 326.13h2.37v2.36h-2.37zM438.39 326.13h2.37v2.36h-2.37zM447.02 326.13h2.37v2.36h-2.37zM449.89 326.13h2.37v2.36h-2.37zM475.76 326.13h2.37v2.36h-2.37zM478.63 326.13h2.37v2.36h-2.37zM481.51 326.13h2.37v2.36h-2.37zM487.25 326.13h2.37v2.36h-2.37zM424.02 329.00h2.37v2.36h-2.37zM429.77 329.00h2.37v2.36h-2.37zM444.14 329.00h2.37v2.36h-2.37zM447.02 329.00h2.37v2.36h-2.37zM449.89 329.00h2.37v2.36h-2.37zM461.39 329.00h2.37v2.36h-2.37zM467.14 329.00h2.37v2.36h-2.37zM412.53 331.86h2.37v2.36h-2.37zM418.28 331.86h2.37v2.36h-2.37zM444.14 331.86h2.37v2.36h-2.37zM475.76 331.86h2.37v2.36h-2.37zM481.51 331.86h2.37v2.36h-2.37zM487.25 331.86h2.37v2.36h-2.37zM490.13 331.86h2.37v2.36h-2.37zM495.88 331.86h2.37v2.36h-2.37zM418.28 334.72h2.37v2.36h-2.37zM444.14 334.72h2.37v2.36h-2.37zM449.89 334.72h2.37v2.36h-2.37zM458.51 334.72h2.37v2.36h-2.37zM467.14 334.72h2.37v2.36h-2.37zM490.13 334.72h2.37v2.36h-2.37zM493.00 334.72h2.37v2.36h-2.37zM495.88 334.72h2.37v2.36h-2.37zM421.15 337.58h2.37v2.36h-2.37zM426.90 337.58h2.37v2.36h-2.37zM435.52 337.58h2.37v2.36h-2.37zM441.27 337.58h2.37v2.36h-2.37zM444.14 337.58h2.37v2.36h-2.37zM447.02 337.58h2.37v2.36h-2.37zM470.01 337.58h2.37v2.36h-2.37zM478.63 337.58h2.37v2.36h-2.37zM487.25 337.58h2.37v2.36h-2.37zM495.88 337.58h2.37v2.36h-2.37zM415.40 340.44h2.37v2.36h-2.37zM429.77 340.44h2.37v2.36h-2.37zM447.02 340.44h2.37v2.36h-2.37zM449.89 340.44h2.37v2.36h-2.37zM458.51 340.44h2.37v2.36h-2.37zM478.63 340.44h2.37v2.36h-2.37zM444.14 343.31h2.37v2.36h-2.37zM447.02 343.31h2.37v2.36h-2.37zM449.89 343.31h2.37v2.36h-2.37zM458.51 343.31h2.37v2.36h-2.37zM478.63 343.31h2.37v2.36h-2.37zM490.13 343.31h2.37v2.36h-2.37zM418.28 346.17h2.37v2.36h-2.37zM444.14 346.17h2.37v2.36h-2.37zM447.02 346.17h2.37v2.36h-2.37zM452.76 346.17h2.37v2.36h-2.37zM455.64 346.17h2.37v2.36h-2.37zM470.01 346.17h2.37v2.36h-2.37zM472.88 346.17h2.37v2.36h-2.37zM490.13 346.17h2.37v2.36h-2.37zM421.15 349.03h2.37v2.36h-2.37zM426.90 349.03h2.37v2.36h-2.37zM429.77 349.03h2.37v2.36h-2.37zM441.27 349.03h2.37v2.36h-2.37zM444.14 349.03h2.37v2.36h-2.37zM447.02 349.03h2.37v2.36h-2.37zM470.01 349.03h2.37v2.36h-2.37zM475.76 349.03h2.37v2.36h-2.37zM487.25 349.03h2.37v2.36h-2.37zM495.88 349.03h2.37v2.36h-2.37zM426.90 351.89h2.37v2.36h-2.37zM464.26 351.89h2.37v2.36h-2.37zM470.01 351.89h2.37v2.36h-2.37zM424.02 354.75h2.37v2.36h-2.37zM426.90 354.75h2.37v2.36h-2.37zM435.52 354.75h2.37v2.36h-2.37zM441.27 354.75h2.37v2.36h-2.37zM447.02 354.75h2.37v2.36h-2.37zM452.76 354.75h2.37v2.36h-2.37zM455.64 354.75h2.37v2.36h-2.37zM495.88 354.75h2.37v2.36h-2.37zM421.15 357.62h2.37v2.36h-2.37zM424.02 357.62h2.37v2.36h-2.37zM432.65 357.62h2.37v2.36h-2.37zM435.52 357.62h2.37v2.36h-2.37zM438.39 357.62h2.37v2.36h-2.37zM444.14 357.62h2.37v2.36h-2.37zM447.02 357.62h2.37v2.36h-2.37zM449.89 357.62h2.37v2.36h-2.37zM455.64 357.62h2.37v2.36h-2.37zM461.39 357.62h2.37v2.36h-2.37zM484.38 357.62h2.37v2.36h-2.37zM495.88 357.62h2.37v2.36h-2.37zM418.28 360.48h2.37v2.36h-2.37zM432.65 360.48h2.37v2.36h-2.37zM458.51 360.48h2.37v2.36h-2.37zM478.63 360.48h2.37v2.36h-2.37zM484.38 360.48h2.37v2.36h-2.37zM487.25 360.48h2.37v2.36h-2.37zM412.53 363.34h2.37v2.36h-2.37zM418.28 366.20h2.37v2.36h-2.37zM429.77 366.20h2.37v2.36h-2.37zM432.65 366.20h2.37v2.36h-2.37zM444.14 366.20h2.37v2.36h-2.37zM449.89 366.20h2.37v2.36h-2.37zM452.76 366.20h2.37v2.36h-2.37zM484.38 366.20h2.37v2.36h-2.37zM418.28 369.06h2.37v2.36h-2.37zM421.15 369.06h2.37v2.36h-2.37zM426.90 369.06h2.37v2.36h-2.37zM441.27 369.06h2.37v2.36h-2.37zM444.14 369.06h2.37v2.36h-2.37zM412.53 371.93h2.37v2.36h-2.37zM426.90 371.93h2.37v2.36h-2.37zM438.39 371.93h2.37v2.36h-2.37zM449.89 371.93h2.37v2.36h-2.37zM418.28 374.79h2.37v2.36h-2.37zM472.88 374.79h2.37v2.36h-2.37zM481.51 374.79h2.37v2.36h-2.37z" fill="#6760d2"/>
<path d="M395.28 237.41h2.37v2.36h-2.37zM349.30 240.27h2.37v2.36h-2.37zM366.54 240.27h2.37v2.36h-2.37zM392.41 243.14h2.37v2.36h-2.37zM398.16 257.45h2.37v2.36h-2.37zM395.28 260.31h2.37v2.36h-2.37zM401.03 266.03h2.37v2.36h-2.37zM398.16 268.89h2.37v2.36h-2.37zM346.42 274.62h2.37v2.36h-2.37zM355.05 274.62h2.37v2.36h-2.37zM392.41 274.62h2.37v2.36h-2.37zM366.54 277.48h2.37v2.36h-2.37zM343.55 280.34h2.37v2.36h-2.37zM360.79 280.34h2.37v2.36h-2.37zM398.16 280.34h2.37v2.36h-2.37zM343.55 283.20h2.37v2.36h-2.37zM366.54 283.20h2.37v2.36h-2.37zM392.41 283.20h2.37v2.36h-2.37zM366.54 286.07h2.37v2.36h-2.37zM375.16 286.07h2.37v2.36h-2.37zM392.41 286.07h2.37v2.36h-2.37zM375.16 288.93h2.37v2.36h-2.37zM401.03 288.93h2.37v2.36h-2.37zM366.54 291.79h2.37v2.36h-2.37zM380.91 291.79h2.37v2.36h-2.37zM398.16 291.79h2.37v2.36h-2.37zM389.54 297.51h2.37v2.36h-2.37zM403.91 297.51h2.37v2.36h-2.37zM363.67 300.38h2.37v2.36h-2.37zM386.66 300.38h2.37v2.36h-2.37zM403.91 300.38h2.37v2.36h-2.37zM369.42 303.24h2.37v2.36h-2.37zM360.79 306.10h2.37v2.36h-2.37zM363.67 306.10h2.37v2.36h-2.37zM366.54 314.69h2.37v2.36h-2.37zM363.67 317.55h2.37v2.36h-2.37zM401.03 317.55h2.37v2.36h-2.37zM383.79 320.41h2.37v2.36h-2.37zM392.41 320.41h2.37v2.36h-2.37zM395.28 320.41h2.37v2.36h-2.37zM343.55 323.27h2.37v2.36h-2.37zM395.28 326.13h2.37v2.36h-2.37zM343.55 331.86h2.37v2.36h-2.37zM357.92 331.86h2.37v2.36h-2.37zM380.91 331.86h2.37v2.36h-2.37zM343.55 334.72h2.37v2.36h-2.37zM357.92 340.44h2.37v2.36h-2.37zM383.79 340.44h2.37v2.36h-2.37zM389.54 340.44h2.37v2.36h-2.37zM398.16 340.44h2.37v2.36h-2.37zM395.28 346.17h2.37v2.36h-2.37zM383.79 349.03h2.37v2.36h-2.37zM386.66 349.03h2.37v2.36h-2.37zM369.42 354.75h2.37v2.36h-2.37zM366.54 357.62h2.37v2.36h-2.37zM389.54 357.62h2.37v2.36h-2.37zM389.54 360.48h2.37v2.36h-2.37zM395.28 360.48h2.37v2.36h-2.37zM346.42 363.34h2.37v2.36h-2.37zM383.79 363.34h2.37v2.36h-2.37zM357.92 366.20h2.37v2.36h-2.37zM346.42 369.06h2.37v2.36h-2.37zM389.54 369.06h2.37v2.36h-2.37zM343.55 371.93h2.37v2.36h-2.37zM363.67 371.93h2.37v2.36h-2.37zM392.41 371.93h2.37v2.36h-2.37zM389.54 374.79h2.37v2.36h-2.37zM392.41 374.79h2.37v2.36h-2.37z" fill="#7770d6"/>
<path d="M452.76 237.41h2.37v2.36h-2.37zM487.25 237.41h2.37v2.36h-2.37zM493.00 237.41h2.37v2.36h-2.37zM418.28 240.27h2.37v2.36h-2.37zM424.02 240.27h2.37v2.36h-2.37zM484.38 240.27h2.37v2.36h-2.37zM418.28 243.14h2.37v2.36h-2.37zM447.02 243.14h2.37v2.36h-2.37zM475.76 243.14h2.37v2.36h-2.37zM418.28 246.00h2.37v2.36h-2.37zM429.77 246.00h2.37v2.36h-2.37zM441.27 246.00h2.37v2.36h-2.37zM464.26 246.00h2.37v2.36h-2.37zM464.26 248.86h2.37v2.36h-2.37zM470.01 248.86h2.37v2.36h-2.37zM418.28 251.72h2.37v2.36h-2.37zM435.52 251.72h2.37v2.36h-2.37zM467.14 251.72h2.37v2.36h-2.37zM470.01 251.72h2.37v2.36h-2.37zM481.51 251.72h2.37v2.36h-2.37zM412.53 254.58h2.37v2.36h-2.37zM424.02 254.58h2.37v2.36h-2.37zM441.27 254.58h2.37v2.36h-2.37zM444.14 254.58h2.37v2.36h-2.37zM470.01 254.58h2.37v2.36h-2.37zM472.88 254.58h2.37v2.36h-2.37zM478.63 254.58h2.37v2.36h-2.37zM481.51 254.58h2.37v2.36h-2.37zM415.40 257.45h2.37v2.36h-2.37zM435.52 257.45h2.37v2.36h-2.37zM487.25 257.45h2.37v2.36h-2.37zM493.00 257.45h2.37v2.36h-2.37zM441.27 260.31h2.37v2.36h-2.37zM475.76 260.31h2.37v2.36h-2.37zM493.00 260.31h2.37v2.36h-2.37zM418.28 263.17h2.37v2.36h-2.37zM421.15 263.17h2.37v2.36h-2.37zM424.02 263.17h2.37v2.36h-2.37zM432.65 263.17h2.37v2.36h-2.37zM478.63 263.17h2.37v2.36h-2.37zM493.00 263.17h2.37v2.36h-2.37zM415.40 266.03h2.37v2.36h-2.37zM418.28 266.03h2.37v2.36h-2.37zM421.15 266.03h2.37v2.36h-2.37zM432.65 266.03h2.37v2.36h-2.37zM441.27 266.03h2.37v2.36h-2.37zM449.89 266.03h2.37v2.36h-2.37zM472.88 266.03h2.37v2.36h-2.37zM481.51 266.03h2.37v2.36h-2.37zM424.02 271.76h2.37v2.36h-2.37zM412.53 274.62h2.37v2.36h-2.37zM421.15 274.62h2.37v2.36h-2.37zM429.77 274.62h2.37v2.36h-2.37zM432.65 274.62h2.37v2.36h-2.37zM435.52 274.62h2.37v2.36h-2.37zM438.39 274.62h2.37v2.36h-2.37zM478.63 274.62h2.37v2.36h-2.37zM490.13 274.62h2.37v2.36h-2.37zM455.64 277.48h2.37v2.36h-2.37zM458.51 277.48h2.37v2.36h-2.37zM464.26 277.48h2.37v2.36h-2.37zM412.53 280.34h2.37v2.36h-2.37zM429.77 280.34h2.37v2.36h-2.37zM444.14 280.34h2.37v2.36h-2.37zM449.89 280.34h2.37v2.36h-2.37zM487.25 280.34h2.37v2.36h-2.37zM412.53 283.20h2.37v2.36h-2.37zM429.77 283.20h2.37v2.36h-2.37zM435.52 283.20h2.37v2.36h-2.37zM438.39 283.20h2.37v2.36h-2.37zM441.27 283.20h2.37v2.36h-2.37zM458.51 283.20h2.37v2.36h-2.37zM461.39 283.20h2.37v2.36h-2.37zM464.26 283.20h2.37v2.36h-2.37zM470.01 283.20h2.37v2.36h-2.37zM472.88 283.20h2.37v2.36h-2.37zM481.51 283.20h2.37v2.36h-2.37zM490.13 283.20h2.37v2.36h-2.37zM418.28 286.07h2.37v2.36h-2.37zM424.02 286.07h2.37v2.36h-2.37zM438.39 286.07h2.37v2.36h-2.37zM478.63 286.07h2.37v2.36h-2.37zM484.38 286.07h2.37v2.36h-2.37zM429.77 288.93h2.37v2.36h-2.37zM429.77 291.79h2.37v2.36h-2.37zM435.52 291.79h2.37v2.36h-2.37zM441.27 291.79h2.37v2.36h-2.37zM444.14 291.79h2.37v2.36h-2.37zM452.76 291.79h2.37v2.36h-2.37zM478.63 291.79h2.37v2.36h-2.37zM495.88 291.79h2.37v2.36h-2.37zM472.88 294.65h2.37v2.36h-2.37zM478.63 294.65h2.37v2.36h-2.37zM487.25 294.65h2.37v2.36h-2.37zM461.39 297.51h2.37v2.36h-2.37zM464.26 297.51h2.37v2.36h-2.37zM467.14 297.51h2.37v2.36h-2.37zM470.01 297.51h2.37v2.36h-2.37zM472.88 297.51h2.37v2.36h-2.37zM490.13 297.51h2.37v2.36h-2.37zM415.40 303.24h2.37v2.36h-2.37zM418.28 303.24h2.37v2.36h-2.37zM421.15 303.24h2.37v2.36h-2.37zM424.02 303.24h2.37v2.36h-2.37zM432.65 303.24h2.37v2.36h-2.37zM435.52 303.24h2.37v2.36h-2.37zM449.89 303.24h2.37v2.36h-2.37zM481.51 303.24h2.37v2.36h-2.37zM444.14 306.10h2.37v2.36h-2.37zM412.53 308.96h2.37v2.36h-2.37zM458.51 308.96h2.37v2.36h-2.37zM478.63 308.96h2.37v2.36h-2.37zM484.38 308.96h2.37v2.36h-2.37zM490.13 308.96h2.37v2.36h-2.37zM495.88 308.96h2.37v2.36h-2.37zM478.63 311.82h2.37v2.36h-2.37zM484.38 311.82h2.37v2.36h-2.37zM490.13 311.82h2.37v2.36h-2.37zM493.00 311.82h2.37v2.36h-2.37zM418.28 314.69h2.37v2.36h-2.37zM426.90 314.69h2.37v2.36h-2.37zM432.65 314.69h2.37v2.36h-2.37zM435.52 314.69h2.37v2.36h-2.37zM438.39 314.69h2.37v2.36h-2.37zM441.27 314.69h2.37v2.36h-2.37zM447.02 314.69h2.37v2.36h-2.37zM449.89 314.69h2.37v2.36h-2.37zM452.76 314.69h2.37v2.36h-2.37zM455.64 314.69h2.37v2.36h-2.37zM458.51 314.69h2.37v2.36h-2.37zM461.39 314.69h2.37v2.36h-2.37zM464.26 314.69h2.37v2.36h-2.37zM470.01 314.69h2.37v2.36h-2.37zM493.00 314.69h2.37v2.36h-2.37zM444.14 317.55h2.37v2.36h-2.37zM478.63 317.55h2.37v2.36h-2.37zM493.00 317.55h2.37v2.36h-2.37zM415.40 320.41h2.37v2.36h-2.37zM424.02 320.41h2.37v2.36h-2.37zM426.90 320.41h2.37v2.36h-2.37zM458.51 320.41h2.37v2.36h-2.37zM467.14 320.41h2.37v2.36h-2.37zM449.89 323.27h2.37v2.36h-2.37zM478.63 323.27h2.37v2.36h-2.37zM412.53 326.13h2.37v2.36h-2.37zM415.40 326.13h2.37v2.36h-2.37zM418.28 326.13h2.37v2.36h-2.37zM424.02 326.13h2.37v2.36h-2.37zM426.90 326.13h2.37v2.36h-2.37zM429.77 326.13h2.37v2.36h-2.37zM441.27 326.13h2.37v2.36h-2.37zM444.14 326.13h2.37v2.36h-2.37zM455.64 326.13h2.37v2.36h-2.37zM484.38 326.13h2.37v2.36h-2.37zM490.13 326.13h2.37v2.36h-2.37zM493.00 326.13h2.37v2.36h-2.37zM495.88 326.13h2.37v2.36h-2.37zM415.40 329.00h2.37v2.36h-2.37zM455.64 329.00h2.37v2.36h-2.37zM495.88 329.00h2.37v2.36h-2.37zM478.63 331.86h2.37v2.36h-2.37zM484.38 331.86h2.37v2.36h-2.37zM493.00 331.86h2.37v2.36h-2.37zM424.02 334.72h2.37v2.36h-2.37zM429.77 334.72h2.37v2.36h-2.37zM441.27 334.72h2.37v2.36h-2.37zM452.76 334.72h2.37v2.36h-2.37zM455.64 334.72h2.37v2.36h-2.37zM461.39 334.72h2.37v2.36h-2.37zM464.26 334.72h2.37v2.36h-2.37zM470.01 334.72h2.37v2.36h-2.37zM472.88 334.72h2.37v2.36h-2.37zM475.76 334.72h2.37v2.36h-2.37zM487.25 334.72h2.37v2.36h-2.37zM458.51 337.58h2.37v2.36h-2.37zM472.88 337.58h2.37v2.36h-2.37zM490.13 337.58h2.37v2.36h-2.37zM493.00 337.58h2.37v2.36h-2.37zM461.39 340.44h2.37v2.36h-2.37zM487.25 340.44h2.37v2.36h-2.37zM418.28 343.31h2.37v2.36h-2.37zM435.52 343.31h2.37v2.36h-2.37zM441.27 343.31h2.37v2.36h-2.37zM472.88 343.31h2.37v2.36h-2.37zM484.38 343.31h2.37v2.36h-2.37zM487.25 343.31h2.37v2.36h-2.37zM421.15 346.17h2.37v2.36h-2.37zM449.89 346.17h2.37v2.36h-2.37zM458.51 346.17h2.37v2.36h-2.37zM487.25 346.17h2.37v2.36h-2.37zM412.53 349.03h2.37v2.36h-2.37zM415.40 349.03h2.37v2.36h-2.37zM418.28 349.03h2.37v2.36h-2.37zM455.64 349.03h2.37v2.36h-2.37zM458.51 349.03h2.37v2.36h-2.37zM461.39 349.03h2.37v2.36h-2.37zM464.26 349.03h2.37v2.36h-2.37zM481.51 349.03h2.37v2.36h-2.37zM438.39 351.89h2.37v2.36h-2.37zM455.64 351.89h2.37v2.36h-2.37zM458.51 351.89h2.37v2.36h-2.37zM461.39 351.89h2.37v2.36h-2.37zM487.25 351.89h2.37v2.36h-2.37zM415.40 354.75h2.37v2.36h-2.37zM429.77 354.75h2.37v2.36h-2.37zM438.39 354.75h2.37v2.36h-2.37zM444.14 354.75h2.37v2.36h-2.37zM467.14 354.75h2.37v2.36h-2.37zM470.01 354.75h2.37v2.36h-2.37zM475.76 354.75h2.37v2.36h-2.37zM452.76 357.62h2.37v2.36h-2.37zM472.88 357.62h2.37v2.36h-2.37zM478.63 357.62h2.37v2.36h-2.37zM490.13 357.62h2.37v2.36h-2.37zM412.53 360.48h2.37v2.36h-2.37zM415.40 360.48h2.37v2.36h-2.37zM424.02 360.48h2.37v2.36h-2.37zM475.76 360.48h2.37v2.36h-2.37zM481.51 360.48h2.37v2.36h-2.37zM493.00 360.48h2.37v2.36h-2.37zM415.40 366.20h2.37v2.36h-2.37zM435.52 366.20h2.37v2.36h-2.37zM455.64 366.20h2.37v2.36h-2.37zM478.63 366.20h2.37v2.36h-2.37zM412.53 369.06h2.37v2.36h-2.37zM424.02 369.06h2.37v2.36h-2.37zM435.52 369.06h2.37v2.36h-2.37zM478.63 369.06h2.37v2.36h-2.37zM484.38 369.06h2.37v2.36h-2.37zM490.13 369.06h2.37v2.36h-2.37zM493.00 369.06h2.37v2.36h-2.37zM429.77 371.93h2.37v2.36h-2.37zM444.14 371.93h2.37v2.36h-2.37zM452.76 371.93h2.37v2.36h-2.37zM467.14 371.93h2.37v2.36h-2.37zM478.63 371.93h2.37v2.36h-2.37zM484.38 371.93h2.37v2.36h-2.37zM493.00 371.93h2.37v2.36h-2.37zM421.15 374.79h2.37v2.36h-2.37zM484.38 374.79h2.37v2.36h-2.37zM490.13 374.79h2.37v2.36h-2.37zM493.00 374.79h2.37v2.36h-2.37z" fill="#aca8e6"/>
<path d="M343.55 237.41h2.37v2.36h-2.37zM363.67 237.41h2.37v2.36h-2.37zM366.54 237.41h2.37v2.36h-2.37zM383.79 237.41h2.37v2.36h-2.37zM352.17 240.27h2.37v2.36h-2.37zM360.79 240.27h2.37v2.36h-2.37zM363.67 240.27h2.37v2.36h-2.37zM380.91 240.27h2.37v2.36h-2.37zM409.65 240.27h2.37v2.36h-2.37zM346.42 243.14h2.37v2.36h-2.37zM357.92 243.14h2.37v2.36h-2.37zM366.54 243.14h2.37v2.36h-2.37zM369.42 243.14h2.37v2.36h-2.37zM378.04 243.14h2.37v2.36h-2.37zM389.54 243.14h2.37v2.36h-2.37zM395.28 243.14h2.37v2.36h-2.37zM401.03 243.14h2.37v2.36h-2.37zM346.42 246.00h2.37v2.36h-2.37zM355.05 246.00h2.37v2.36h-2.37zM363.67 246.00h2.37v2.36h-2.37zM369.42 246.00h2.37v2.36h-2.37zM389.54 246.00h2.37v2.36h-2.37zM398.16 246.00h2.37v2.36h-2.37zM409.65 246.00h2.37v2.36h-2.37zM346.42 248.86h2.37v2.36h-2.37zM357.92 248.86h2.37v2.36h-2.37zM366.54 248.86h2.37v2.36h-2.37zM383.79 248.86h2.37v2.36h-2.37zM389.54 248.86h2.37v2.36h-2.37zM349.30 251.72h2.37v2.36h-2.37zM357.92 251.72h2.37v2.36h-2.37zM366.54 251.72h2.37v2.36h-2.37zM383.79 251.72h2.37v2.36h-2.37zM389.54 251.72h2.37v2.36h-2.37zM346.42 254.58h2.37v2.36h-2.37zM369.42 254.58h2.37v2.36h-2.37zM383.79 254.58h2.37v2.36h-2.37zM389.54 254.58h2.37v2.36h-2.37zM395.28 254.58h2.37v2.36h-2.37zM406.78 254.58h2.37v2.36h-2.37zM409.65 254.58h2.37v2.36h-2.37zM357.92 257.45h2.37v2.36h-2.37zM395.28 257.45h2.37v2.36h-2.37zM409.65 257.45h2.37v2.36h-2.37zM346.42 260.31h2.37v2.36h-2.37zM355.05 260.31h2.37v2.36h-2.37zM360.79 260.31h2.37v2.36h-2.37zM383.79 260.31h2.37v2.36h-2.37zM386.66 260.31h2.37v2.36h-2.37zM392.41 260.31h2.37v2.36h-2.37zM398.16 260.31h2.37v2.36h-2.37zM357.92 263.17h2.37v2.36h-2.37zM375.16 263.17h2.37v2.36h-2.37zM383.79 263.17h2.37v2.36h-2.37zM398.16 263.17h2.37v2.36h-2.37zM346.42 266.03h2.37v2.36h-2.37zM366.54 266.03h2.37v2.36h-2.37zM372.29 266.03h2.37v2.36h-2.37zM375.16 266.03h2.37v2.36h-2.37zM386.66 266.03h2.37v2.36h-2.37zM389.54 266.03h2.37v2.36h-2.37zM398.16 266.03h2.37v2.36h-2.37zM403.91 266.03h2.37v2.36h-2.37zM357.92 268.89h2.37v2.36h-2.37zM343.55 274.62h2.37v2.36h-2.37zM357.92 274.62h2.37v2.36h-2.37zM363.67 274.62h2.37v2.36h-2.37zM366.54 274.62h2.37v2.36h-2.37zM383.79 274.62h2.37v2.36h-2.37zM401.03 274.62h2.37v2.36h-2.37zM360.79 277.48h2.37v2.36h-2.37zM380.91 277.48h2.37v2.36h-2.37zM395.28 277.48h2.37v2.36h-2.37zM346.42 280.34h2.37v2.36h-2.37zM349.30 280.34h2.37v2.36h-2.37zM355.05 280.34h2.37v2.36h-2.37zM357.92 280.34h2.37v2.36h-2.37zM369.42 280.34h2.37v2.36h-2.37zM378.04 280.34h2.37v2.36h-2.37zM392.41 280.34h2.37v2.36h-2.37zM395.28 280.34h2.37v2.36h-2.37zM401.03 280.34h2.37v2.36h-2.37zM409.65 280.34h2.37v2.36h-2.37zM346.42 283.20h2.37v2.36h-2.37zM357.92 283.20h2.37v2.36h-2.37zM360.79 283.20h2.37v2.36h-2.37zM363.67 283.20h2.37v2.36h-2.37zM369.42 283.20h2.37v2.36h-2.37zM375.16 283.20h2.37v2.36h-2.37zM378.04 283.20h2.37v2.36h-2.37zM401.03 283.20h2.37v2.36h-2.37zM363.67 286.07h2.37v2.36h-2.37zM372.29 286.07h2.37v2.36h-2.37zM378.04 286.07h2.37v2.36h-2.37zM346.42 288.93h2.37v2.36h-2.37zM355.05 288.93h2.37v2.36h-2.37zM363.67 288.93h2.37v2.36h-2.37zM406.78 288.93h2.37v2.36h-2.37zM346.42 291.79h2.37v2.36h-2.37zM355.05 291.79h2.37v2.36h-2.37zM357.92 291.79h2.37v2.36h-2.37zM378.04 291.79h2.37v2.36h-2.37zM386.66 291.79h2.37v2.36h-2.37zM343.55 294.65h2.37v2.36h-2.37zM357.92 294.65h2.37v2.36h-2.37zM363.67 294.65h2.37v2.36h-2.37zM380.91 294.65h2.37v2.36h-2.37zM389.54 294.65h2.37v2.36h-2.37zM395.28 294.65h2.37v2.36h-2.37zM398.16 294.65h2.37v2.36h-2.37zM346.42 297.51h2.37v2.36h-2.37zM363.67 297.51h2.37v2.36h-2.37zM398.16 297.51h2.37v2.36h-2.37zM352.17 300.38h2.37v2.36h-2.37zM355.05 300.38h2.37v2.36h-2.37zM372.29 300.38h2.37v2.36h-2.37zM383.79 300.38h2.37v2.36h-2.37zM343.55 303.24h2.37v2.36h-2.37zM352.17 303.24h2.37v2.36h-2.37zM355.05 303.24h2.37v2.36h-2.37zM360.79 303.24h2.37v2.36h-2.37zM378.04 303.24h2.37v2.36h-2.37zM392.41 303.24h2.37v2.36h-2.37zM398.16 303.24h2.37v2.36h-2.37zM372.29 306.10h2.37v2.36h-2.37zM378.04 306.10h2.37v2.36h-2.37zM380.91 306.10h2.37v2.36h-2.37zM386.66 306.10h2.37v2.36h-2.37zM355.05 308.96h2.37v2.36h-2.37zM360.79 308.96h2.37v2.36h-2.37zM366.54 308.96h2.37v2.36h-2.37zM372.29 308.96h2.37v2.36h-2.37zM378.04 308.96h2.37v2.36h-2.37zM386.66 308.96h2.37v2.36h-2.37zM343.55 311.82h2.37v2.36h-2.37zM357.92 311.82h2.37v2.36h-2.37zM366.54 311.82h2.37v2.36h-2.37zM398.16 311.82h2.37v2.36h-2.37zM406.78 311.82h2.37v2.36h-2.37zM349.30 314.69h2.37v2.36h-2.37zM360.79 314.69h2.37v2.36h-2.37zM369.42 314.69h2.37v2.36h-2.37zM386.66 314.69h2.37v2.36h-2.37zM357.92 317.55h2.37v2.36h-2.37zM375.16 317.55h2.37v2.36h-2.37zM395.28 317.55h2.37v2.36h-2.37zM357.92 320.41h2.37v2.36h-2.37zM366.54 320.41h2.37v2.36h-2.37zM372.29 320.41h2.37v2.36h-2.37zM401.03 320.41h2.37v2.36h-2.37zM355.05 323.27h2.37v2.36h-2.37zM372.29 323.27h2.37v2.36h-2.37zM392.41 323.27h2.37v2.36h-2.37zM395.28 323.27h2.37v2.36h-2.37zM401.03 323.27h2.37v2.36h-2.37zM346.42 326.13h2.37v2.36h-2.37zM352.17 326.13h2.37v2.36h-2.37zM360.79 326.13h2.37v2.36h-2.37zM409.65 326.13h2.37v2.36h-2.37zM343.55 329.00h2.37v2.36h-2.37zM346.42 329.00h2.37v2.36h-2.37zM352.17 329.00h2.37v2.36h-2.37zM355.05 329.00h2.37v2.36h-2.37zM357.92 329.00h2.37v2.36h-2.37zM360.79 329.00h2.37v2.36h-2.37zM366.54 329.00h2.37v2.36h-2.37zM375.16 329.00h2.37v2.36h-2.37zM378.04 329.00h2.37v2.36h-2.37zM386.66 329.00h2.37v2.36h-2.37zM389.54 329.00h2.37v2.36h-2.37zM406.78 329.00h2.37v2.36h-2.37zM409.65 329.00h2.37v2.36h-2.37zM355.05 331.86h2.37v2.36h-2.37zM360.79 331.86h2.37v2.36h-2.37zM363.67 331.86h2.37v2.36h-2.37zM369.42 331.86h2.37v2.36h-2.37zM375.16 331.86h2.37v2.36h-2.37zM389.54 331.86h2.37v2.36h-2.37zM395.28 331.86h2.37v2.36h-2.37zM409.65 331.86h2.37v2.36h-2.37zM360.79 334.72h2.37v2.36h-2.37zM372.29 334.72h2.37v2.36h-2.37zM378.04 334.72h2.37v2.36h-2.37zM380.91 334.72h2.37v2.36h-2.37zM346.42 337.58h2.37v2.36h-2.37zM357.92 337.58h2.37v2.36h-2.37zM363.67 337.58h2.37v2.36h-2.37zM369.42 337.58h2.37v2.36h-2.37zM383.79 337.58h2.37v2.36h-2.37zM398.16 337.58h2.37v2.36h-2.37zM360.79 340.44h2.37v2.36h-2.37zM366.54 340.44h2.37v2.36h-2.37zM372.29 340.44h2.37v2.36h-2.37zM380.91 340.44h2.37v2.36h-2.37zM392.41 340.44h2.37v2.36h-2.37zM395.28 340.44h2.37v2.36h-2.37zM403.91 343.31h2.37v2.36h-2.37zM409.65 343.31h2.37v2.36h-2.37zM363.67 346.17h2.37v2.36h-2.37zM401.03 346.17h2.37v2.36h-2.37zM352.17 349.03h2.37v2.36h-2.37zM360.79 349.03h2.37v2.36h-2.37zM363.67 349.03h2.37v2.36h-2.37zM372.29 349.03h2.37v2.36h-2.37zM392.41 349.03h2.37v2.36h-2.37zM395.28 349.03h2.37v2.36h-2.37zM398.16 349.03h2.37v2.36h-2.37zM409.65 349.03h2.37v2.36h-2.37zM355.05 351.89h2.37v2.36h-2.37zM383.79 351.89h2.37v2.36h-2.37zM386.66 351.89h2.37v2.36h-2.37zM392.41 351.89h2.37v2.36h-2.37zM398.16 351.89h2.37v2.36h-2.37zM401.03 351.89h2.37v2.36h-2.37zM349.30 354.75h2.37v2.36h-2.37zM360.79 354.75h2.37v2.36h-2.37zM366.54 354.75h2.37v2.36h-2.37zM372.29 354.75h2.37v2.36h-2.37zM386.66 354.75h2.37v2.36h-2.37zM392.41 354.75h2.37v2.36h-2.37zM343.55 357.62h2.37v2.36h-2.37zM360.79 357.62h2.37v2.36h-2.37zM386.66 357.62h2.37v2.36h-2.37zM392.41 357.62h2.37v2.36h-2.37zM395.28 357.62h2.37v2.36h-2.37zM401.03 357.62h2.37v2.36h-2.37zM357.92 360.48h2.37v2.36h-2.37zM366.54 360.48h2.37v2.36h-2.37zM369.42 360.48h2.37v2.36h-2.37zM386.66 360.48h2.37v2.36h-2.37zM392.41 360.48h2.37v2.36h-2.37zM398.16 360.48h2.37v2.36h-2.37zM360.79 363.34h2.37v2.36h-2.37zM372.29 363.34h2.37v2.36h-2.37zM386.66 363.34h2.37v2.36h-2.37zM389.54 363.34h2.37v2.36h-2.37zM392.41 363.34h2.37v2.36h-2.37zM395.28 363.34h2.37v2.36h-2.37zM363.67 366.20h2.37v2.36h-2.37zM366.54 366.20h2.37v2.36h-2.37zM386.66 366.20h2.37v2.36h-2.37zM389.54 366.20h2.37v2.36h-2.37zM392.41 366.20h2.37v2.36h-2.37zM395.28 366.20h2.37v2.36h-2.37zM343.55 369.06h2.37v2.36h-2.37zM357.92 369.06h2.37v2.36h-2.37zM363.67 369.06h2.37v2.36h-2.37zM386.66 369.06h2.37v2.36h-2.37zM392.41 369.06h2.37v2.36h-2.37zM395.28 369.06h2.37v2.36h-2.37zM398.16 369.06h2.37v2.36h-2.37zM406.78 369.06h2.37v2.36h-2.37zM409.65 369.06h2.37v2.36h-2.37zM346.42 371.93h2.37v2.36h-2.37zM357.92 371.93h2.37v2.36h-2.37zM366.54 371.93h2.37v2.36h-2.37zM386.66 371.93h2.37v2.36h-2.37zM389.54 371.93h2.37v2.36h-2.37zM395.28 371.93h2.37v2.36h-2.37zM409.65 371.93h2.37v2.36h-2.37z" fill="#e2e1f6"/>
<path d="M415.40 237.41h2.37v2.36h-2.37zM435.52 237.41h2.37v2.36h-2.37zM438.39 237.41h2.37v2.36h-2.37zM449.89 237.41h2.37v2.36h-2.37zM475.76 237.41h2.37v2.36h-2.37zM412.53 240.27h2.37v2.36h-2.37zM415.40 240.27h2.37v2.36h-2.37zM429.77 240.27h2.37v2.36h-2.37zM441.27 240.27h2.37v2.36h-2.37zM493.00 240.27h2.37v2.36h-2.37zM415.40 243.14h2.37v2.36h-2.37zM435.52 243.14h2.37v2.36h-2.37zM461.39 243.14h2.37v2.36h-2.37zM458.51 246.00h2.37v2.36h-2.37zM452.76 248.86h2.37v2.36h-2.37zM458.51 251.72h2.37v2.36h-2.37zM461.39 251.72h2.37v2.36h-2.37zM475.76 251.72h2.37v2.36h-2.37zM415.40 254.58h2.37v2.36h-2.37zM418.28 254.58h2.37v2.36h-2.37zM421.15 254.58h2.37v2.36h-2.37zM435.52 254.58h2.37v2.36h-2.37zM429.77 257.45h2.37v2.36h-2.37zM441.27 257.45h2.37v2.36h-2.37zM444.14 257.45h2.37v2.36h-2.37zM447.02 257.45h2.37v2.36h-2.37zM461.39 257.45h2.37v2.36h-2.37zM415.40 260.31h2.37v2.36h-2.37zM455.64 263.17h2.37v2.36h-2.37zM458.51 263.17h2.37v2.36h-2.37zM472.88 263.17h2.37v2.36h-2.37zM475.76 263.17h2.37v2.36h-2.37zM412.53 266.03h2.37v2.36h-2.37zM429.77 266.03h2.37v2.36h-2.37zM458.51 266.03h2.37v2.36h-2.37zM490.13 266.03h2.37v2.36h-2.37zM429.77 268.89h2.37v2.36h-2.37zM415.40 274.62h2.37v2.36h-2.37zM424.02 274.62h2.37v2.36h-2.37zM441.27 274.62h2.37v2.36h-2.37zM472.88 274.62h2.37v2.36h-2.37zM475.76 274.62h2.37v2.36h-2.37zM495.88 274.62h2.37v2.36h-2.37zM449.89 277.48h2.37v2.36h-2.37zM452.76 277.48h2.37v2.36h-2.37zM461.39 277.48h2.37v2.36h-2.37zM452.76 280.34h2.37v2.36h-2.37zM458.51 280.34h2.37v2.36h-2.37zM467.14 280.34h2.37v2.36h-2.37zM470.01 280.34h2.37v2.36h-2.37zM490.13 280.34h2.37v2.36h-2.37zM415.40 283.20h2.37v2.36h-2.37zM418.28 283.20h2.37v2.36h-2.37zM449.89 283.20h2.37v2.36h-2.37zM452.76 283.20h2.37v2.36h-2.37zM484.38 283.20h2.37v2.36h-2.37zM481.51 286.07h2.37v2.36h-2.37zM493.00 288.93h2.37v2.36h-2.37zM447.02 291.79h2.37v2.36h-2.37zM449.89 291.79h2.37v2.36h-2.37zM418.28 294.65h2.37v2.36h-2.37zM424.02 294.65h2.37v2.36h-2.37zM426.90 294.65h2.37v2.36h-2.37zM429.77 294.65h2.37v2.36h-2.37zM435.52 294.65h2.37v2.36h-2.37zM441.27 294.65h2.37v2.36h-2.37zM484.38 294.65h2.37v2.36h-2.37zM490.13 294.65h2.37v2.36h-2.37zM449.89 297.51h2.37v2.36h-2.37zM458.51 297.51h2.37v2.36h-2.37zM493.00 297.51h2.37v2.36h-2.37zM458.51 300.38h2.37v2.36h-2.37zM475.76 303.24h2.37v2.36h-2.37zM412.53 306.10h2.37v2.36h-2.37zM415.40 306.10h2.37v2.36h-2.37zM418.28 306.10h2.37v2.36h-2.37zM421.15 306.10h2.37v2.36h-2.37zM424.02 306.10h2.37v2.36h-2.37zM429.77 306.10h2.37v2.36h-2.37zM432.65 306.10h2.37v2.36h-2.37zM435.52 306.10h2.37v2.36h-2.37zM438.39 306.10h2.37v2.36h-2.37zM441.27 306.10h2.37v2.36h-2.37zM449.89 306.10h2.37v2.36h-2.37zM452.76 306.10h2.37v2.36h-2.37zM455.64 306.10h2.37v2.36h-2.37zM458.51 306.10h2.37v2.36h-2.37zM475.76 306.10h2.37v2.36h-2.37zM481.51 306.10h2.37v2.36h-2.37zM484.38 306.10h2.37v2.36h-2.37zM487.25 306.10h2.37v2.36h-2.37zM493.00 306.10h2.37v2.36h-2.37zM495.88 306.10h2.37v2.36h-2.37zM418.28 308.96h2.37v2.36h-2.37zM421.15 308.96h2.37v2.36h-2.37zM424.02 308.96h2.37v2.36h-2.37zM429.77 308.96h2.37v2.36h-2.37zM444.14 308.96h2.37v2.36h-2.37zM449.89 308.96h2.37v2.36h-2.37zM452.76 308.96h2.37v2.36h-2.37zM455.64 308.96h2.37v2.36h-2.37zM461.39 308.96h2.37v2.36h-2.37zM475.76 308.96h2.37v2.36h-2.37zM481.51 308.96h2.37v2.36h-2.37zM487.25 308.96h2.37v2.36h-2.37zM429.77 311.82h2.37v2.36h-2.37zM472.88 311.82h2.37v2.36h-2.37zM421.15 314.69h2.37v2.36h-2.37zM424.02 314.69h2.37v2.36h-2.37zM475.76 314.69h2.37v2.36h-2.37zM481.51 314.69h2.37v2.36h-2.37zM429.77 317.55h2.37v2.36h-2.37zM449.89 317.55h2.37v2.36h-2.37zM412.53 320.41h2.37v2.36h-2.37zM429.77 320.41h2.37v2.36h-2.37zM464.26 320.41h2.37v2.36h-2.37zM470.01 320.41h2.37v2.36h-2.37zM472.88 320.41h2.37v2.36h-2.37zM475.76 320.41h2.37v2.36h-2.37zM478.63 320.41h2.37v2.36h-2.37zM481.51 320.41h2.37v2.36h-2.37zM435.52 326.13h2.37v2.36h-2.37zM452.76 326.13h2.37v2.36h-2.37zM458.51 326.13h2.37v2.36h-2.37zM461.39 326.13h2.37v2.36h-2.37zM464.26 326.13h2.37v2.36h-2.37zM467.14 326.13h2.37v2.36h-2.37zM470.01 326.13h2.37v2.36h-2.37zM472.88 326.13h2.37v2.36h-2.37zM412.53 329.00h2.37v2.36h-2.37zM418.28 329.00h2.37v2.36h-2.37zM421.15 329.00h2.37v2.36h-2.37zM426.90 329.00h2.37v2.36h-2.37zM432.65 329.00h2.37v2.36h-2.37zM435.52 329.00h2.37v2.36h-2.37zM438.39 329.00h2.37v2.36h-2.37zM441.27 329.00h2.37v2.36h-2.37zM464.26 329.00h2.37v2.36h-2.37zM470.01 329.00h2.37v2.36h-2.37zM472.88 329.00h2.37v2.36h-2.37zM475.76 329.00h2.37v2.36h-2.37zM478.63 329.00h2.37v2.36h-2.37zM487.25 329.00h2.37v2.36h-2.37zM490.13 329.00h2.37v2.36h-2.37zM493.00 329.00h2.37v2.36h-2.37zM415.40 331.86h2.37v2.36h-2.37zM424.02 331.86h2.37v2.36h-2.37zM412.53 334.72h2.37v2.36h-2.37zM415.40 334.72h2.37v2.36h-2.37zM435.52 334.72h2.37v2.36h-2.37zM447.02 334.72h2.37v2.36h-2.37zM478.63 334.72h2.37v2.36h-2.37zM412.53 337.58h2.37v2.36h-2.37zM415.40 337.58h2.37v2.36h-2.37zM418.28 337.58h2.37v2.36h-2.37zM424.02 337.58h2.37v2.36h-2.37zM429.77 337.58h2.37v2.36h-2.37zM452.76 337.58h2.37v2.36h-2.37zM455.64 337.58h2.37v2.36h-2.37zM435.52 340.44h2.37v2.36h-2.37zM452.76 340.44h2.37v2.36h-2.37zM455.64 340.44h2.37v2.36h-2.37zM415.40 343.31h2.37v2.36h-2.37zM452.76 343.31h2.37v2.36h-2.37zM455.64 343.31h2.37v2.36h-2.37zM467.14 343.31h2.37v2.36h-2.37zM470.01 343.31h2.37v2.36h-2.37zM449.89 349.03h2.37v2.36h-2.37zM472.88 349.03h2.37v2.36h-2.37zM490.13 349.03h2.37v2.36h-2.37zM493.00 349.03h2.37v2.36h-2.37zM412.53 351.89h2.37v2.36h-2.37zM415.40 351.89h2.37v2.36h-2.37zM418.28 351.89h2.37v2.36h-2.37zM421.15 351.89h2.37v2.36h-2.37zM424.02 351.89h2.37v2.36h-2.37zM429.77 351.89h2.37v2.36h-2.37zM432.65 351.89h2.37v2.36h-2.37zM435.52 351.89h2.37v2.36h-2.37zM452.76 351.89h2.37v2.36h-2.37zM472.88 351.89h2.37v2.36h-2.37zM495.88 351.89h2.37v2.36h-2.37zM412.53 354.75h2.37v2.36h-2.37zM418.28 354.75h2.37v2.36h-2.37zM421.15 354.75h2.37v2.36h-2.37zM432.65 354.75h2.37v2.36h-2.37zM449.89 354.75h2.37v2.36h-2.37zM472.88 354.75h2.37v2.36h-2.37zM478.63 354.75h2.37v2.36h-2.37zM484.38 354.75h2.37v2.36h-2.37zM490.13 354.75h2.37v2.36h-2.37zM412.53 357.62h2.37v2.36h-2.37zM415.40 357.62h2.37v2.36h-2.37zM418.28 357.62h2.37v2.36h-2.37zM426.90 357.62h2.37v2.36h-2.37zM429.77 357.62h2.37v2.36h-2.37zM475.76 357.62h2.37v2.36h-2.37zM481.51 357.62h2.37v2.36h-2.37zM487.25 357.62h2.37v2.36h-2.37zM493.00 357.62h2.37v2.36h-2.37zM472.88 360.48h2.37v2.36h-2.37zM490.13 360.48h2.37v2.36h-2.37zM412.53 366.20h2.37v2.36h-2.37zM424.02 366.20h2.37v2.36h-2.37zM426.90 366.20h2.37v2.36h-2.37zM441.27 366.20h2.37v2.36h-2.37zM447.02 366.20h2.37v2.36h-2.37zM458.51 366.20h2.37v2.36h-2.37zM464.26 366.20h2.37v2.36h-2.37zM467.14 366.20h2.37v2.36h-2.37zM470.01 366.20h2.37v2.36h-2.37zM487.25 366.20h2.37v2.36h-2.37zM415.40 369.06h2.37v2.36h-2.37zM449.89 369.06h2.37v2.36h-2.37zM464.26 369.06h2.37v2.36h-2.37zM472.88 369.06h2.37v2.36h-2.37zM415.40 371.93h2.37v2.36h-2.37zM418.28 371.93h2.37v2.36h-2.37zM421.15 371.93h2.37v2.36h-2.37zM424.02 371.93h2.37v2.36h-2.37zM432.65 371.93h2.37v2.36h-2.37zM435.52 371.93h2.37v2.36h-2.37zM441.27 371.93h2.37v2.36h-2.37zM447.02 371.93h2.37v2.36h-2.37zM461.39 371.93h2.37v2.36h-2.37zM464.26 371.93h2.37v2.36h-2.37zM470.01 371.93h2.37v2.36h-2.37zM472.88 371.93h2.37v2.36h-2.37zM490.13 371.93h2.37v2.36h-2.37zM415.40 374.79h2.37v2.36h-2.37zM424.02 374.79h2.37v2.36h-2.37zM478.63 374.79h2.37v2.36h-2.37z" fill="#eeeefa"/>
<path d="M472.88 240.27h2.37v2.36h-2.37zM475.76 240.27h2.37v2.36h-2.37zM490.13 240.27h2.37v2.36h-2.37zM449.89 268.89h2.37v2.36h-2.37zM481.51 274.62h2.37v2.36h-2.37zM484.38 274.62h2.37v2.36h-2.37zM487.25 274.62h2.37v2.36h-2.37zM493.00 274.62h2.37v2.36h-2.37zM472.88 280.34h2.37v2.36h-2.37zM475.76 280.34h2.37v2.36h-2.37zM478.63 283.20h2.37v2.36h-2.37zM447.02 306.10h2.37v2.36h-2.37zM472.88 306.10h2.37v2.36h-2.37zM478.63 306.10h2.37v2.36h-2.37zM490.13 306.10h2.37v2.36h-2.37zM472.88 308.96h2.37v2.36h-2.37zM493.00 308.96h2.37v2.36h-2.37zM432.65 320.41h2.37v2.36h-2.37zM481.51 329.00h2.37v2.36h-2.37zM484.38 329.00h2.37v2.36h-2.37zM449.89 337.58h2.37v2.36h-2.37zM461.39 337.58h2.37v2.36h-2.37zM441.27 351.89h2.37v2.36h-2.37zM444.14 351.89h2.37v2.36h-2.37zM447.02 351.89h2.37v2.36h-2.37zM449.89 351.89h2.37v2.36h-2.37zM475.76 351.89h2.37v2.36h-2.37zM478.63 351.89h2.37v2.36h-2.37zM484.38 351.89h2.37v2.36h-2.37zM490.13 351.89h2.37v2.36h-2.37zM493.00 354.75h2.37v2.36h-2.37z" fill="#f0a8aa"/>
<path d="M355.05 234.55h2.37v2.36h-2.37zM360.79 234.55h2.37v2.36h-2.37zM372.29 234.55h2.37v2.36h-2.37zM378.04 234.55h2.37v2.36h-2.37zM409.65 234.55h2.37v2.36h-2.37zM355.05 237.41h2.37v2.36h-2.37zM369.42 237.41h2.37v2.36h-2.37zM386.66 237.41h2.37v2.36h-2.37zM389.54 237.41h2.37v2.36h-2.37zM392.41 237.41h2.37v2.36h-2.37zM409.65 237.41h2.37v2.36h-2.37zM357.92 240.27h2.37v2.36h-2.37zM369.42 240.27h2.37v2.36h-2.37zM378.04 240.27h2.37v2.36h-2.37zM395.28 240.27h2.37v2.36h-2.37zM398.16 240.27h2.37v2.36h-2.37zM343.55 243.14h2.37v2.36h-2.37zM386.66 243.14h2.37v2.36h-2.37zM398.16 243.14h2.37v2.36h-2.37zM409.65 243.14h2.37v2.36h-2.37zM343.55 246.00h2.37v2.36h-2.37zM349.30 246.00h2.37v2.36h-2.37zM360.79 246.00h2.37v2.36h-2.37zM378.04 246.00h2.37v2.36h-2.37zM383.79 246.00h2.37v2.36h-2.37zM395.28 246.00h2.37v2.36h-2.37zM403.91 246.00h2.37v2.36h-2.37zM360.79 248.86h2.37v2.36h-2.37zM363.67 248.86h2.37v2.36h-2.37zM378.04 248.86h2.37v2.36h-2.37zM401.03 248.86h2.37v2.36h-2.37zM409.65 248.86h2.37v2.36h-2.37zM343.55 251.72h2.37v2.36h-2.37zM346.42 251.72h2.37v2.36h-2.37zM352.17 251.72h2.37v2.36h-2.37zM363.67 251.72h2.37v2.36h-2.37zM378.04 251.72h2.37v2.36h-2.37zM406.78 251.72h2.37v2.36h-2.37zM409.65 251.72h2.37v2.36h-2.37zM349.30 254.58h2.37v2.36h-2.37zM357.92 254.58h2.37v2.36h-2.37zM366.54 254.58h2.37v2.36h-2.37zM372.29 254.58h2.37v2.36h-2.37zM398.16 254.58h2.37v2.36h-2.37zM403.91 254.58h2.37v2.36h-2.37zM343.55 257.45h2.37v2.36h-2.37zM346.42 257.45h2.37v2.36h-2.37zM360.79 257.45h2.37v2.36h-2.37zM369.42 257.45h2.37v2.36h-2.37zM380.91 257.45h2.37v2.36h-2.37zM383.79 257.45h2.37v2.36h-2.37zM389.54 257.45h2.37v2.36h-2.37zM406.78 257.45h2.37v2.36h-2.37zM349.30 260.31h2.37v2.36h-2.37zM352.17 260.31h2.37v2.36h-2.37zM369.42 260.31h2.37v2.36h-2.37zM380.91 260.31h2.37v2.36h-2.37zM346.42 263.17h2.37v2.36h-2.37zM363.67 263.17h2.37v2.36h-2.37zM366.54 263.17h2.37v2.36h-2.37zM372.29 263.17h2.37v2.36h-2.37zM378.04 263.17h2.37v2.36h-2.37zM401.03 263.17h2.37v2.36h-2.37zM409.65 263.17h2.37v2.36h-2.37zM355.05 266.03h2.37v2.36h-2.37zM369.42 266.03h2.37v2.36h-2.37zM409.65 266.03h2.37v2.36h-2.37zM343.55 268.89h2.37v2.36h-2.37zM349.30 268.89h2.37v2.36h-2.37zM352.17 268.89h2.37v2.36h-2.37zM366.54 268.89h2.37v2.36h-2.37zM369.42 268.89h2.37v2.36h-2.37zM372.29 268.89h2.37v2.36h-2.37zM378.04 268.89h2.37v2.36h-2.37zM389.54 268.89h2.37v2.36h-2.37zM403.91 268.89h2.37v2.36h-2.37zM343.55 271.76h2.37v2.36h-2.37zM352.17 271.76h2.37v2.36h-2.37zM357.92 271.76h2.37v2.36h-2.37zM360.79 271.76h2.37v2.36h-2.37zM363.67 271.76h2.37v2.36h-2.37zM366.54 271.76h2.37v2.36h-2.37zM369.42 271.76h2.37v2.36h-2.37zM372.29 271.76h2.37v2.36h-2.37zM375.16 271.76h2.37v2.36h-2.37zM380.91 271.76h2.37v2.36h-2.37zM398.16 271.76h2.37v2.36h-2.37zM360.79 274.62h2.37v2.36h-2.37zM369.42 274.62h2.37v2.36h-2.37zM372.29 274.62h2.37v2.36h-2.37zM380.91 274.62h2.37v2.36h-2.37zM386.66 274.62h2.37v2.36h-2.37zM389.54 274.62h2.37v2.36h-2.37zM395.28 274.62h2.37v2.36h-2.37zM398.16 274.62h2.37v2.36h-2.37zM409.65 274.62h2.37v2.36h-2.37zM349.30 277.48h2.37v2.36h-2.37zM372.29 277.48h2.37v2.36h-2.37zM378.04 277.48h2.37v2.36h-2.37zM383.79 277.48h2.37v2.36h-2.37zM389.54 277.48h2.37v2.36h-2.37zM398.16 277.48h2.37v2.36h-2.37zM401.03 277.48h2.37v2.36h-2.37zM409.65 277.48h2.37v2.36h-2.37zM352.17 280.34h2.37v2.36h-2.37zM372.29 280.34h2.37v2.36h-2.37zM375.16 280.34h2.37v2.36h-2.37zM380.91 280.34h2.37v2.36h-2.37zM383.79 280.34h2.37v2.36h-2.37zM389.54 280.34h2.37v2.36h-2.37zM403.91 280.34h2.37v2.36h-2.37zM406.78 280.34h2.37v2.36h-2.37zM352.17 283.20h2.37v2.36h-2.37zM355.05 283.20h2.37v2.36h-2.37zM372.29 283.20h2.37v2.36h-2.37zM380.91 283.20h2.37v2.36h-2.37zM395.28 283.20h2.37v2.36h-2.37zM398.16 283.20h2.37v2.36h-2.37zM403.91 283.20h2.37v2.36h-2.37zM409.65 283.20h2.37v2.36h-2.37zM349.30 286.07h2.37v2.36h-2.37zM355.05 286.07h2.37v2.36h-2.37zM369.42 286.07h2.37v2.36h-2.37zM380.91 286.07h2.37v2.36h-2.37zM395.28 286.07h2.37v2.36h-2.37zM403.91 286.07h2.37v2.36h-2.37zM406.78 286.07h2.37v2.36h-2.37zM409.65 286.07h2.37v2.36h-2.37zM343.55 288.93h2.37v2.36h-2.37zM349.30 288.93h2.37v2.36h-2.37zM372.29 288.93h2.37v2.36h-2.37zM378.04 288.93h2.37v2.36h-2.37zM380.91 288.93h2.37v2.36h-2.37zM403.91 288.93h2.37v2.36h-2.37zM409.65 288.93h2.37v2.36h-2.37zM343.55 291.79h2.37v2.36h-2.37zM349.30 291.79h2.37v2.36h-2.37zM352.17 291.79h2.37v2.36h-2.37zM360.79 291.79h2.37v2.36h-2.37zM363.67 291.79h2.37v2.36h-2.37zM375.16 291.79h2.37v2.36h-2.37zM395.28 291.79h2.37v2.36h-2.37zM403.91 291.79h2.37v2.36h-2.37zM409.65 291.79h2.37v2.36h-2.37zM346.42 294.65h2.37v2.36h-2.37zM355.05 294.65h2.37v2.36h-2.37zM360.79 294.65h2.37v2.36h-2.37zM369.42 294.65h2.37v2.36h-2.37zM375.16 294.65h2.37v2.36h-2.37zM378.04 294.65h2.37v2.36h-2.37zM392.41 294.65h2.37v2.36h-2.37zM403.91 294.65h2.37v2.36h-2.37zM409.65 294.65h2.37v2.36h-2.37zM343.55 297.51h2.37v2.36h-2.37zM355.05 297.51h2.37v2.36h-2.37zM360.79 297.51h2.37v2.36h-2.37zM372.29 297.51h2.37v2.36h-2.37zM378.04 297.51h2.37v2.36h-2.37zM380.91 297.51h2.37v2.36h-2.37zM392.41 297.51h2.37v2.36h-2.37zM395.28 297.51h2.37v2.36h-2.37zM406.78 297.51h2.37v2.36h-2.37zM409.65 297.51h2.37v2.36h-2.37zM360.79 300.38h2.37v2.36h-2.37zM369.42 300.38h2.37v2.36h-2.37zM380.91 300.38h2.37v2.36h-2.37zM389.54 300.38h2.37v2.36h-2.37zM398.16 300.38h2.37v2.36h-2.37zM409.65 300.38h2.37v2.36h-2.37zM346.42 303.24h2.37v2.36h-2.37zM349.30 303.24h2.37v2.36h-2.37zM357.92 303.24h2.37v2.36h-2.37zM372.29 303.24h2.37v2.36h-2.37zM375.16 303.24h2.37v2.36h-2.37zM380.91 303.24h2.37v2.36h-2.37zM389.54 303.24h2.37v2.36h-2.37zM395.28 303.24h2.37v2.36h-2.37zM401.03 303.24h2.37v2.36h-2.37zM406.78 303.24h2.37v2.36h-2.37zM409.65 303.24h2.37v2.36h-2.37zM343.55 306.10h2.37v2.36h-2.37zM352.17 306.10h2.37v2.36h-2.37zM355.05 306.10h2.37v2.36h-2.37zM357.92 306.10h2.37v2.36h-2.37zM366.54 306.10h2.37v2.36h-2.37zM369.42 306.10h2.37v2.36h-2.37zM375.16 306.10h2.37v2.36h-2.37zM383.79 306.10h2.37v2.36h-2.37zM395.28 306.10h2.37v2.36h-2.37zM406.78 306.10h2.37v2.36h-2.37zM409.65 306.10h2.37v2.36h-2.37zM343.55 308.96h2.37v2.36h-2.37zM349.30 308.96h2.37v2.36h-2.37zM352.17 308.96h2.37v2.36h-2.37zM357.92 308.96h2.37v2.36h-2.37zM363.67 308.96h2.37v2.36h-2.37zM369.42 308.96h2.37v2.36h-2.37zM375.16 308.96h2.37v2.36h-2.37zM380.91 308.96h2.37v2.36h-2.37zM383.79 308.96h2.37v2.36h-2.37zM398.16 308.96h2.37v2.36h-2.37zM401.03 308.96h2.37v2.36h-2.37zM406.78 308.96h2.37v2.36h-2.37zM409.65 308.96h2.37v2.36h-2.37zM346.42 311.82h2.37v2.36h-2.37zM355.05 311.82h2.37v2.36h-2.37zM360.79 311.82h2.37v2.36h-2.37zM375.16 311.82h2.37v2.36h-2.37zM378.04 311.82h2.37v2.36h-2.37zM392.41 311.82h2.37v2.36h-2.37zM395.28 311.82h2.37v2.36h-2.37zM403.91 311.82h2.37v2.36h-2.37zM346.42 314.69h2.37v2.36h-2.37zM352.17 314.69h2.37v2.36h-2.37zM357.92 314.69h2.37v2.36h-2.37zM372.29 314.69h2.37v2.36h-2.37zM383.79 314.69h2.37v2.36h-2.37zM389.54 314.69h2.37v2.36h-2.37zM392.41 314.69h2.37v2.36h-2.37zM398.16 314.69h2.37v2.36h-2.37zM401.03 314.69h2.37v2.36h-2.37zM372.29 317.55h2.37v2.36h-2.37zM378.04 317.55h2.37v2.36h-2.37zM383.79 317.55h2.37v2.36h-2.37zM392.41 317.55h2.37v2.36h-2.37zM398.16 317.55h2.37v2.36h-2.37zM403.91 317.55h2.37v2.36h-2.37zM409.65 317.55h2.37v2.36h-2.37zM343.55 320.41h2.37v2.36h-2.37zM349.30 320.41h2.37v2.36h-2.37zM355.05 320.41h2.37v2.36h-2.37zM363.67 320.41h2.37v2.36h-2.37zM369.42 320.41h2.37v2.36h-2.37zM375.16 320.41h2.37v2.36h-2.37zM380.91 320.41h2.37v2.36h-2.37zM398.16 320.41h2.37v2.36h-2.37zM403.91 320.41h2.37v2.36h-2.37zM409.65 320.41h2.37v2.36h-2.37zM346.42 323.27h2.37v2.36h-2.37zM352.17 323.27h2.37v2.36h-2.37zM360.79 323.27h2.37v2.36h-2.37zM363.67 323.27h2.37v2.36h-2.37zM369.42 323.27h2.37v2.36h-2.37zM380.91 323.27h2.37v2.36h-2.37zM389.54 323.27h2.37v2.36h-2.37zM403.91 323.27h2.37v2.36h-2.37zM406.78 323.27h2.37v2.36h-2.37zM409.65 323.27h2.37v2.36h-2.37zM349.30 326.13h2.37v2.36h-2.37zM355.05 326.13h2.37v2.36h-2.37zM357.92 326.13h2.37v2.36h-2.37zM363.67 326.13h2.37v2.36h-2.37zM366.54 326.13h2.37v2.36h-2.37zM369.42 326.13h2.37v2.36h-2.37zM372.29 326.13h2.37v2.36h-2.37zM375.16 326.13h2.37v2.36h-2.37zM378.04 326.13h2.37v2.36h-2.37zM383.79 326.13h2.37v2.36h-2.37zM386.66 326.13h2.37v2.36h-2.37zM392.41 326.13h2.37v2.36h-2.37zM403.91 326.13h2.37v2.36h-2.37zM406.78 326.13h2.37v2.36h-2.37zM349.30 329.00h2.37v2.36h-2.37zM363.67 329.00h2.37v2.36h-2.37zM369.42 329.00h2.37v2.36h-2.37zM372.29 329.00h2.37v2.36h-2.37zM380.91 329.00h2.37v2.36h-2.37zM383.79 329.00h2.37v2.36h-2.37zM392.41 329.00h2.37v2.36h-2.37zM395.28 329.00h2.37v2.36h-2.37zM401.03 329.00h2.37v2.36h-2.37zM403.91 329.00h2.37v2.36h-2.37zM352.17 331.86h2.37v2.36h-2.37zM366.54 331.86h2.37v2.36h-2.37zM372.29 331.86h2.37v2.36h-2.37zM378.04 331.86h2.37v2.36h-2.37zM398.16 331.86h2.37v2.36h-2.37zM403.91 331.86h2.37v2.36h-2.37zM406.78 331.86h2.37v2.36h-2.37zM346.42 334.72h2.37v2.36h-2.37zM357.92 334.72h2.37v2.36h-2.37zM363.67 334.72h2.37v2.36h-2.37zM369.42 334.72h2.37v2.36h-2.37zM375.16 334.72h2.37v2.36h-2.37zM383.79 334.72h2.37v2.36h-2.37zM398.16 334.72h2.37v2.36h-2.37zM401.03 334.72h2.37v2.36h-2.37zM406.78 334.72h2.37v2.36h-2.37zM409.65 334.72h2.37v2.36h-2.37zM349.30 337.58h2.37v2.36h-2.37zM360.79 337.58h2.37v2.36h-2.37zM366.54 337.58h2.37v2.36h-2.37zM372.29 337.58h2.37v2.36h-2.37zM375.16 337.58h2.37v2.36h-2.37zM380.91 337.58h2.37v2.36h-2.37zM395.28 337.58h2.37v2.36h-2.37zM409.65 337.58h2.37v2.36h-2.37zM346.42 340.44h2.37v2.36h-2.37zM369.42 340.44h2.37v2.36h-2.37zM378.04 340.44h2.37v2.36h-2.37zM403.91 340.44h2.37v2.36h-2.37zM409.65 340.44h2.37v2.36h-2.37zM355.05 343.31h2.37v2.36h-2.37zM357.92 343.31h2.37v2.36h-2.37zM369.42 343.31h2.37v2.36h-2.37zM375.16 343.31h2.37v2.36h-2.37zM386.66 343.31h2.37v2.36h-2.37zM398.16 343.31h2.37v2.36h-2.37zM401.03 343.31h2.37v2.36h-2.37zM406.78 343.31h2.37v2.36h-2.37zM343.55 346.17h2.37v2.36h-2.37zM360.79 346.17h2.37v2.36h-2.37zM366.54 346.17h2.37v2.36h-2.37zM369.42 346.17h2.37v2.36h-2.37zM375.16 346.17h2.37v2.36h-2.37zM378.04 346.17h2.37v2.36h-2.37zM383.79 346.17h2.37v2.36h-2.37zM392.41 346.17h2.37v2.36h-2.37zM403.91 346.17h2.37v2.36h-2.37zM343.55 349.03h2.37v2.36h-2.37zM349.30 349.03h2.37v2.36h-2.37zM355.05 349.03h2.37v2.36h-2.37zM357.92 349.03h2.37v2.36h-2.37zM369.42 349.03h2.37v2.36h-2.37zM375.16 349.03h2.37v2.36h-2.37zM389.54 349.03h2.37v2.36h-2.37zM401.03 349.03h2.37v2.36h-2.37zM403.91 349.03h2.37v2.36h-2.37zM406.78 349.03h2.37v2.36h-2.37zM343.55 351.89h2.37v2.36h-2.37zM352.17 351.89h2.37v2.36h-2.37zM363.67 351.89h2.37v2.36h-2.37zM366.54 351.89h2.37v2.36h-2.37zM369.42 351.89h2.37v2.36h-2.37zM372.29 351.89h2.37v2.36h-2.37zM380.91 351.89h2.37v2.36h-2.37zM395.28 351.89h2.37v2.36h-2.37zM409.65 351.89h2.37v2.36h-2.37zM343.55 354.75h2.37v2.36h-2.37zM346.42 354.75h2.37v2.36h-2.37zM355.05 354.75h2.37v2.36h-2.37zM357.92 354.75h2.37v2.36h-2.37zM363.67 354.75h2.37v2.36h-2.37zM375.16 354.75h2.37v2.36h-2.37zM380.91 354.75h2.37v2.36h-2.37zM395.28 354.75h2.37v2.36h-2.37zM401.03 354.75h2.37v2.36h-2.37zM409.65 354.75h2.37v2.36h-2.37zM355.05 357.62h2.37v2.36h-2.37zM357.92 357.62h2.37v2.36h-2.37zM369.42 357.62h2.37v2.36h-2.37zM375.16 357.62h2.37v2.36h-2.37zM409.65 357.62h2.37v2.36h-2.37zM346.42 360.48h2.37v2.36h-2.37zM349.30 360.48h2.37v2.36h-2.37zM355.05 360.48h2.37v2.36h-2.37zM375.16 360.48h2.37v2.36h-2.37zM380.91 360.48h2.37v2.36h-2.37zM406.78 360.48h2.37v2.36h-2.37zM409.65 360.48h2.37v2.36h-2.37zM349.30 363.34h2.37v2.36h-2.37zM369.42 363.34h2.37v2.36h-2.37zM380.91 363.34h2.37v2.36h-2.37zM398.16 363.34h2.37v2.36h-2.37zM403.91 363.34h2.37v2.36h-2.37zM346.42 366.20h2.37v2.36h-2.37zM349.30 366.20h2.37v2.36h-2.37zM355.05 366.20h2.37v2.36h-2.37zM360.79 366.20h2.37v2.36h-2.37zM369.42 366.20h2.37v2.36h-2.37zM378.04 366.20h2.37v2.36h-2.37zM383.79 366.20h2.37v2.36h-2.37zM398.16 366.20h2.37v2.36h-2.37zM403.91 366.20h2.37v2.36h-2.37zM406.78 366.20h2.37v2.36h-2.37zM409.65 366.20h2.37v2.36h-2.37zM349.30 369.06h2.37v2.36h-2.37zM360.79 369.06h2.37v2.36h-2.37zM378.04 369.06h2.37v2.36h-2.37zM383.79 369.06h2.37v2.36h-2.37zM401.03 369.06h2.37v2.36h-2.37zM403.91 369.06h2.37v2.36h-2.37zM355.05 371.93h2.37v2.36h-2.37zM360.79 371.93h2.37v2.36h-2.37zM369.42 371.93h2.37v2.36h-2.37zM372.29 371.93h2.37v2.36h-2.37zM380.91 371.93h2.37v2.36h-2.37zM383.79 371.93h2.37v2.36h-2.37zM398.16 371.93h2.37v2.36h-2.37zM401.03 371.93h2.37v2.36h-2.37zM403.91 371.93h2.37v2.36h-2.37zM406.78 371.93h2.37v2.36h-2.37zM357.92 374.79h2.37v2.36h-2.37zM360.79 374.79h2.37v2.36h-2.37zM366.54 374.79h2.37v2.36h-2.37zM380.91 374.79h2.37v2.36h-2.37zM395.28 374.79h2.37v2.36h-2.37z" fill="#e66e70"/>
<path d="M475.76 343.31h2.37v2.36h-2.37zM481.51 351.89h2.37v2.36h-2.37zM493.00 351.89h2.37v2.36h-2.37z" fill="#e46669"/>
<path d="M352.17 234.55h2.37v2.36h-2.37zM357.92 234.55h2.37v2.36h-2.37zM363.67 234.55h2.37v2.36h-2.37zM369.42 234.55h2.37v2.36h-2.37zM375.16 234.55h2.37v2.36h-2.37zM406.78 234.55h2.37v2.36h-2.37zM380.91 237.41h2.37v2.36h-2.37zM398.16 237.41h2.37v2.36h-2.37zM403.91 237.41h2.37v2.36h-2.37zM346.42 240.27h2.37v2.36h-2.37zM375.16 240.27h2.37v2.36h-2.37zM401.03 240.27h2.37v2.36h-2.37zM403.91 240.27h2.37v2.36h-2.37zM406.78 240.27h2.37v2.36h-2.37zM352.17 243.14h2.37v2.36h-2.37zM406.78 243.14h2.37v2.36h-2.37zM406.78 246.00h2.37v2.36h-2.37zM380.91 248.86h2.37v2.36h-2.37zM403.91 248.86h2.37v2.36h-2.37zM406.78 248.86h2.37v2.36h-2.37zM398.16 251.72h2.37v2.36h-2.37zM401.03 251.72h2.37v2.36h-2.37zM403.91 251.72h2.37v2.36h-2.37zM378.04 254.58h2.37v2.36h-2.37zM380.91 254.58h2.37v2.36h-2.37zM349.30 257.45h2.37v2.36h-2.37zM355.05 257.45h2.37v2.36h-2.37zM363.67 257.45h2.37v2.36h-2.37zM366.54 257.45h2.37v2.36h-2.37zM401.03 257.45h2.37v2.36h-2.37zM403.91 257.45h2.37v2.36h-2.37zM366.54 260.31h2.37v2.36h-2.37zM401.03 260.31h2.37v2.36h-2.37zM403.91 260.31h2.37v2.36h-2.37zM406.78 260.31h2.37v2.36h-2.37zM355.05 263.17h2.37v2.36h-2.37zM369.42 263.17h2.37v2.36h-2.37zM403.91 263.17h2.37v2.36h-2.37zM406.78 263.17h2.37v2.36h-2.37zM349.30 266.03h2.37v2.36h-2.37zM352.17 266.03h2.37v2.36h-2.37zM346.42 268.89h2.37v2.36h-2.37zM375.16 268.89h2.37v2.36h-2.37zM409.65 268.89h2.37v2.36h-2.37zM349.30 271.76h2.37v2.36h-2.37zM355.05 271.76h2.37v2.36h-2.37zM378.04 271.76h2.37v2.36h-2.37zM403.91 271.76h2.37v2.36h-2.37zM409.65 271.76h2.37v2.36h-2.37zM349.30 274.62h2.37v2.36h-2.37zM352.17 274.62h2.37v2.36h-2.37zM406.78 274.62h2.37v2.36h-2.37zM352.17 277.48h2.37v2.36h-2.37zM355.05 277.48h2.37v2.36h-2.37zM386.66 277.48h2.37v2.36h-2.37zM406.78 277.48h2.37v2.36h-2.37zM383.79 283.20h2.37v2.36h-2.37zM406.78 283.20h2.37v2.36h-2.37zM360.79 286.07h2.37v2.36h-2.37zM398.16 286.07h2.37v2.36h-2.37zM401.03 286.07h2.37v2.36h-2.37zM352.17 288.93h2.37v2.36h-2.37zM398.16 288.93h2.37v2.36h-2.37zM369.42 291.79h2.37v2.36h-2.37zM372.29 291.79h2.37v2.36h-2.37zM406.78 291.79h2.37v2.36h-2.37zM406.78 294.65h2.37v2.36h-2.37zM352.17 297.51h2.37v2.36h-2.37zM375.16 297.51h2.37v2.36h-2.37zM343.55 300.38h2.37v2.36h-2.37zM392.41 300.38h2.37v2.36h-2.37zM395.28 300.38h2.37v2.36h-2.37zM406.78 300.38h2.37v2.36h-2.37zM346.42 306.10h2.37v2.36h-2.37zM349.30 306.10h2.37v2.36h-2.37zM389.54 306.10h2.37v2.36h-2.37zM392.41 306.10h2.37v2.36h-2.37zM398.16 306.10h2.37v2.36h-2.37zM346.42 308.96h2.37v2.36h-2.37zM389.54 308.96h2.37v2.36h-2.37zM392.41 308.96h2.37v2.36h-2.37zM395.28 308.96h2.37v2.36h-2.37zM403.91 308.96h2.37v2.36h-2.37zM369.42 311.82h2.37v2.36h-2.37zM372.29 311.82h2.37v2.36h-2.37zM380.91 311.82h2.37v2.36h-2.37zM383.79 311.82h2.37v2.36h-2.37zM386.66 311.82h2.37v2.36h-2.37zM389.54 311.82h2.37v2.36h-2.37zM409.65 311.82h2.37v2.36h-2.37zM355.05 314.69h2.37v2.36h-2.37zM375.16 314.69h2.37v2.36h-2.37zM395.28 314.69h2.37v2.36h-2.37zM403.91 314.69h2.37v2.36h-2.37zM409.65 314.69h2.37v2.36h-2.37zM349.30 317.55h2.37v2.36h-2.37zM352.17 317.55h2.37v2.36h-2.37zM355.05 317.55h2.37v2.36h-2.37zM360.79 317.55h2.37v2.36h-2.37zM380.91 317.55h2.37v2.36h-2.37zM406.78 317.55h2.37v2.36h-2.37zM346.42 320.41h2.37v2.36h-2.37zM352.17 320.41h2.37v2.36h-2.37zM378.04 320.41h2.37v2.36h-2.37zM349.30 323.27h2.37v2.36h-2.37zM389.54 326.13h2.37v2.36h-2.37zM398.16 329.00h2.37v2.36h-2.37zM349.30 331.86h2.37v2.36h-2.37zM401.03 331.86h2.37v2.36h-2.37zM352.17 334.72h2.37v2.36h-2.37zM355.05 334.72h2.37v2.36h-2.37zM366.54 334.72h2.37v2.36h-2.37zM392.41 334.72h2.37v2.36h-2.37zM395.28 334.72h2.37v2.36h-2.37zM378.04 337.58h2.37v2.36h-2.37zM392.41 337.58h2.37v2.36h-2.37zM401.03 337.58h2.37v2.36h-2.37zM406.78 337.58h2.37v2.36h-2.37zM355.05 340.44h2.37v2.36h-2.37zM375.16 340.44h2.37v2.36h-2.37zM406.78 340.44h2.37v2.36h-2.37zM352.17 343.31h2.37v2.36h-2.37zM360.79 343.31h2.37v2.36h-2.37zM363.67 343.31h2.37v2.36h-2.37zM366.54 343.31h2.37v2.36h-2.37zM372.29 343.31h2.37v2.36h-2.37zM378.04 343.31h2.37v2.36h-2.37zM380.91 343.31h2.37v2.36h-2.37zM383.79 343.31h2.37v2.36h-2.37zM389.54 343.31h2.37v2.36h-2.37zM392.41 343.31h2.37v2.36h-2.37zM395.28 343.31h2.37v2.36h-2.37zM352.17 346.17h2.37v2.36h-2.37zM355.05 346.17h2.37v2.36h-2.37zM372.29 346.17h2.37v2.36h-2.37zM380.91 346.17h2.37v2.36h-2.37zM346.42 349.03h2.37v2.36h-2.37zM366.54 349.03h2.37v2.36h-2.37zM378.04 349.03h2.37v2.36h-2.37zM380.91 349.03h2.37v2.36h-2.37zM346.42 351.89h2.37v2.36h-2.37zM349.30 351.89h2.37v2.36h-2.37zM357.92 351.89h2.37v2.36h-2.37zM360.79 351.89h2.37v2.36h-2.37zM375.16 351.89h2.37v2.36h-2.37zM378.04 351.89h2.37v2.36h-2.37zM403.91 354.75h2.37v2.36h-2.37zM372.29 357.62h2.37v2.36h-2.37zM378.04 357.62h2.37v2.36h-2.37zM380.91 357.62h2.37v2.36h-2.37zM403.91 357.62h2.37v2.36h-2.37zM406.78 357.62h2.37v2.36h-2.37zM352.17 360.48h2.37v2.36h-2.37zM360.79 360.48h2.37v2.36h-2.37zM378.04 360.48h2.37v2.36h-2.37zM403.91 360.48h2.37v2.36h-2.37zM352.17 363.34h2.37v2.36h-2.37zM366.54 363.34h2.37v2.36h-2.37zM375.16 363.34h2.37v2.36h-2.37zM406.78 363.34h2.37v2.36h-2.37zM343.55 366.20h2.37v2.36h-2.37zM352.17 366.20h2.37v2.36h-2.37zM372.29 366.20h2.37v2.36h-2.37zM375.16 366.20h2.37v2.36h-2.37zM380.91 366.20h2.37v2.36h-2.37zM352.17 369.06h2.37v2.36h-2.37zM355.05 369.06h2.37v2.36h-2.37zM372.29 369.06h2.37v2.36h-2.37zM375.16 369.06h2.37v2.36h-2.37zM380.91 369.06h2.37v2.36h-2.37zM349.30 371.93h2.37v2.36h-2.37zM352.17 371.93h2.37v2.36h-2.37zM375.16 371.93h2.37v2.36h-2.37zM378.04 371.93h2.37v2.36h-2.37zM349.30 374.79h2.37v2.36h-2.37zM352.17 374.79h2.37v2.36h-2.37zM355.05 374.79h2.37v2.36h-2.37zM363.67 374.79h2.37v2.36h-2.37zM369.42 374.79h2.37v2.36h-2.37zM372.29 374.79h2.37v2.36h-2.37zM375.16 374.79h2.37v2.36h-2.37zM378.04 374.79h2.37v2.36h-2.37zM398.16 374.79h2.37v2.36h-2.37zM401.03 374.79h2.37v2.36h-2.37zM403.91 374.79h2.37v2.36h-2.37zM409.65 374.79h2.37v2.36h-2.37z" fill="#db3236"/>
<path d="M401.03 234.55h2.37v2.36h-2.37zM403.91 234.55h2.37v2.36h-2.37zM378.04 237.41h2.37v2.36h-2.37zM401.03 237.41h2.37v2.36h-2.37zM406.78 237.41h2.37v2.36h-2.37zM343.55 240.27h2.37v2.36h-2.37zM380.91 243.14h2.37v2.36h-2.37zM383.79 243.14h2.37v2.36h-2.37zM403.91 243.14h2.37v2.36h-2.37zM380.91 246.00h2.37v2.36h-2.37zM401.03 246.00h2.37v2.36h-2.37zM395.28 248.86h2.37v2.36h-2.37zM398.16 248.86h2.37v2.36h-2.37zM380.91 251.72h2.37v2.36h-2.37zM395.28 251.72h2.37v2.36h-2.37zM352.17 254.58h2.37v2.36h-2.37zM355.05 254.58h2.37v2.36h-2.37zM360.79 254.58h2.37v2.36h-2.37zM363.67 254.58h2.37v2.36h-2.37zM352.17 257.45h2.37v2.36h-2.37zM409.65 260.31h2.37v2.36h-2.37zM349.30 263.17h2.37v2.36h-2.37zM352.17 263.17h2.37v2.36h-2.37zM380.91 263.17h2.37v2.36h-2.37zM406.78 266.03h2.37v2.36h-2.37zM406.78 268.89h2.37v2.36h-2.37zM406.78 271.76h2.37v2.36h-2.37zM403.91 274.62h2.37v2.36h-2.37zM375.16 277.48h2.37v2.36h-2.37zM386.66 280.34h2.37v2.36h-2.37zM352.17 286.07h2.37v2.36h-2.37zM360.79 288.93h2.37v2.36h-2.37zM369.42 288.93h2.37v2.36h-2.37zM395.28 288.93h2.37v2.36h-2.37zM349.30 294.65h2.37v2.36h-2.37zM352.17 294.65h2.37v2.36h-2.37zM372.29 294.65h2.37v2.36h-2.37zM383.79 303.24h2.37v2.36h-2.37zM386.66 303.24h2.37v2.36h-2.37zM403.91 303.24h2.37v2.36h-2.37zM401.03 306.10h2.37v2.36h-2.37zM403.91 306.10h2.37v2.36h-2.37zM349.30 311.82h2.37v2.36h-2.37zM406.78 314.69h2.37v2.36h-2.37zM369.42 317.55h2.37v2.36h-2.37zM360.79 320.41h2.37v2.36h-2.37zM406.78 320.41h2.37v2.36h-2.37zM366.54 323.27h2.37v2.36h-2.37zM375.16 323.27h2.37v2.36h-2.37zM378.04 323.27h2.37v2.36h-2.37zM380.91 326.13h2.37v2.36h-2.37zM349.30 334.72h2.37v2.36h-2.37zM389.54 334.72h2.37v2.36h-2.37zM403.91 334.72h2.37v2.36h-2.37zM352.17 337.58h2.37v2.36h-2.37zM355.05 337.58h2.37v2.36h-2.37zM389.54 337.58h2.37v2.36h-2.37zM403.91 337.58h2.37v2.36h-2.37zM349.30 340.44h2.37v2.36h-2.37zM352.17 340.44h2.37v2.36h-2.37zM346.42 343.31h2.37v2.36h-2.37zM349.30 343.31h2.37v2.36h-2.37zM346.42 346.17h2.37v2.36h-2.37zM349.30 346.17h2.37v2.36h-2.37zM403.91 351.89h2.37v2.36h-2.37zM406.78 351.89h2.37v2.36h-2.37zM352.17 354.75h2.37v2.36h-2.37zM378.04 354.75h2.37v2.36h-2.37zM406.78 354.75h2.37v2.36h-2.37zM349.30 357.62h2.37v2.36h-2.37zM352.17 357.62h2.37v2.36h-2.37zM372.29 360.48h2.37v2.36h-2.37zM409.65 363.34h2.37v2.36h-2.37zM406.78 374.79h2.37v2.36h-2.37z" fill="#d61418"/>
</g>
<rect x="338.9" y="7.5" width="73.4" height="6.0" fill="#fb0505"/>
<rect x="412.3" y="7.5" width="88.3" height="6.0" fill="#fff000"/>
<text class="b" x="375.8" y="12.6" font-size="6.3" text-anchor="middle">ALK-</text>
<text class="b" x="457.6" y="12.6" font-size="6.3" text-anchor="middle">ALK+</text>
<rect x="338.9" y="216.8" width="73.4" height="6.5" fill="#fb0505"/>
<rect x="412.3" y="216.8" width="88.3" height="6.5" fill="#fff000"/>
<text class="b" x="375.8" y="222.4" font-size="6.3" text-anchor="middle">ALK-</text>
<text class="b" x="457.6" y="222.4" font-size="6.3" text-anchor="middle">ALK+</text>
<g fill="#333">
<text transform="translate(345.44 37.3) rotate(-90) scale(0.225)" font-size="10" font-weight="bold" style="fill:#000;stroke:#000;stroke-width:1.5px" textLength="64.9" lengthAdjust="spacingAndGlyphs">ALK-_01_A</text>
<text transform="translate(348.31 37.3) rotate(-90) scale(0.225)" font-size="10" font-weight="bold" style="fill:#000;stroke:#000;stroke-width:1.5px" textLength="75.6" lengthAdjust="spacingAndGlyphs">ALK-_02_AL</text>
<text transform="translate(351.19 37.3) rotate(-90) scale(0.225)" font-size="10" font-weight="bold" style="fill:#000;stroke:#000;stroke-width:1.5px" textLength="75.6" lengthAdjust="spacingAndGlyphs">ALK-_03_AL</text>
<text transform="translate(354.06 37.3) rotate(-90) scale(0.225)" font-size="10" font-weight="bold" style="fill:#000;stroke:#000;stroke-width:1.5px" textLength="97.8" lengthAdjust="spacingAndGlyphs">ALK-_04_ALCL_L</text>
<text transform="translate(356.93 37.3) rotate(-90) scale(0.225)" font-size="10" font-weight="bold" style="fill:#000;stroke:#000;stroke-width:1.5px" textLength="71.1" lengthAdjust="spacingAndGlyphs">ALK-_05_AL</text>
<text transform="translate(359.81 37.3) rotate(-90) scale(0.225)" font-size="10" font-weight="bold" style="fill:#000;stroke:#000;stroke-width:1.5px" textLength="64.9" lengthAdjust="spacingAndGlyphs">ALK-_06_A</text>
<text transform="translate(362.68 37.3) rotate(-90) scale(0.225)" font-size="10" font-weight="bold" style="fill:#000;stroke:#000;stroke-width:1.5px" textLength="99.1" lengthAdjust="spacingAndGlyphs">ALK-_07_ALCL_L</text>
<text transform="translate(365.56 37.3) rotate(-90) scale(0.225)" font-size="10" font-weight="bold" style="fill:#000;stroke:#000;stroke-width:1.5px" textLength="75.6" lengthAdjust="spacingAndGlyphs">ALK-_08_AL</text>
<text transform="translate(368.43 37.3) rotate(-90) scale(0.225)" font-size="10" font-weight="bold" style="fill:#000;stroke:#000;stroke-width:1.5px" textLength="92.4" lengthAdjust="spacingAndGlyphs">ALK-_09_ALCL_</text>
<text transform="translate(371.30 37.3) rotate(-90) scale(0.225)" font-size="10" font-weight="bold" style="fill:#000;stroke:#000;stroke-width:1.5px" textLength="88.9" lengthAdjust="spacingAndGlyphs">ALK-_10_ALCL</text>
<text transform="translate(374.18 37.3) rotate(-90) scale(0.225)" font-size="10" font-weight="bold" style="fill:#000;stroke:#000;stroke-width:1.5px" textLength="92.4" lengthAdjust="spacingAndGlyphs">ALK-_11_ALCL_</text>
<text transform="translate(377.05 37.3) rotate(-90) scale(0.225)" font-size="10" font-weight="bold" style="fill:#000;stroke:#000;stroke-width:1.5px" textLength="85.3" lengthAdjust="spacingAndGlyphs">ALK-_12_ALCL</text>
<text transform="translate(379.93 37.3) rotate(-90) scale(0.225)" font-size="10" font-weight="bold" style="fill:#000;stroke:#000;stroke-width:1.5px" textLength="78.7" lengthAdjust="spacingAndGlyphs">ALK-_13_ALC</text>
<text transform="translate(382.80 37.3) rotate(-90) scale(0.225)" font-size="10" font-weight="bold" style="fill:#000;stroke:#000;stroke-width:1.5px" textLength="85.3" lengthAdjust="spacingAndGlyphs">ALK-_14_ALCL</text>
<text transform="translate(385.67 37.3) rotate(-90) scale(0.225)" font-size="10" font-weight="bold" style="fill:#000;stroke:#000;stroke-width:1.5px" textLength="88.9" lengthAdjust="spacingAndGlyphs">ALK-_15_ALCL</text>
<text transform="translate(388.55 37.3) rotate(-90) scale(0.225)" font-size="10" font-weight="bold" style="fill:#000;stroke:#000;stroke-width:1.5px" textLength="72.0" lengthAdjust="spacingAndGlyphs">ALK-ALCL16</text>
<text transform="translate(391.42 37.3) rotate(-90) scale(0.225)" font-size="10" font-weight="bold" style="fill:#000;stroke:#000;stroke-width:1.5px" textLength="72.0" lengthAdjust="spacingAndGlyphs">ALK-ALCL17</text>
<text transform="translate(394.30 37.3) rotate(-90) scale(0.225)" font-size="10" font-weight="bold" style="fill:#000;stroke:#000;stroke-width:1.5px" textLength="72.0" lengthAdjust="spacingAndGlyphs">ALK-ALCL18</text>
<text transform="translate(397.17 37.3) rotate(-90) scale(0.225)" font-size="10" font-weight="bold" style="fill:#000;stroke:#000;stroke-width:1.5px" textLength="72.0" lengthAdjust="spacingAndGlyphs">ALK-ALCL19</text>
<text transform="translate(400.04 37.3) rotate(-90) scale(0.225)" font-size="10" font-weight="bold" style="fill:#000;stroke:#000;stroke-width:1.5px" textLength="72.0" lengthAdjust="spacingAndGlyphs">ALK-ALCL20</text>
<text transform="translate(402.92 37.3) rotate(-90) scale(0.225)" font-size="10" font-weight="bold" style="fill:#000;stroke:#000;stroke-width:1.5px" textLength="72.0" lengthAdjust="spacingAndGlyphs">ALK-ALCL21</text>
<text transform="translate(405.79 37.3) rotate(-90) scale(0.225)" font-size="10" font-weight="bold" style="fill:#000;stroke:#000;stroke-width:1.5px" textLength="72.0" lengthAdjust="spacingAndGlyphs">ALK-ALCL22</text>
<text transform="translate(408.67 37.3) rotate(-90) scale(0.225)" font-size="10" font-weight="bold" style="fill:#000;stroke:#000;stroke-width:1.5px" textLength="72.0" lengthAdjust="spacingAndGlyphs">ALK-ALCL23</text>
<text transform="translate(411.54 37.3) rotate(-90) scale(0.225)" font-size="10" font-weight="bold" style="fill:#000;stroke:#000;stroke-width:1.5px" textLength="72.0" lengthAdjust="spacingAndGlyphs">ALK-ALCL24</text>
<text transform="translate(414.41 37.3) rotate(-90) scale(0.225)" font-size="10" font-weight="bold" style="fill:#000;stroke:#000;stroke-width:1.5px" textLength="75.6" lengthAdjust="spacingAndGlyphs">ALK+ALCL01</text>
<text transform="translate(417.29 37.3) rotate(-90) scale(0.225)" font-size="10" font-weight="bold" style="fill:#000;stroke:#000;stroke-width:1.5px" textLength="75.6" lengthAdjust="spacingAndGlyphs">ALK+ALCL02</text>
<text transform="translate(420.16 37.3) rotate(-90) scale(0.225)" font-size="10" font-weight="bold" style="fill:#000;stroke:#000;stroke-width:1.5px" textLength="88.9" lengthAdjust="spacingAndGlyphs">ALK+_03_ALCL</text>
<text transform="translate(423.04 37.3) rotate(-90) scale(0.225)" font-size="10" font-weight="bold" style="fill:#000;stroke:#000;stroke-width:1.5px" textLength="93.3" lengthAdjust="spacingAndGlyphs">ALK+_04_ALCL_</text>
<text transform="translate(425.91 37.3) rotate(-90) scale(0.225)" font-size="10" font-weight="bold" style="fill:#000;stroke:#000;stroke-width:1.5px" textLength="84.4" lengthAdjust="spacingAndGlyphs">ALK+_05_ALCL</text>
<text transform="translate(428.79 37.3) rotate(-90) scale(0.225)" font-size="10" font-weight="bold" style="fill:#000;stroke:#000;stroke-width:1.5px" textLength="95.6" lengthAdjust="spacingAndGlyphs">ALK+_06_ALCL_</text>
<text transform="translate(431.66 37.3) rotate(-90) scale(0.225)" font-size="10" font-weight="bold" style="fill:#000;stroke:#000;stroke-width:1.5px" textLength="95.6" lengthAdjust="spacingAndGlyphs">ALK+_07_ALCL_</text>
<text transform="translate(434.53 37.3) rotate(-90) scale(0.225)" font-size="10" font-weight="bold" style="fill:#000;stroke:#000;stroke-width:1.5px" textLength="95.6" lengthAdjust="spacingAndGlyphs">ALK+_08_ALCL_</text>
<text transform="translate(437.41 37.3) rotate(-90) scale(0.225)" font-size="10" font-weight="bold" style="fill:#000;stroke:#000;stroke-width:1.5px" textLength="88.9" lengthAdjust="spacingAndGlyphs">ALK+_09_ALCL</text>
<text transform="translate(440.28 37.3) rotate(-90) scale(0.225)" font-size="10" font-weight="bold" style="fill:#000;stroke:#000;stroke-width:1.5px" textLength="84.4" lengthAdjust="spacingAndGlyphs">ALK+_10_ALCL</text>
<text transform="translate(443.16 37.3) rotate(-90) scale(0.225)" font-size="10" font-weight="bold" style="fill:#000;stroke:#000;stroke-width:1.5px" textLength="80.0" lengthAdjust="spacingAndGlyphs">ALK+_11_ALC</text>
<text transform="translate(446.03 37.3) rotate(-90) scale(0.225)" font-size="10" font-weight="bold" style="fill:#000;stroke:#000;stroke-width:1.5px" textLength="77.8" lengthAdjust="spacingAndGlyphs">ALK+_12_ALC</text>
<text transform="translate(448.90 37.3) rotate(-90) scale(0.225)" font-size="10" font-weight="bold" style="fill:#000;stroke:#000;stroke-width:1.5px" textLength="75.6" lengthAdjust="spacingAndGlyphs">ALK+_13_AL</text>
<text transform="translate(451.78 37.3) rotate(-90) scale(0.225)" font-size="10" font-weight="bold" style="fill:#000;stroke:#000;stroke-width:1.5px" textLength="72.9" lengthAdjust="spacingAndGlyphs">ALK+ALCL14</text>
<text transform="translate(454.65 37.3) rotate(-90) scale(0.225)" font-size="10" font-weight="bold" style="fill:#000;stroke:#000;stroke-width:1.5px" textLength="72.9" lengthAdjust="spacingAndGlyphs">ALK+ALCL15</text>
<text transform="translate(457.53 37.3) rotate(-90) scale(0.225)" font-size="10" font-weight="bold" style="fill:#000;stroke:#000;stroke-width:1.5px" textLength="72.9" lengthAdjust="spacingAndGlyphs">ALK+ALCL16</text>
<text transform="translate(460.40 37.3) rotate(-90) scale(0.225)" font-size="10" font-weight="bold" style="fill:#000;stroke:#000;stroke-width:1.5px" textLength="72.9" lengthAdjust="spacingAndGlyphs">ALK+ALCL17</text>
<text transform="translate(463.27 37.3) rotate(-90) scale(0.225)" font-size="10" font-weight="bold" style="fill:#000;stroke:#000;stroke-width:1.5px" textLength="72.9" lengthAdjust="spacingAndGlyphs">ALK+ALCL18</text>
<text transform="translate(466.15 37.3) rotate(-90) scale(0.225)" font-size="10" font-weight="bold" style="fill:#000;stroke:#000;stroke-width:1.5px" textLength="72.9" lengthAdjust="spacingAndGlyphs">ALK+ALCL19</text>
<text transform="translate(469.02 37.3) rotate(-90) scale(0.225)" font-size="10" font-weight="bold" style="fill:#000;stroke:#000;stroke-width:1.5px" textLength="72.9" lengthAdjust="spacingAndGlyphs">ALK+ALCL20</text>
<text transform="translate(471.90 37.3) rotate(-90) scale(0.225)" font-size="10" font-weight="bold" style="fill:#000;stroke:#000;stroke-width:1.5px" textLength="72.9" lengthAdjust="spacingAndGlyphs">ALK+ALCL21</text>
<text transform="translate(474.77 37.3) rotate(-90) scale(0.225)" font-size="10" font-weight="bold" style="fill:#000;stroke:#000;stroke-width:1.5px" textLength="72.9" lengthAdjust="spacingAndGlyphs">ALK+ALCL22</text>
<text transform="translate(477.64 37.3) rotate(-90) scale(0.225)" font-size="10" font-weight="bold" style="fill:#000;stroke:#000;stroke-width:1.5px" textLength="72.9" lengthAdjust="spacingAndGlyphs">ALK+ALCL23</text>
<text transform="translate(480.52 37.3) rotate(-90) scale(0.225)" font-size="10" font-weight="bold" style="fill:#000;stroke:#000;stroke-width:1.5px" textLength="72.9" lengthAdjust="spacingAndGlyphs">ALK+ALCL24</text>
<text transform="translate(483.39 37.3) rotate(-90) scale(0.225)" font-size="10" font-weight="bold" style="fill:#000;stroke:#000;stroke-width:1.5px" textLength="72.9" lengthAdjust="spacingAndGlyphs">ALK+ALCL25</text>
<text transform="translate(486.27 37.3) rotate(-90) scale(0.225)" font-size="10" font-weight="bold" style="fill:#000;stroke:#000;stroke-width:1.5px" textLength="72.9" lengthAdjust="spacingAndGlyphs">ALK+ALCL26</text>
<text transform="translate(489.14 37.3) rotate(-90) scale(0.225)" font-size="10" font-weight="bold" style="fill:#000;stroke:#000;stroke-width:1.5px" textLength="72.9" lengthAdjust="spacingAndGlyphs">ALK+ALCL27</text>
<text transform="translate(492.01 37.3) rotate(-90) scale(0.225)" font-size="10" font-weight="bold" style="fill:#000;stroke:#000;stroke-width:1.5px" textLength="72.9" lengthAdjust="spacingAndGlyphs">ALK+ALCL28</text>
<text transform="translate(494.89 37.3) rotate(-90) scale(0.225)" font-size="10" font-weight="bold" style="fill:#000;stroke:#000;stroke-width:1.5px" textLength="72.9" lengthAdjust="spacingAndGlyphs">ALK+ALCL29</text>
<text transform="translate(497.76 37.3) rotate(-90) scale(0.225)" font-size="10" font-weight="bold" style="fill:#000;stroke:#000;stroke-width:1.5px" textLength="72.9" lengthAdjust="spacingAndGlyphs">ALK+ALCL30</text>
</g>
<text class="b" x="500.2" y="54.1" font-size="4.3">PRF1</text>
<text class="b" x="500.2" y="57.9" font-size="4.3">ALK</text>
<text class="b" x="500.2" y="99.8" font-size="4.3">IL1RAP</text>
<text class="b" x="500.2" y="116.8" font-size="4.3">CCND3</text>
<text class="b" x="500.2" y="159.5" font-size="4.3">BCL3</text>
<text class="b" x="500.2" y="179.5" font-size="4.3">GAS1</text>
<text class="b" x="500.2" y="313.5" font-size="4.3">RASGRP1</text>
<text class="b" x="500.2" y="343.9" font-size="4.3">TRAF1</text>
<text class="b" x="500.2" y="348.4" font-size="3.7">CD80</text>
<text class="b" x="500.2" y="351.9" font-size="3.7">CD86</text>
<text class="b" x="500.2" y="366.1" font-size="4.3">MIRN155</text>
<text class="b" x="500.2" y="378.1" font-size="4.3">CCND2</text>
</g>
</svg></body></html>
